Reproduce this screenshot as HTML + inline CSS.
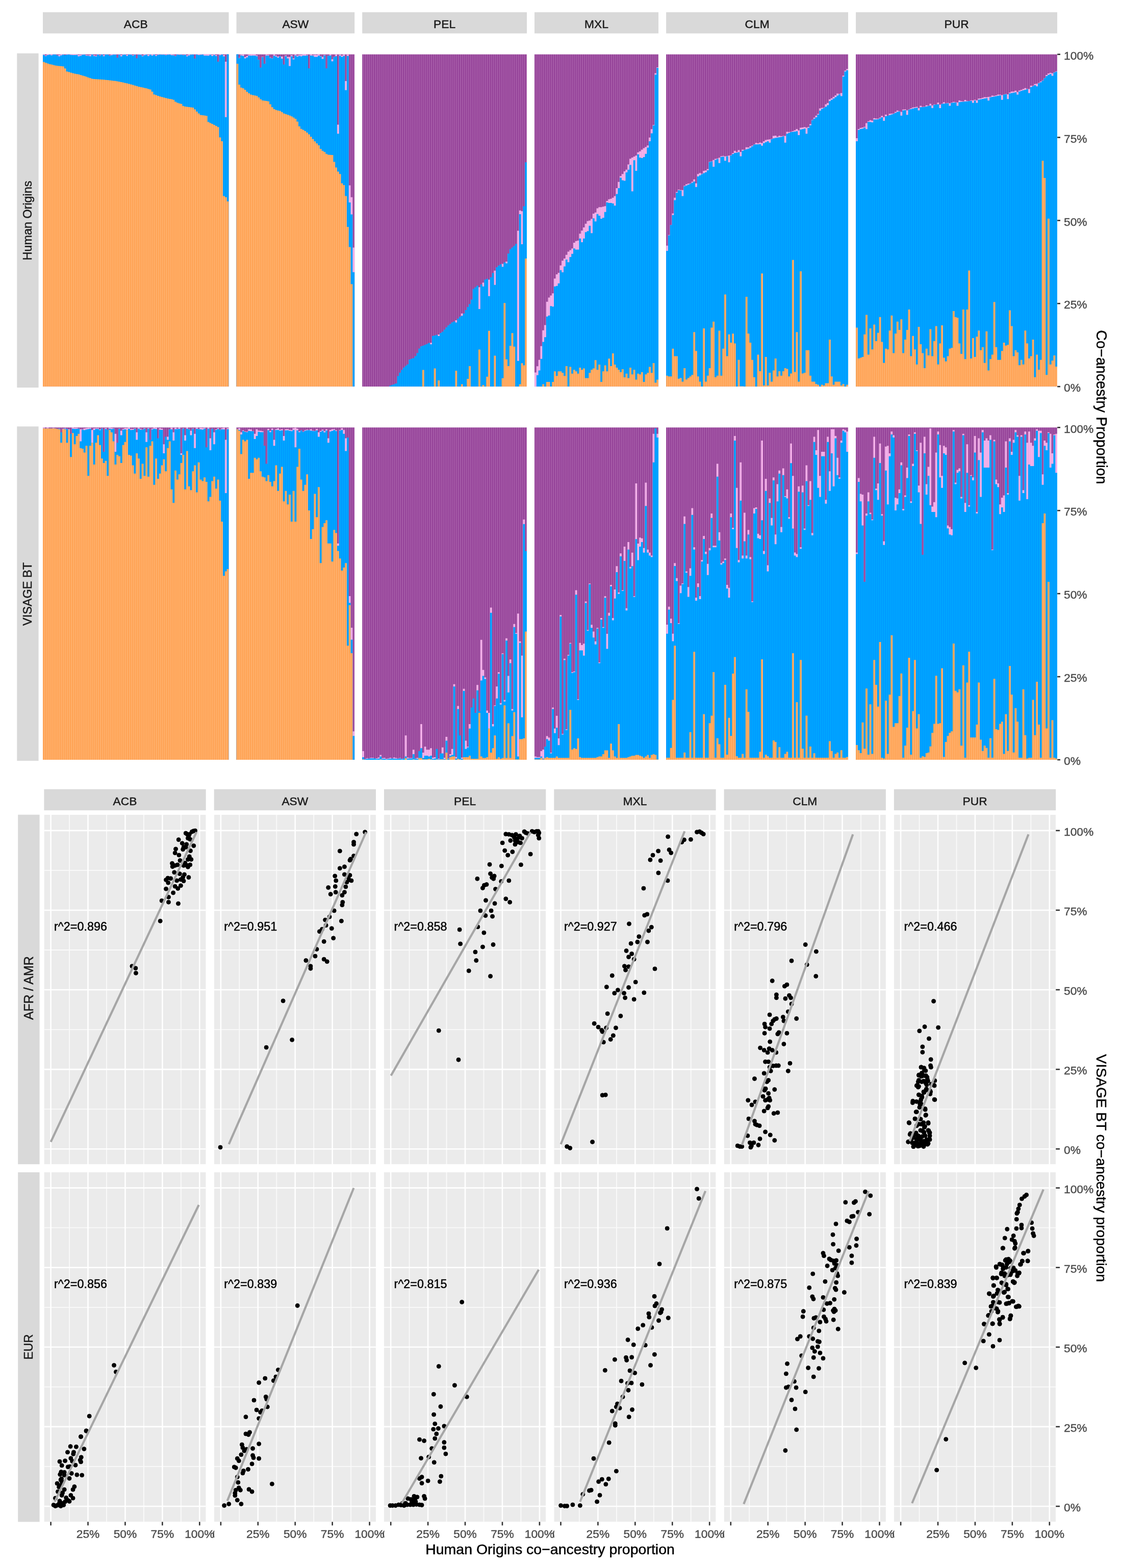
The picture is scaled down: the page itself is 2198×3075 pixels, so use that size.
<!DOCTYPE html>
<html><head><meta charset="utf-8"><title>Co-ancestry figure</title>
<style>html,body{margin:0;padding:0;background:#fff;}svg{display:block;}text{font-family:"Liberation Sans", Arial, Helvetica, sans-serif;stroke-width:0.45;}</style>
</head><body>
<svg width="2198" height="3075" viewBox="0 0 2198 3075">
<defs><pattern id="pACB1u" patternUnits="userSpaceOnUse" x="84.000" y="0" width="3.797" height="4000"><rect width="3.797" height="4000" fill="#923E96"/><rect x="2.097" width="1.7" height="4000" fill="#AB63AD"/></pattern><pattern id="pACB1k" patternUnits="userSpaceOnUse" x="84.000" y="0" width="3.797" height="4000"><rect width="3.797" height="4000" fill="#EEA6E4"/><rect x="2.097" width="1.7" height="4000" fill="#F6B8EC"/></pattern><pattern id="pACB1b" patternUnits="userSpaceOnUse" x="84.000" y="0" width="3.797" height="4000"><rect width="3.797" height="4000" fill="#0098FF"/><rect x="2.097" width="1.7" height="4000" fill="#00ABFF"/></pattern><pattern id="pACB1o" patternUnits="userSpaceOnUse" x="84.000" y="0" width="3.797" height="4000"><rect width="3.797" height="4000" fill="#FFA050"/><rect x="2.097" width="1.7" height="4000" fill="#FFB472"/></pattern><pattern id="pASW1u" patternUnits="userSpaceOnUse" x="463.572" y="0" width="3.797" height="4000"><rect width="3.797" height="4000" fill="#923E96"/><rect x="2.097" width="1.7" height="4000" fill="#AB63AD"/></pattern><pattern id="pASW1k" patternUnits="userSpaceOnUse" x="463.572" y="0" width="3.797" height="4000"><rect width="3.797" height="4000" fill="#EEA6E4"/><rect x="2.097" width="1.7" height="4000" fill="#F6B8EC"/></pattern><pattern id="pASW1b" patternUnits="userSpaceOnUse" x="463.572" y="0" width="3.797" height="4000"><rect width="3.797" height="4000" fill="#0098FF"/><rect x="2.097" width="1.7" height="4000" fill="#00ABFF"/></pattern><pattern id="pASW1o" patternUnits="userSpaceOnUse" x="463.572" y="0" width="3.797" height="4000"><rect width="3.797" height="4000" fill="#FFA050"/><rect x="2.097" width="1.7" height="4000" fill="#FFB472"/></pattern><pattern id="pPEL1u" patternUnits="userSpaceOnUse" x="710.249" y="0" width="3.797" height="4000"><rect width="3.797" height="4000" fill="#923E96"/><rect x="2.097" width="1.7" height="4000" fill="#AB63AD"/></pattern><pattern id="pPEL1k" patternUnits="userSpaceOnUse" x="710.249" y="0" width="3.797" height="4000"><rect width="3.797" height="4000" fill="#EEA6E4"/><rect x="2.097" width="1.7" height="4000" fill="#F6B8EC"/></pattern><pattern id="pPEL1b" patternUnits="userSpaceOnUse" x="710.249" y="0" width="3.797" height="4000"><rect width="3.797" height="4000" fill="#0098FF"/><rect x="2.097" width="1.7" height="4000" fill="#00ABFF"/></pattern><pattern id="pPEL1o" patternUnits="userSpaceOnUse" x="710.249" y="0" width="3.797" height="4000"><rect width="3.797" height="4000" fill="#FFA050"/><rect x="2.097" width="1.7" height="4000" fill="#FFB472"/></pattern><pattern id="pMXL1u" patternUnits="userSpaceOnUse" x="1048.054" y="0" width="3.797" height="4000"><rect width="3.797" height="4000" fill="#923E96"/><rect x="2.097" width="1.7" height="4000" fill="#AB63AD"/></pattern><pattern id="pMXL1k" patternUnits="userSpaceOnUse" x="1048.054" y="0" width="3.797" height="4000"><rect width="3.797" height="4000" fill="#EEA6E4"/><rect x="2.097" width="1.7" height="4000" fill="#F6B8EC"/></pattern><pattern id="pMXL1b" patternUnits="userSpaceOnUse" x="1048.054" y="0" width="3.797" height="4000"><rect width="3.797" height="4000" fill="#0098FF"/><rect x="2.097" width="1.7" height="4000" fill="#00ABFF"/></pattern><pattern id="pMXL1o" patternUnits="userSpaceOnUse" x="1048.054" y="0" width="3.797" height="4000"><rect width="3.797" height="4000" fill="#FFA050"/><rect x="2.097" width="1.7" height="4000" fill="#FFB472"/></pattern><pattern id="pCLM1u" patternUnits="userSpaceOnUse" x="1306.122" y="0" width="3.797" height="4000"><rect width="3.797" height="4000" fill="#923E96"/><rect x="2.097" width="1.7" height="4000" fill="#AB63AD"/></pattern><pattern id="pCLM1k" patternUnits="userSpaceOnUse" x="1306.122" y="0" width="3.797" height="4000"><rect width="3.797" height="4000" fill="#EEA6E4"/><rect x="2.097" width="1.7" height="4000" fill="#F6B8EC"/></pattern><pattern id="pCLM1b" patternUnits="userSpaceOnUse" x="1306.122" y="0" width="3.797" height="4000"><rect width="3.797" height="4000" fill="#0098FF"/><rect x="2.097" width="1.7" height="4000" fill="#00ABFF"/></pattern><pattern id="pCLM1o" patternUnits="userSpaceOnUse" x="1306.122" y="0" width="3.797" height="4000"><rect width="3.797" height="4000" fill="#FFA050"/><rect x="2.097" width="1.7" height="4000" fill="#FFB472"/></pattern><pattern id="pPUR1u" patternUnits="userSpaceOnUse" x="1678.100" y="0" width="3.797" height="4000"><rect width="3.797" height="4000" fill="#923E96"/><rect x="2.097" width="1.7" height="4000" fill="#AB63AD"/></pattern><pattern id="pPUR1k" patternUnits="userSpaceOnUse" x="1678.100" y="0" width="3.797" height="4000"><rect width="3.797" height="4000" fill="#EEA6E4"/><rect x="2.097" width="1.7" height="4000" fill="#F6B8EC"/></pattern><pattern id="pPUR1b" patternUnits="userSpaceOnUse" x="1678.100" y="0" width="3.797" height="4000"><rect width="3.797" height="4000" fill="#0098FF"/><rect x="2.097" width="1.7" height="4000" fill="#00ABFF"/></pattern><pattern id="pPUR1o" patternUnits="userSpaceOnUse" x="1678.100" y="0" width="3.797" height="4000"><rect width="3.797" height="4000" fill="#FFA050"/><rect x="2.097" width="1.7" height="4000" fill="#FFB472"/></pattern><pattern id="pACB2u" patternUnits="userSpaceOnUse" x="84.000" y="0" width="3.797" height="4000"><rect width="3.797" height="4000" fill="#923E96"/><rect x="2.097" width="1.7" height="4000" fill="#AB63AD"/></pattern><pattern id="pACB2k" patternUnits="userSpaceOnUse" x="84.000" y="0" width="3.797" height="4000"><rect width="3.797" height="4000" fill="#EEA6E4"/><rect x="2.097" width="1.7" height="4000" fill="#F6B8EC"/></pattern><pattern id="pACB2b" patternUnits="userSpaceOnUse" x="84.000" y="0" width="3.797" height="4000"><rect width="3.797" height="4000" fill="#0098FF"/><rect x="2.097" width="1.7" height="4000" fill="#00ABFF"/></pattern><pattern id="pACB2o" patternUnits="userSpaceOnUse" x="84.000" y="0" width="3.797" height="4000"><rect width="3.797" height="4000" fill="#FFA050"/><rect x="2.097" width="1.7" height="4000" fill="#FFB472"/></pattern><pattern id="pASW2u" patternUnits="userSpaceOnUse" x="463.572" y="0" width="3.797" height="4000"><rect width="3.797" height="4000" fill="#923E96"/><rect x="2.097" width="1.7" height="4000" fill="#AB63AD"/></pattern><pattern id="pASW2k" patternUnits="userSpaceOnUse" x="463.572" y="0" width="3.797" height="4000"><rect width="3.797" height="4000" fill="#EEA6E4"/><rect x="2.097" width="1.7" height="4000" fill="#F6B8EC"/></pattern><pattern id="pASW2b" patternUnits="userSpaceOnUse" x="463.572" y="0" width="3.797" height="4000"><rect width="3.797" height="4000" fill="#0098FF"/><rect x="2.097" width="1.7" height="4000" fill="#00ABFF"/></pattern><pattern id="pASW2o" patternUnits="userSpaceOnUse" x="463.572" y="0" width="3.797" height="4000"><rect width="3.797" height="4000" fill="#FFA050"/><rect x="2.097" width="1.7" height="4000" fill="#FFB472"/></pattern><pattern id="pPEL2u" patternUnits="userSpaceOnUse" x="710.249" y="0" width="3.797" height="4000"><rect width="3.797" height="4000" fill="#923E96"/><rect x="2.097" width="1.7" height="4000" fill="#AB63AD"/></pattern><pattern id="pPEL2k" patternUnits="userSpaceOnUse" x="710.249" y="0" width="3.797" height="4000"><rect width="3.797" height="4000" fill="#EEA6E4"/><rect x="2.097" width="1.7" height="4000" fill="#F6B8EC"/></pattern><pattern id="pPEL2b" patternUnits="userSpaceOnUse" x="710.249" y="0" width="3.797" height="4000"><rect width="3.797" height="4000" fill="#0098FF"/><rect x="2.097" width="1.7" height="4000" fill="#00ABFF"/></pattern><pattern id="pPEL2o" patternUnits="userSpaceOnUse" x="710.249" y="0" width="3.797" height="4000"><rect width="3.797" height="4000" fill="#FFA050"/><rect x="2.097" width="1.7" height="4000" fill="#FFB472"/></pattern><pattern id="pMXL2u" patternUnits="userSpaceOnUse" x="1048.054" y="0" width="3.797" height="4000"><rect width="3.797" height="4000" fill="#923E96"/><rect x="2.097" width="1.7" height="4000" fill="#AB63AD"/></pattern><pattern id="pMXL2k" patternUnits="userSpaceOnUse" x="1048.054" y="0" width="3.797" height="4000"><rect width="3.797" height="4000" fill="#EEA6E4"/><rect x="2.097" width="1.7" height="4000" fill="#F6B8EC"/></pattern><pattern id="pMXL2b" patternUnits="userSpaceOnUse" x="1048.054" y="0" width="3.797" height="4000"><rect width="3.797" height="4000" fill="#0098FF"/><rect x="2.097" width="1.7" height="4000" fill="#00ABFF"/></pattern><pattern id="pMXL2o" patternUnits="userSpaceOnUse" x="1048.054" y="0" width="3.797" height="4000"><rect width="3.797" height="4000" fill="#FFA050"/><rect x="2.097" width="1.7" height="4000" fill="#FFB472"/></pattern><pattern id="pCLM2u" patternUnits="userSpaceOnUse" x="1306.122" y="0" width="3.797" height="4000"><rect width="3.797" height="4000" fill="#923E96"/><rect x="2.097" width="1.7" height="4000" fill="#AB63AD"/></pattern><pattern id="pCLM2k" patternUnits="userSpaceOnUse" x="1306.122" y="0" width="3.797" height="4000"><rect width="3.797" height="4000" fill="#EEA6E4"/><rect x="2.097" width="1.7" height="4000" fill="#F6B8EC"/></pattern><pattern id="pCLM2b" patternUnits="userSpaceOnUse" x="1306.122" y="0" width="3.797" height="4000"><rect width="3.797" height="4000" fill="#0098FF"/><rect x="2.097" width="1.7" height="4000" fill="#00ABFF"/></pattern><pattern id="pCLM2o" patternUnits="userSpaceOnUse" x="1306.122" y="0" width="3.797" height="4000"><rect width="3.797" height="4000" fill="#FFA050"/><rect x="2.097" width="1.7" height="4000" fill="#FFB472"/></pattern><pattern id="pPUR2u" patternUnits="userSpaceOnUse" x="1678.100" y="0" width="3.797" height="4000"><rect width="3.797" height="4000" fill="#923E96"/><rect x="2.097" width="1.7" height="4000" fill="#AB63AD"/></pattern><pattern id="pPUR2k" patternUnits="userSpaceOnUse" x="1678.100" y="0" width="3.797" height="4000"><rect width="3.797" height="4000" fill="#EEA6E4"/><rect x="2.097" width="1.7" height="4000" fill="#F6B8EC"/></pattern><pattern id="pPUR2b" patternUnits="userSpaceOnUse" x="1678.100" y="0" width="3.797" height="4000"><rect width="3.797" height="4000" fill="#0098FF"/><rect x="2.097" width="1.7" height="4000" fill="#00ABFF"/></pattern><pattern id="pPUR2o" patternUnits="userSpaceOnUse" x="1678.100" y="0" width="3.797" height="4000"><rect width="3.797" height="4000" fill="#FFA050"/><rect x="2.097" width="1.7" height="4000" fill="#FFB472"/></pattern></defs>
<rect width="2198" height="3075" fill="#fff"/>
<g>
<rect x="84.00" y="24" width="364.51" height="41.5" fill="#D9D9D9"/>
<text x="266.26" y="54.8" font-size="22.8" text-anchor="middle" fill="#1A1A1A" stroke="#1A1A1A">ACB</text>
<rect x="463.57" y="24" width="231.62" height="41.5" fill="#D9D9D9"/>
<text x="579.38" y="54.8" font-size="22.8" text-anchor="middle" fill="#1A1A1A" stroke="#1A1A1A">ASW</text>
<rect x="710.25" y="24" width="322.75" height="41.5" fill="#D9D9D9"/>
<text x="871.62" y="54.8" font-size="22.8" text-anchor="middle" fill="#1A1A1A" stroke="#1A1A1A">PEL</text>
<rect x="1048.05" y="24" width="243.01" height="41.5" fill="#D9D9D9"/>
<text x="1169.56" y="54.8" font-size="22.8" text-anchor="middle" fill="#1A1A1A" stroke="#1A1A1A">MXL</text>
<rect x="1306.12" y="24" width="356.92" height="41.5" fill="#D9D9D9"/>
<text x="1484.58" y="54.8" font-size="22.8" text-anchor="middle" fill="#1A1A1A" stroke="#1A1A1A">CLM</text>
<rect x="1678.10" y="24" width="394.89" height="41.5" fill="#D9D9D9"/>
<text x="1875.54" y="54.8" font-size="22.8" text-anchor="middle" fill="#1A1A1A" stroke="#1A1A1A">PUR</text>
<g>
<rect x="84.00" y="106.6" width="364.51" height="651.50" fill="url(#pACB1u)"/>
<path d="M84.00 106.60h3.80V758.10h-3.80ZM87.80 108.72h3.80V758.10h-3.80ZM91.59 106.60h3.80V758.10h-3.80ZM95.39 106.60h3.80V758.10h-3.80ZM99.19 106.60h3.80V758.10h-3.80ZM102.98 106.60h3.80V758.10h-3.80ZM106.78 106.60h3.80V758.10h-3.80ZM110.58 108.65h3.80V758.10h-3.80ZM114.38 107.64h3.80V758.10h-3.80ZM118.17 106.77h3.80V758.10h-3.80ZM121.97 107.12h3.80V758.10h-3.80ZM125.77 107.89h3.80V758.10h-3.80ZM129.56 106.60h3.80V758.10h-3.80ZM133.36 106.60h3.80V758.10h-3.80ZM137.16 106.60h3.80V758.10h-3.80ZM140.96 106.60h3.80V758.10h-3.80ZM144.75 106.60h3.80V758.10h-3.80ZM148.55 107.00h3.80V758.10h-3.80ZM152.35 107.66h3.80V758.10h-3.80ZM156.14 107.49h3.80V758.10h-3.80ZM159.94 106.75h3.80V758.10h-3.80ZM163.74 107.16h3.80V758.10h-3.80ZM167.53 107.97h3.80V758.10h-3.80ZM171.33 108.47h3.80V758.10h-3.80ZM175.13 107.82h3.80V758.10h-3.80ZM178.93 106.60h3.80V758.10h-3.80ZM182.72 108.62h3.80V758.10h-3.80ZM186.52 109.30h3.80V758.10h-3.80ZM190.32 106.60h3.80V758.10h-3.80ZM194.11 108.42h3.80V758.10h-3.80ZM197.91 106.60h3.80V758.10h-3.80ZM201.71 108.13h3.80V758.10h-3.80ZM205.50 106.60h3.80V758.10h-3.80ZM209.30 106.94h3.80V758.10h-3.80ZM213.10 108.80h3.80V758.10h-3.80ZM216.90 106.86h3.80V758.10h-3.80ZM220.69 106.60h3.80V758.10h-3.80ZM224.49 106.60h3.80V758.10h-3.80ZM232.08 106.60h3.80V758.10h-3.80ZM235.88 108.04h3.80V758.10h-3.80ZM239.68 106.60h3.80V758.10h-3.80ZM243.47 106.60h3.80V758.10h-3.80ZM247.27 107.77h3.80V758.10h-3.80ZM251.07 106.60h3.80V758.10h-3.80ZM254.87 106.60h3.80V758.10h-3.80ZM258.66 108.22h3.80V758.10h-3.80ZM262.46 107.17h3.80V758.10h-3.80ZM270.05 106.60h3.80V758.10h-3.80ZM273.85 106.60h3.80V758.10h-3.80ZM277.65 108.90h3.80V758.10h-3.80ZM281.44 106.60h3.80V758.10h-3.80ZM285.24 106.74h3.80V758.10h-3.80ZM289.04 107.58h3.80V758.10h-3.80ZM292.84 106.74h3.80V758.10h-3.80ZM296.63 106.60h3.80V758.10h-3.80ZM300.43 106.60h3.80V758.10h-3.80ZM304.23 108.05h3.80V758.10h-3.80ZM308.02 107.40h3.80V758.10h-3.80ZM311.82 106.60h3.80V758.10h-3.80ZM315.62 106.60h3.80V758.10h-3.80ZM319.41 106.60h3.80V758.10h-3.80ZM323.21 107.47h3.80V758.10h-3.80ZM327.01 106.60h3.80V758.10h-3.80ZM330.81 106.60h3.80V758.10h-3.80ZM334.60 106.60h3.80V758.10h-3.80ZM338.40 107.58h3.80V758.10h-3.80ZM342.20 109.45h3.80V758.10h-3.80ZM345.99 106.60h3.80V758.10h-3.80ZM349.79 107.60h3.80V758.10h-3.80ZM353.59 106.60h3.80V758.10h-3.80ZM357.38 107.85h3.80V758.10h-3.80ZM361.18 106.60h3.80V758.10h-3.80ZM364.98 108.54h3.80V758.10h-3.80ZM368.78 107.04h3.80V758.10h-3.80ZM372.57 107.04h3.80V758.10h-3.80ZM376.37 106.60h3.80V758.10h-3.80ZM383.96 106.60h3.80V758.10h-3.80ZM387.76 106.60h3.80V758.10h-3.80ZM391.56 106.60h3.80V758.10h-3.80ZM395.35 106.60h3.80V758.10h-3.80ZM399.15 106.60h3.80V758.10h-3.80ZM402.95 106.92h3.80V758.10h-3.80ZM406.75 106.60h3.80V758.10h-3.80ZM410.54 106.60h3.80V758.10h-3.80ZM414.34 107.38h3.80V758.10h-3.80ZM418.14 106.60h3.80V758.10h-3.80ZM421.93 108.02h3.80V758.10h-3.80ZM429.53 106.60h3.80V758.10h-3.80ZM433.32 106.60h3.80V758.10h-3.80ZM437.12 107.97h3.80V758.10h-3.80ZM440.92 120.93h3.80V758.10h-3.80Z" fill="url(#pACB1k)"/>
<path d="M84.00 107.80h3.80V758.10h-3.80ZM87.80 110.10h3.80V758.10h-3.80ZM91.59 107.99h3.80V758.10h-3.80ZM95.39 107.20h3.80V758.10h-3.80ZM99.19 108.48h3.80V758.10h-3.80ZM102.98 107.11h3.80V758.10h-3.80ZM106.78 107.10h3.80V758.10h-3.80ZM110.58 108.78h3.80V758.10h-3.80ZM114.38 110.49h3.80V758.10h-3.80ZM118.17 108.59h3.80V758.10h-3.80ZM121.97 107.16h3.80V758.10h-3.80ZM125.77 108.06h3.80V758.10h-3.80ZM129.56 107.20h3.80V758.10h-3.80ZM133.36 107.08h3.80V758.10h-3.80ZM137.16 107.76h3.80V758.10h-3.80ZM140.96 108.03h3.80V758.10h-3.80ZM144.75 107.96h3.80V758.10h-3.80ZM148.55 107.82h3.80V758.10h-3.80ZM152.35 110.60h3.80V758.10h-3.80ZM156.14 109.57h3.80V758.10h-3.80ZM159.94 107.43h3.80V758.10h-3.80ZM163.74 107.37h3.80V758.10h-3.80ZM167.53 109.15h3.80V758.10h-3.80ZM171.33 109.61h3.80V758.10h-3.80ZM175.13 110.32h3.80V758.10h-3.80ZM178.93 107.08h3.80V758.10h-3.80ZM182.72 110.01h3.80V758.10h-3.80ZM186.52 110.48h3.80V758.10h-3.80ZM190.32 107.09h3.80V758.10h-3.80ZM194.11 109.22h3.80V758.10h-3.80ZM197.91 107.10h3.80V758.10h-3.80ZM201.71 110.36h3.80V758.10h-3.80ZM205.50 107.12h3.80V758.10h-3.80ZM209.30 107.11h3.80V758.10h-3.80ZM213.10 109.32h3.80V758.10h-3.80ZM216.90 108.18h3.80V758.10h-3.80ZM220.69 107.20h3.80V758.10h-3.80ZM224.49 107.14h3.80V758.10h-3.80ZM228.29 113.27h3.80V758.10h-3.80ZM232.08 107.24h3.80V758.10h-3.80ZM235.88 110.41h3.80V758.10h-3.80ZM239.68 107.40h3.80V758.10h-3.80ZM243.47 107.23h3.80V758.10h-3.80ZM247.27 109.66h3.80V758.10h-3.80ZM251.07 107.11h3.80V758.10h-3.80ZM254.87 107.24h3.80V758.10h-3.80ZM258.66 109.19h3.80V758.10h-3.80ZM262.46 107.39h3.80V758.10h-3.80ZM266.26 114.15h3.80V758.10h-3.80ZM270.05 107.28h3.80V758.10h-3.80ZM273.85 107.56h3.80V758.10h-3.80ZM277.65 110.33h3.80V758.10h-3.80ZM281.44 108.24h3.80V758.10h-3.80ZM285.24 107.19h3.80V758.10h-3.80ZM289.04 109.99h3.80V758.10h-3.80ZM292.84 107.30h3.80V758.10h-3.80ZM296.63 109.01h3.80V758.10h-3.80ZM300.43 107.21h3.80V758.10h-3.80ZM304.23 109.83h3.80V758.10h-3.80ZM308.02 107.70h3.80V758.10h-3.80ZM311.82 107.08h3.80V758.10h-3.80ZM315.62 107.28h3.80V758.10h-3.80ZM319.41 107.31h3.80V758.10h-3.80ZM323.21 108.33h3.80V758.10h-3.80ZM327.01 107.18h3.80V758.10h-3.80ZM330.81 107.09h3.80V758.10h-3.80ZM334.60 108.18h3.80V758.10h-3.80ZM338.40 108.41h3.80V758.10h-3.80ZM342.20 110.05h3.80V758.10h-3.80ZM345.99 107.08h3.80V758.10h-3.80ZM349.79 107.78h3.80V758.10h-3.80ZM353.59 107.19h3.80V758.10h-3.80ZM357.38 108.23h3.80V758.10h-3.80ZM361.18 107.54h3.80V758.10h-3.80ZM364.98 110.48h3.80V758.10h-3.80ZM368.78 108.77h3.80V758.10h-3.80ZM372.57 107.15h3.80V758.10h-3.80ZM376.37 107.08h3.80V758.10h-3.80ZM380.17 114.74h3.80V758.10h-3.80ZM383.96 107.08h3.80V758.10h-3.80ZM387.76 107.90h3.80V758.10h-3.80ZM391.56 107.44h3.80V758.10h-3.80ZM395.35 107.10h3.80V758.10h-3.80ZM399.15 109.00h3.80V758.10h-3.80ZM402.95 109.00h3.80V758.10h-3.80ZM406.75 109.30h3.80V758.10h-3.80ZM410.54 107.51h3.80V758.10h-3.80ZM414.34 109.95h3.80V758.10h-3.80ZM418.14 107.69h3.80V758.10h-3.80ZM421.93 109.71h3.80V758.10h-3.80ZM425.73 120.93h3.80V758.10h-3.80ZM429.53 108.28h3.80V758.10h-3.80ZM433.32 107.10h3.80V758.10h-3.80ZM437.12 110.57h3.80V758.10h-3.80ZM440.92 229.72h3.80V758.10h-3.80ZM444.72 106.60h3.80V758.10h-3.80Z" fill="url(#pACB1b)"/>
<path d="M84.00 121.47h3.80V758.10h-3.80ZM87.80 123.01h3.80V758.10h-3.80ZM91.59 124.55h3.80V758.10h-3.80ZM95.39 125.67h3.80V758.10h-3.80ZM99.19 126.58h3.80V758.10h-3.80ZM102.98 127.49h3.80V758.10h-3.80ZM106.78 128.40h3.80V758.10h-3.80ZM110.58 128.96h3.80V758.10h-3.80ZM114.38 129.41h3.80V758.10h-3.80ZM118.17 129.87h3.80V758.10h-3.80ZM121.97 130.32h3.80V758.10h-3.80ZM125.77 134.16h3.80V758.10h-3.80ZM129.56 140.20h3.80V758.10h-3.80ZM133.36 141.34h3.80V758.10h-3.80ZM137.16 142.48h3.80V758.10h-3.80ZM140.96 143.62h3.80V758.10h-3.80ZM144.75 144.52h3.80V758.10h-3.80ZM148.55 145.15h3.80V758.10h-3.80ZM152.35 145.86h3.80V758.10h-3.80ZM156.14 147.00h3.80V758.10h-3.80ZM159.94 148.14h3.80V758.10h-3.80ZM163.74 149.28h3.80V758.10h-3.80ZM167.53 150.49h3.80V758.10h-3.80ZM171.33 151.91h3.80V758.10h-3.80ZM175.13 153.34h3.80V758.10h-3.80ZM178.93 154.59h3.80V758.10h-3.80ZM182.72 154.88h3.80V758.10h-3.80ZM186.52 155.18h3.80V758.10h-3.80ZM190.32 155.47h3.80V758.10h-3.80ZM194.11 155.77h3.80V758.10h-3.80ZM197.91 156.06h3.80V758.10h-3.80ZM201.71 156.36h3.80V758.10h-3.80ZM205.50 156.68h3.80V758.10h-3.80ZM209.30 157.11h3.80V758.10h-3.80ZM213.10 157.54h3.80V758.10h-3.80ZM216.90 157.98h3.80V758.10h-3.80ZM220.69 158.41h3.80V758.10h-3.80ZM224.49 158.85h3.80V758.10h-3.80ZM228.29 159.52h3.80V758.10h-3.80ZM232.08 160.28h3.80V758.10h-3.80ZM235.88 161.04h3.80V758.10h-3.80ZM239.68 161.80h3.80V758.10h-3.80ZM243.47 162.68h3.80V758.10h-3.80ZM247.27 163.60h3.80V758.10h-3.80ZM251.07 164.51h3.80V758.10h-3.80ZM254.87 165.42h3.80V758.10h-3.80ZM258.66 166.55h3.80V758.10h-3.80ZM262.46 167.69h3.80V758.10h-3.80ZM266.26 168.83h3.80V758.10h-3.80ZM270.05 169.94h3.80V758.10h-3.80ZM273.85 170.78h3.80V758.10h-3.80ZM277.65 171.61h3.80V758.10h-3.80ZM281.44 172.45h3.80V758.10h-3.80ZM285.24 173.33h3.80V758.10h-3.80ZM289.04 174.42h3.80V758.10h-3.80ZM292.84 175.50h3.80V758.10h-3.80ZM296.63 179.75h3.80V758.10h-3.80ZM300.43 185.32h3.80V758.10h-3.80ZM304.23 186.61h3.80V758.10h-3.80ZM308.02 187.90h3.80V758.10h-3.80ZM311.82 189.19h3.80V758.10h-3.80ZM315.62 190.35h3.80V758.10h-3.80ZM319.41 191.34h3.80V758.10h-3.80ZM323.21 192.33h3.80V758.10h-3.80ZM327.01 193.31h3.80V758.10h-3.80ZM330.81 194.03h3.80V758.10h-3.80ZM334.60 194.54h3.80V758.10h-3.80ZM338.40 195.79h3.80V758.10h-3.80ZM342.20 199.59h3.80V758.10h-3.80ZM345.99 201.56h3.80V758.10h-3.80ZM349.79 202.64h3.80V758.10h-3.80ZM353.59 203.73h3.80V758.10h-3.80ZM357.38 207.65h3.80V758.10h-3.80ZM361.18 208.91h3.80V758.10h-3.80ZM364.98 209.43h3.80V758.10h-3.80ZM368.78 209.96h3.80V758.10h-3.80ZM372.57 210.48h3.80V758.10h-3.80ZM376.37 211.01h3.80V758.10h-3.80ZM380.17 214.54h3.80V758.10h-3.80ZM383.96 218.66h3.80V758.10h-3.80ZM387.76 222.45h3.80V758.10h-3.80ZM391.56 225.44h3.80V758.10h-3.80ZM395.35 226.03h3.80V758.10h-3.80ZM399.15 226.62h3.80V758.10h-3.80ZM402.95 227.22h3.80V758.10h-3.80ZM406.75 239.26h3.80V758.10h-3.80ZM410.54 241.16h3.80V758.10h-3.80ZM414.34 243.06h3.80V758.10h-3.80ZM418.14 244.96h3.80V758.10h-3.80ZM421.93 247.04h3.80V758.10h-3.80ZM425.73 249.32h3.80V758.10h-3.80ZM429.53 269.54h3.80V758.10h-3.80ZM433.32 276.89h3.80V758.10h-3.80ZM437.12 384.40h3.80V758.10h-3.80ZM440.92 386.68h3.80V758.10h-3.80ZM444.72 395.01h3.80V758.10h-3.80Z" fill="url(#pACB1o)"/>
</g>
<g>
<rect x="463.57" y="106.6" width="231.62" height="651.50" fill="url(#pASW1u)"/>
<path d="M467.37 113.49h3.80V758.10h-3.80ZM471.17 107.30h3.80V758.10h-3.80ZM474.96 106.60h3.80V758.10h-3.80ZM478.76 111.99h3.80V758.10h-3.80ZM482.56 109.79h3.80V758.10h-3.80ZM486.35 107.28h3.80V758.10h-3.80ZM490.15 106.60h3.80V758.10h-3.80ZM493.95 106.60h3.80V758.10h-3.80ZM497.75 106.60h3.80V758.10h-3.80ZM501.54 108.51h3.80V758.10h-3.80ZM505.34 117.14h3.80V758.10h-3.80ZM512.93 111.52h3.80V758.10h-3.80ZM520.53 107.25h3.80V758.10h-3.80ZM524.32 107.77h3.80V758.10h-3.80ZM528.12 112.72h3.80V758.10h-3.80ZM531.92 114.36h3.80V758.10h-3.80ZM535.72 106.60h3.80V758.10h-3.80ZM539.51 109.01h3.80V758.10h-3.80ZM543.31 111.07h3.80V758.10h-3.80ZM547.11 110.46h3.80V758.10h-3.80ZM550.90 111.07h3.80V758.10h-3.80ZM558.50 108.84h3.80V758.10h-3.80ZM562.29 111.68h3.80V758.10h-3.80ZM566.09 111.79h3.80V758.10h-3.80ZM569.89 108.29h3.80V758.10h-3.80ZM573.68 114.52h3.80V758.10h-3.80ZM577.48 106.60h3.80V758.10h-3.80ZM581.28 108.88h3.80V758.10h-3.80ZM585.08 107.66h3.80V758.10h-3.80ZM588.87 107.44h3.80V758.10h-3.80ZM592.67 106.70h3.80V758.10h-3.80ZM596.47 106.60h3.80V758.10h-3.80ZM600.26 107.72h3.80V758.10h-3.80ZM607.86 106.98h3.80V758.10h-3.80ZM611.65 108.19h3.80V758.10h-3.80ZM615.45 107.56h3.80V758.10h-3.80ZM619.25 107.63h3.80V758.10h-3.80ZM623.05 106.60h3.80V758.10h-3.80ZM626.84 109.63h3.80V758.10h-3.80ZM630.64 111.69h3.80V758.10h-3.80ZM634.44 107.74h3.80V758.10h-3.80ZM642.03 109.50h3.80V758.10h-3.80ZM645.83 106.60h3.80V758.10h-3.80ZM649.62 116.14h3.80V758.10h-3.80ZM653.42 111.74h3.80V758.10h-3.80ZM657.22 106.82h3.80V758.10h-3.80ZM661.02 244.46h3.80V758.10h-3.80ZM664.81 107.29h3.80V758.10h-3.80ZM668.61 108.94h3.80V758.10h-3.80ZM672.41 106.60h3.80V758.10h-3.80ZM676.20 158.96h3.80V758.10h-3.80ZM680.00 106.60h3.80V758.10h-3.80ZM683.80 363.56h3.80V758.10h-3.80ZM687.60 386.85h3.80V758.10h-3.80ZM691.39 485.61h3.80V758.10h-3.80Z" fill="url(#pASW1k)"/>
<path d="M463.57 106.60h3.80V758.10h-3.80ZM467.37 114.08h3.80V758.10h-3.80ZM471.17 108.85h3.80V758.10h-3.80ZM474.96 109.73h3.80V758.10h-3.80ZM478.76 114.47h3.80V758.10h-3.80ZM482.56 112.52h3.80V758.10h-3.80ZM486.35 109.09h3.80V758.10h-3.80ZM490.15 109.15h3.80V758.10h-3.80ZM493.95 108.89h3.80V758.10h-3.80ZM497.75 108.91h3.80V758.10h-3.80ZM501.54 110.18h3.80V758.10h-3.80ZM505.34 117.21h3.80V758.10h-3.80ZM509.14 132.43h3.80V758.10h-3.80ZM512.93 111.90h3.80V758.10h-3.80ZM516.73 125.06h3.80V758.10h-3.80ZM520.53 108.99h3.80V758.10h-3.80ZM524.32 109.06h3.80V758.10h-3.80ZM528.12 113.40h3.80V758.10h-3.80ZM531.92 114.57h3.80V758.10h-3.80ZM535.72 109.19h3.80V758.10h-3.80ZM539.51 110.74h3.80V758.10h-3.80ZM543.31 113.03h3.80V758.10h-3.80ZM547.11 110.59h3.80V758.10h-3.80ZM550.90 115.07h3.80V758.10h-3.80ZM554.70 126.53h3.80V758.10h-3.80ZM558.50 110.34h3.80V758.10h-3.80ZM562.29 114.46h3.80V758.10h-3.80ZM566.09 129.48h3.80V758.10h-3.80ZM569.89 110.40h3.80V758.10h-3.80ZM573.68 116.58h3.80V758.10h-3.80ZM577.48 108.85h3.80V758.10h-3.80ZM581.28 111.03h3.80V758.10h-3.80ZM585.08 109.43h3.80V758.10h-3.80ZM588.87 110.62h3.80V758.10h-3.80ZM592.67 108.97h3.80V758.10h-3.80ZM596.47 109.22h3.80V758.10h-3.80ZM600.26 108.86h3.80V758.10h-3.80ZM604.06 133.90h3.80V758.10h-3.80ZM607.86 108.88h3.80V758.10h-3.80ZM611.65 109.36h3.80V758.10h-3.80ZM615.45 111.52h3.80V758.10h-3.80ZM619.25 111.57h3.80V758.10h-3.80ZM623.05 109.18h3.80V758.10h-3.80ZM626.84 110.41h3.80V758.10h-3.80ZM630.64 115.45h3.80V758.10h-3.80ZM634.44 108.84h3.80V758.10h-3.80ZM638.23 133.90h3.80V758.10h-3.80ZM642.03 109.53h3.80V758.10h-3.80ZM645.83 108.86h3.80V758.10h-3.80ZM649.62 120.26h3.80V758.10h-3.80ZM653.42 111.84h3.80V758.10h-3.80ZM657.22 110.07h3.80V758.10h-3.80ZM661.02 262.15h3.80V758.10h-3.80ZM664.81 109.47h3.80V758.10h-3.80ZM668.61 111.53h3.80V758.10h-3.80ZM672.41 109.66h3.80V758.10h-3.80ZM676.20 176.65h3.80V758.10h-3.80ZM680.00 109.85h3.80V758.10h-3.80ZM683.80 396.88h3.80V758.10h-3.80ZM687.60 420.46h3.80V758.10h-3.80ZM691.39 533.67h3.80V758.10h-3.80Z" fill="url(#pASW1b)"/>
<path d="M463.57 125.06h3.80V758.10h-3.80ZM467.37 165.90h3.80V758.10h-3.80ZM471.17 171.66h3.80V758.10h-3.80ZM474.96 173.18h3.80V758.10h-3.80ZM478.76 176.20h3.80V758.10h-3.80ZM482.56 180.00h3.80V758.10h-3.80ZM486.35 183.11h3.80V758.10h-3.80ZM490.15 185.62h3.80V758.10h-3.80ZM493.95 186.38h3.80V758.10h-3.80ZM497.75 187.14h3.80V758.10h-3.80ZM501.54 188.03h3.80V758.10h-3.80ZM505.34 191.07h3.80V758.10h-3.80ZM509.14 194.44h3.80V758.10h-3.80ZM512.93 196.90h3.80V758.10h-3.80ZM516.73 197.49h3.80V758.10h-3.80ZM520.53 198.08h3.80V758.10h-3.80ZM524.32 198.67h3.80V758.10h-3.80ZM528.12 204.38h3.80V758.10h-3.80ZM531.92 210.19h3.80V758.10h-3.80ZM535.72 213.99h3.80V758.10h-3.80ZM539.51 215.68h3.80V758.10h-3.80ZM543.31 216.63h3.80V758.10h-3.80ZM547.11 217.58h3.80V758.10h-3.80ZM550.90 219.73h3.80V758.10h-3.80ZM554.70 222.45h3.80V758.10h-3.80ZM558.50 223.72h3.80V758.10h-3.80ZM562.29 224.98h3.80V758.10h-3.80ZM566.09 226.44h3.80V758.10h-3.80ZM569.89 228.13h3.80V758.10h-3.80ZM573.68 230.52h3.80V758.10h-3.80ZM577.48 232.90h3.80V758.10h-3.80ZM581.28 238.53h3.80V758.10h-3.80ZM585.08 247.65h3.80V758.10h-3.80ZM588.87 252.86h3.80V758.10h-3.80ZM592.67 254.75h3.80V758.10h-3.80ZM596.47 256.89h3.80V758.10h-3.80ZM600.26 259.93h3.80V758.10h-3.80ZM604.06 263.43h3.80V758.10h-3.80ZM607.86 268.18h3.80V758.10h-3.80ZM611.65 272.79h3.80V758.10h-3.80ZM615.45 277.34h3.80V758.10h-3.80ZM619.25 281.31h3.80V758.10h-3.80ZM623.05 285.11h3.80V758.10h-3.80ZM626.84 292.08h3.80V758.10h-3.80ZM630.64 295.85h3.80V758.10h-3.80ZM634.44 297.97h3.80V758.10h-3.80ZM638.23 301.77h3.80V758.10h-3.80ZM642.03 303.54h3.80V758.10h-3.80ZM645.83 303.76h3.80V758.10h-3.80ZM649.62 303.98h3.80V758.10h-3.80ZM653.42 317.53h3.80V758.10h-3.80ZM657.22 328.42h3.80V758.10h-3.80ZM661.02 336.47h3.80V758.10h-3.80ZM664.81 341.21h3.80V758.10h-3.80ZM668.61 359.43h3.80V758.10h-3.80ZM672.41 362.97h3.80V758.10h-3.80ZM676.20 384.49h3.80V758.10h-3.80ZM680.00 444.93h3.80V758.10h-3.80ZM683.80 484.43h3.80V758.10h-3.80ZM687.60 557.25h3.80V758.10h-3.80Z" fill="url(#pASW1o)"/>
</g>
<g>
<rect x="710.25" y="106.6" width="322.75" height="651.50" fill="url(#pPEL1u)"/>
<path d="M843.14 672.32h3.80V758.10h-3.80ZM858.33 656.10h3.80V758.10h-3.80ZM892.50 628.07h3.80V758.10h-3.80ZM903.90 614.79h3.80V758.10h-3.80ZM938.07 563.17h3.80V758.10h-3.80ZM945.66 554.32h3.80V758.10h-3.80ZM957.05 548.42h3.80V758.10h-3.80ZM968.45 530.72h3.80V758.10h-3.80ZM983.63 517.44h3.80V758.10h-3.80ZM991.23 513.02h3.80V758.10h-3.80ZM1014.01 452.54h3.80V758.10h-3.80ZM1017.81 412.71h3.80V758.10h-3.80ZM1021.60 414.19h3.80V758.10h-3.80Z" fill="url(#pPEL1k)"/>
<path d="M759.61 758.03h3.80V758.10h-3.80ZM763.41 756.29h3.80V758.10h-3.80ZM767.20 754.86h3.80V758.10h-3.80ZM771.00 753.44h3.80V758.10h-3.80ZM774.80 752.01h3.80V758.10h-3.80ZM778.60 737.40h3.80V758.10h-3.80ZM782.39 730.76h3.80V758.10h-3.80ZM786.19 725.33h3.80V758.10h-3.80ZM789.99 720.72h3.80V758.10h-3.80ZM793.78 717.56h3.80V758.10h-3.80ZM797.58 714.39h3.80V758.10h-3.80ZM801.38 705.01h3.80V758.10h-3.80ZM805.17 703.53h3.80V758.10h-3.80ZM808.97 702.27h3.80V758.10h-3.80ZM812.77 698.13h3.80V758.10h-3.80ZM816.57 692.16h3.80V758.10h-3.80ZM820.36 683.62h3.80V758.10h-3.80ZM824.16 679.01h3.80V758.10h-3.80ZM827.96 677.75h3.80V758.10h-3.80ZM831.75 676.35h3.80V758.10h-3.80ZM835.55 674.45h3.80V758.10h-3.80ZM839.35 672.55h3.80V758.10h-3.80ZM843.14 675.27h3.80V758.10h-3.80ZM846.94 658.74h3.80V758.10h-3.80ZM850.74 657.79h3.80V758.10h-3.80ZM854.54 656.84h3.80V758.10h-3.80ZM858.33 659.05h3.80V758.10h-3.80ZM862.13 653.02h3.80V758.10h-3.80ZM865.93 650.48h3.80V758.10h-3.80ZM869.72 646.27h3.80V758.10h-3.80ZM873.52 641.84h3.80V758.10h-3.80ZM877.32 638.11h3.80V758.10h-3.80ZM881.11 634.95h3.80V758.10h-3.80ZM884.91 632.07h3.80V758.10h-3.80ZM888.71 630.17h3.80V758.10h-3.80ZM892.50 632.50h3.80V758.10h-3.80ZM896.30 624.68h3.80V758.10h-3.80ZM900.10 621.10h3.80V758.10h-3.80ZM903.90 619.22h3.80V758.10h-3.80ZM907.69 614.74h3.80V758.10h-3.80ZM911.49 608.09h3.80V758.10h-3.80ZM915.29 601.88h3.80V758.10h-3.80ZM919.08 596.18h3.80V758.10h-3.80ZM922.88 587.43h3.80V758.10h-3.80ZM926.68 566.49h3.80V758.10h-3.80ZM930.48 563.33h3.80V758.10h-3.80ZM934.27 560.20h3.80V758.10h-3.80ZM938.07 605.94h3.80V758.10h-3.80ZM941.87 557.67h3.80V758.10h-3.80ZM945.66 561.69h3.80V758.10h-3.80ZM949.46 548.23h3.80V758.10h-3.80ZM953.26 546.81h3.80V758.10h-3.80ZM957.05 580.87h3.80V758.10h-3.80ZM960.85 543.79h3.80V758.10h-3.80ZM964.65 535.25h3.80V758.10h-3.80ZM968.45 558.74h3.80V758.10h-3.80ZM972.24 523.89h3.80V758.10h-3.80ZM976.04 520.85h3.80V758.10h-3.80ZM979.84 518.23h3.80V758.10h-3.80ZM983.63 523.34h3.80V758.10h-3.80ZM987.43 514.43h3.80V758.10h-3.80ZM991.23 516.56h3.80V758.10h-3.80ZM995.02 497.14h3.80V758.10h-3.80ZM998.82 488.60h3.80V758.10h-3.80ZM1002.62 485.31h3.80V758.10h-3.80ZM1006.41 482.11h3.80V758.10h-3.80ZM1010.21 478.32h3.80V758.10h-3.80ZM1014.01 707.72h3.80V758.10h-3.80ZM1017.81 420.09h3.80V758.10h-3.80ZM1021.60 479.09h3.80V758.10h-3.80ZM1025.40 404.39h3.80V758.10h-3.80ZM1029.20 318.31h3.80V758.10h-3.80Z" fill="url(#pPEL1b)"/>
<path d="M827.96 725.42h3.80V758.10h-3.80ZM850.74 722.47h3.80V758.10h-3.80ZM858.33 746.07h3.80V758.10h-3.80ZM892.50 726.90h3.80V758.10h-3.80ZM903.90 753.45h3.80V758.10h-3.80ZM915.29 743.12h3.80V758.10h-3.80ZM919.08 718.05h3.80V758.10h-3.80ZM938.07 685.60h3.80V758.10h-3.80ZM945.66 754.93h3.80V758.10h-3.80ZM953.26 738.70h3.80V758.10h-3.80ZM957.05 648.72h3.80V758.10h-3.80ZM968.45 697.40h3.80V758.10h-3.80ZM983.63 741.65h3.80V758.10h-3.80ZM987.43 594.14h3.80V758.10h-3.80ZM991.23 704.77h3.80V758.10h-3.80ZM995.02 718.05h3.80V758.10h-3.80ZM998.82 678.22h3.80V758.10h-3.80ZM1002.62 653.15h3.80V758.10h-3.80ZM1006.41 679.70h3.80V758.10h-3.80ZM1017.81 753.45h3.80V758.10h-3.80ZM1021.60 712.15h3.80V758.10h-3.80ZM1025.40 716.57h3.80V758.10h-3.80ZM1029.20 507.12h3.80V758.10h-3.80Z" fill="url(#pPEL1o)"/>
</g>
<g>
<rect x="1048.05" y="106.6" width="243.01" height="651.50" fill="url(#pMXL1u)"/>
<path d="M1048.05 730.55h3.80V758.10h-3.80ZM1051.85 718.13h3.80V758.10h-3.80ZM1055.65 705.71h3.80V758.10h-3.80ZM1059.45 678.80h3.80V758.10h-3.80ZM1063.24 647.75h3.80V758.10h-3.80ZM1067.04 637.40h3.80V758.10h-3.80ZM1070.84 591.87h3.80V758.10h-3.80ZM1074.63 583.59h3.80V758.10h-3.80ZM1078.43 579.45h3.80V758.10h-3.80ZM1082.23 575.31h3.80V758.10h-3.80ZM1086.02 546.33h3.80V758.10h-3.80ZM1089.82 538.05h3.80V758.10h-3.80ZM1093.62 534.94h3.80V758.10h-3.80ZM1097.42 520.45h3.80V758.10h-3.80ZM1101.21 511.14h3.80V758.10h-3.80ZM1105.01 507.00h3.80V758.10h-3.80ZM1108.81 499.75h3.80V758.10h-3.80ZM1112.60 493.54h3.80V758.10h-3.80ZM1116.40 490.44h3.80V758.10h-3.80ZM1120.20 487.33h3.80V758.10h-3.80ZM1123.99 475.95h3.80V758.10h-3.80ZM1127.79 472.84h3.80V758.10h-3.80ZM1131.59 471.81h3.80V758.10h-3.80ZM1135.38 458.35h3.80V758.10h-3.80ZM1139.18 452.14h3.80V758.10h-3.80ZM1142.98 445.93h3.80V758.10h-3.80ZM1146.78 438.69h3.80V758.10h-3.80ZM1150.57 433.51h3.80V758.10h-3.80ZM1154.37 432.48h3.80V758.10h-3.80ZM1158.17 429.37h3.80V758.10h-3.80ZM1161.96 419.02h3.80V758.10h-3.80ZM1165.76 416.70h3.80V758.10h-3.80ZM1169.56 408.42h3.80V758.10h-3.80ZM1173.36 406.35h3.80V758.10h-3.80ZM1177.15 406.35h3.80V758.10h-3.80ZM1180.95 405.32h3.80V758.10h-3.80ZM1184.75 404.28h3.80V758.10h-3.80ZM1188.54 393.94h3.80V758.10h-3.80ZM1192.34 390.83h3.80V758.10h-3.80ZM1196.14 389.80h3.80V758.10h-3.80ZM1199.93 387.73h3.80V758.10h-3.80ZM1203.73 384.62h3.80V758.10h-3.80ZM1207.53 369.10h3.80V758.10h-3.80ZM1211.33 356.68h3.80V758.10h-3.80ZM1215.12 345.29h3.80V758.10h-3.80ZM1218.92 341.15h3.80V758.10h-3.80ZM1222.72 335.98h3.80V758.10h-3.80ZM1226.51 332.87h3.80V758.10h-3.80ZM1230.31 322.52h3.80V758.10h-3.80ZM1234.11 311.14h3.80V758.10h-3.80ZM1237.90 309.07h3.80V758.10h-3.80ZM1241.70 307.00h3.80V758.10h-3.80ZM1245.50 304.93h3.80V758.10h-3.80ZM1249.30 298.72h3.80V758.10h-3.80ZM1253.09 296.65h3.80V758.10h-3.80ZM1256.89 293.54h3.80V758.10h-3.80ZM1260.69 290.44h3.80V758.10h-3.80ZM1264.48 288.37h3.80V758.10h-3.80ZM1268.28 285.26h3.80V758.10h-3.80ZM1272.08 269.74h3.80V758.10h-3.80ZM1275.87 253.18h3.80V758.10h-3.80ZM1279.67 244.90h3.80V758.10h-3.80ZM1283.47 143.47h3.80V758.10h-3.80ZM1287.27 132.08h3.80V758.10h-3.80Z" fill="url(#pMXL1k)"/>
<path d="M1048.05 758.08h3.80V758.10h-3.80ZM1051.85 735.73h3.80V758.10h-3.80ZM1055.65 726.41h3.80V758.10h-3.80ZM1059.45 703.64h3.80V758.10h-3.80ZM1063.24 670.52h3.80V758.10h-3.80ZM1067.04 661.21h3.80V758.10h-3.80ZM1070.84 620.84h3.80V758.10h-3.80ZM1074.63 618.77h3.80V758.10h-3.80ZM1078.43 600.14h3.80V758.10h-3.80ZM1082.23 601.18h3.80V758.10h-3.80ZM1086.02 561.85h3.80V758.10h-3.80ZM1089.82 560.82h3.80V758.10h-3.80ZM1093.62 555.64h3.80V758.10h-3.80ZM1097.42 529.77h3.80V758.10h-3.80ZM1101.21 533.91h3.80V758.10h-3.80ZM1105.01 522.52h3.80V758.10h-3.80ZM1108.81 509.07h3.80V758.10h-3.80ZM1112.60 514.24h3.80V758.10h-3.80ZM1116.40 503.89h3.80V758.10h-3.80ZM1120.20 497.68h3.80V758.10h-3.80ZM1123.99 487.33h3.80V758.10h-3.80ZM1127.79 489.40h3.80V758.10h-3.80ZM1131.59 489.40h3.80V758.10h-3.80ZM1135.38 467.67h3.80V758.10h-3.80ZM1139.18 474.91h3.80V758.10h-3.80ZM1142.98 467.67h3.80V758.10h-3.80ZM1146.78 455.25h3.80V758.10h-3.80ZM1150.57 453.18h3.80V758.10h-3.80ZM1154.37 442.83h3.80V758.10h-3.80ZM1158.17 457.32h3.80V758.10h-3.80ZM1161.96 428.34h3.80V758.10h-3.80ZM1165.76 434.30h3.80V758.10h-3.80ZM1169.56 419.81h3.80V758.10h-3.80ZM1173.36 422.91h3.80V758.10h-3.80ZM1177.15 429.12h3.80V758.10h-3.80ZM1180.95 427.05h3.80V758.10h-3.80ZM1184.75 415.67h3.80V758.10h-3.80ZM1188.54 397.04h3.80V758.10h-3.80ZM1192.34 398.07h3.80V758.10h-3.80ZM1196.14 398.07h3.80V758.10h-3.80ZM1199.93 399.11h3.80V758.10h-3.80ZM1203.73 403.25h3.80V758.10h-3.80ZM1207.53 380.48h3.80V758.10h-3.80ZM1211.33 369.10h3.80V758.10h-3.80ZM1215.12 348.40h3.80V758.10h-3.80ZM1218.92 353.57h3.80V758.10h-3.80ZM1222.72 354.61h3.80V758.10h-3.80ZM1226.51 338.05h3.80V758.10h-3.80ZM1230.31 332.87h3.80V758.10h-3.80ZM1234.11 323.56h3.80V758.10h-3.80ZM1237.90 375.31h3.80V758.10h-3.80ZM1241.70 314.24h3.80V758.10h-3.80ZM1245.50 334.94h3.80V758.10h-3.80ZM1249.30 302.86h3.80V758.10h-3.80ZM1253.09 309.07h3.80V758.10h-3.80ZM1256.89 310.10h3.80V758.10h-3.80ZM1260.69 308.03h3.80V758.10h-3.80ZM1264.48 301.82h3.80V758.10h-3.80ZM1268.28 289.40h3.80V758.10h-3.80ZM1272.08 276.98h3.80V758.10h-3.80ZM1275.87 261.46h3.80V758.10h-3.80ZM1279.67 245.93h3.80V758.10h-3.80ZM1283.47 146.57h3.80V758.10h-3.80ZM1287.27 133.12h3.80V758.10h-3.80Z" fill="url(#pMXL1b)"/>
<path d="M1063.24 753.39h3.80V758.10h-3.80ZM1070.84 748.97h3.80V758.10h-3.80ZM1074.63 748.97h3.80V758.10h-3.80ZM1082.23 748.97h3.80V758.10h-3.80ZM1086.02 728.32h3.80V758.10h-3.80ZM1089.82 737.17h3.80V758.10h-3.80ZM1093.62 728.32h3.80V758.10h-3.80ZM1097.42 728.32h3.80V758.10h-3.80ZM1101.21 731.27h3.80V758.10h-3.80ZM1105.01 737.17h3.80V758.10h-3.80ZM1108.81 717.99h3.80V758.10h-3.80ZM1116.40 719.47h3.80V758.10h-3.80ZM1120.20 732.74h3.80V758.10h-3.80ZM1123.99 725.37h3.80V758.10h-3.80ZM1127.79 728.32h3.80V758.10h-3.80ZM1131.59 732.74h3.80V758.10h-3.80ZM1135.38 720.94h3.80V758.10h-3.80ZM1139.18 725.37h3.80V758.10h-3.80ZM1142.98 722.42h3.80V758.10h-3.80ZM1146.78 741.59h3.80V758.10h-3.80ZM1150.57 741.59h3.80V758.10h-3.80ZM1154.37 731.27h3.80V758.10h-3.80ZM1158.17 725.37h3.80V758.10h-3.80ZM1161.96 722.42h3.80V758.10h-3.80ZM1165.76 706.19h3.80V758.10h-3.80ZM1169.56 725.37h3.80V758.10h-3.80ZM1173.36 715.04h3.80V758.10h-3.80ZM1177.15 748.97h3.80V758.10h-3.80ZM1180.95 728.32h3.80V758.10h-3.80ZM1184.75 716.52h3.80V758.10h-3.80ZM1188.54 728.32h3.80V758.10h-3.80ZM1192.34 703.24h3.80V758.10h-3.80ZM1196.14 717.99h3.80V758.10h-3.80ZM1199.93 692.92h3.80V758.10h-3.80ZM1203.73 715.04h3.80V758.10h-3.80ZM1207.53 720.94h3.80V758.10h-3.80ZM1211.33 725.37h3.80V758.10h-3.80ZM1215.12 729.79h3.80V758.10h-3.80ZM1218.92 723.89h3.80V758.10h-3.80ZM1222.72 740.12h3.80V758.10h-3.80ZM1226.51 732.74h3.80V758.10h-3.80ZM1230.31 741.59h3.80V758.10h-3.80ZM1234.11 720.94h3.80V758.10h-3.80ZM1237.90 734.22h3.80V758.10h-3.80ZM1241.70 725.37h3.80V758.10h-3.80ZM1245.50 744.54h3.80V758.10h-3.80ZM1249.30 732.74h3.80V758.10h-3.80ZM1253.09 734.22h3.80V758.10h-3.80ZM1256.89 729.79h3.80V758.10h-3.80ZM1260.69 748.97h3.80V758.10h-3.80ZM1264.48 734.22h3.80V758.10h-3.80ZM1268.28 731.27h3.80V758.10h-3.80ZM1272.08 719.47h3.80V758.10h-3.80ZM1275.87 731.27h3.80V758.10h-3.80ZM1279.67 712.09h3.80V758.10h-3.80ZM1283.47 750.44h3.80V758.10h-3.80ZM1287.27 744.54h3.80V758.10h-3.80Z" fill="url(#pMXL1o)"/>
</g>
<g>
<rect x="1306.12" y="106.6" width="356.92" height="651.50" fill="url(#pCLM1u)"/>
<path d="M1306.12 481.80h3.80V758.10h-3.80ZM1309.92 460.67h3.80V758.10h-3.80ZM1313.72 441.23h3.80V758.10h-3.80ZM1317.51 418.54h3.80V758.10h-3.80ZM1321.31 387.83h3.80V758.10h-3.80ZM1325.11 376.47h3.80V758.10h-3.80ZM1328.90 371.77h3.80V758.10h-3.80ZM1332.70 372.65h3.80V758.10h-3.80ZM1336.50 372.72h3.80V758.10h-3.80ZM1340.30 364.14h3.80V758.10h-3.80ZM1344.09 361.26h3.80V758.10h-3.80ZM1347.89 359.94h3.80V758.10h-3.80ZM1351.69 359.82h3.80V758.10h-3.80ZM1355.48 356.60h3.80V758.10h-3.80ZM1359.28 351.69h3.80V758.10h-3.80ZM1363.08 359.45h3.80V758.10h-3.80ZM1366.87 341.23h3.80V758.10h-3.80ZM1370.67 339.18h3.80V758.10h-3.80ZM1374.47 340.77h3.80V758.10h-3.80ZM1378.27 335.11h3.80V758.10h-3.80ZM1382.06 334.24h3.80V758.10h-3.80ZM1385.86 331.60h3.80V758.10h-3.80ZM1389.66 317.17h3.80V758.10h-3.80ZM1393.45 316.23h3.80V758.10h-3.80ZM1397.25 313.75h3.80V758.10h-3.80ZM1401.05 311.51h3.80V758.10h-3.80ZM1404.84 310.66h3.80V758.10h-3.80ZM1408.64 309.33h3.80V758.10h-3.80ZM1412.44 306.35h3.80V758.10h-3.80ZM1416.24 305.84h3.80V758.10h-3.80ZM1420.03 306.38h3.80V758.10h-3.80ZM1423.83 306.04h3.80V758.10h-3.80ZM1427.63 304.91h3.80V758.10h-3.80ZM1431.42 304.27h3.80V758.10h-3.80ZM1435.22 300.19h3.80V758.10h-3.80ZM1439.02 295.74h3.80V758.10h-3.80ZM1442.81 298.01h3.80V758.10h-3.80ZM1446.61 294.28h3.80V758.10h-3.80ZM1450.41 298.12h3.80V758.10h-3.80ZM1454.21 293.40h3.80V758.10h-3.80ZM1458.00 293.84h3.80V758.10h-3.80ZM1461.80 288.79h3.80V758.10h-3.80ZM1465.60 289.26h3.80V758.10h-3.80ZM1469.39 286.75h3.80V758.10h-3.80ZM1473.19 285.61h3.80V758.10h-3.80ZM1476.99 283.35h3.80V758.10h-3.80ZM1480.78 280.14h3.80V758.10h-3.80ZM1484.58 281.37h3.80V758.10h-3.80ZM1488.38 279.49h3.80V758.10h-3.80ZM1492.18 280.44h3.80V758.10h-3.80ZM1495.97 276.90h3.80V758.10h-3.80ZM1499.77 274.57h3.80V758.10h-3.80ZM1503.57 273.72h3.80V758.10h-3.80ZM1507.36 273.36h3.80V758.10h-3.80ZM1511.16 272.41h3.80V758.10h-3.80ZM1514.96 266.53h3.80V758.10h-3.80ZM1518.75 266.12h3.80V758.10h-3.80ZM1522.55 268.31h3.80V758.10h-3.80ZM1526.35 266.31h3.80V758.10h-3.80ZM1530.14 266.93h3.80V758.10h-3.80ZM1533.94 266.55h3.80V758.10h-3.80ZM1537.74 266.58h3.80V758.10h-3.80ZM1541.54 258.38h3.80V758.10h-3.80ZM1545.33 258.84h3.80V758.10h-3.80ZM1549.13 258.43h3.80V758.10h-3.80ZM1552.93 256.94h3.80V758.10h-3.80ZM1556.72 255.50h3.80V758.10h-3.80ZM1560.52 252.97h3.80V758.10h-3.80ZM1564.32 255.67h3.80V758.10h-3.80ZM1568.12 250.42h3.80V758.10h-3.80ZM1571.91 250.08h3.80V758.10h-3.80ZM1575.71 249.13h3.80V758.10h-3.80ZM1579.51 250.36h3.80V758.10h-3.80ZM1583.30 249.09h3.80V758.10h-3.80ZM1587.10 243.17h3.80V758.10h-3.80ZM1590.90 235.15h3.80V758.10h-3.80ZM1594.69 230.65h3.80V758.10h-3.80ZM1598.49 226.66h3.80V758.10h-3.80ZM1602.29 223.24h3.80V758.10h-3.80ZM1606.09 212.44h3.80V758.10h-3.80ZM1609.88 211.48h3.80V758.10h-3.80ZM1613.68 210.89h3.80V758.10h-3.80ZM1617.48 204.42h3.80V758.10h-3.80ZM1621.27 201.96h3.80V758.10h-3.80ZM1625.07 194.63h3.80V758.10h-3.80ZM1628.87 192.75h3.80V758.10h-3.80ZM1632.66 190.07h3.80V758.10h-3.80ZM1636.46 187.07h3.80V758.10h-3.80ZM1640.26 183.45h3.80V758.10h-3.80ZM1644.06 184.03h3.80V758.10h-3.80ZM1647.85 182.55h3.80V758.10h-3.80ZM1651.65 148.28h3.80V758.10h-3.80ZM1655.45 138.46h3.80V758.10h-3.80ZM1659.24 135.27h3.80V758.10h-3.80Z" fill="url(#pCLM1k)"/>
<path d="M1306.12 492.12h3.80V758.10h-3.80ZM1309.92 461.41h3.80V758.10h-3.80ZM1313.72 441.31h3.80V758.10h-3.80ZM1317.51 421.75h3.80V758.10h-3.80ZM1321.31 392.55h3.80V758.10h-3.80ZM1325.11 378.07h3.80V758.10h-3.80ZM1328.90 373.09h3.80V758.10h-3.80ZM1332.70 373.73h3.80V758.10h-3.80ZM1336.50 384.51h3.80V758.10h-3.80ZM1340.30 365.19h3.80V758.10h-3.80ZM1344.09 363.67h3.80V758.10h-3.80ZM1347.89 362.09h3.80V758.10h-3.80ZM1351.69 360.19h3.80V758.10h-3.80ZM1355.48 358.29h3.80V758.10h-3.80ZM1359.28 356.08h3.80V758.10h-3.80ZM1363.08 366.82h3.80V758.10h-3.80ZM1366.87 345.92h3.80V758.10h-3.80ZM1370.67 343.64h3.80V758.10h-3.80ZM1374.47 341.43h3.80V758.10h-3.80ZM1378.27 339.53h3.80V758.10h-3.80ZM1382.06 337.63h3.80V758.10h-3.80ZM1385.86 333.93h3.80V758.10h-3.80ZM1389.66 317.64h3.80V758.10h-3.80ZM1393.45 316.46h3.80V758.10h-3.80ZM1397.25 327.02h3.80V758.10h-3.80ZM1401.05 313.40h3.80V758.10h-3.80ZM1404.84 311.50h3.80V758.10h-3.80ZM1408.64 319.65h3.80V758.10h-3.80ZM1412.44 307.82h3.80V758.10h-3.80ZM1416.24 307.34h3.80V758.10h-3.80ZM1420.03 315.22h3.80V758.10h-3.80ZM1423.83 306.39h3.80V758.10h-3.80ZM1427.63 318.17h3.80V758.10h-3.80ZM1431.42 304.81h3.80V758.10h-3.80ZM1435.22 301.97h3.80V758.10h-3.80ZM1439.02 300.12h3.80V758.10h-3.80ZM1442.81 299.36h3.80V758.10h-3.80ZM1446.61 298.50h3.80V758.10h-3.80ZM1450.41 306.38h3.80V758.10h-3.80ZM1454.21 295.66h3.80V758.10h-3.80ZM1458.00 294.04h3.80V758.10h-3.80ZM1461.80 292.77h3.80V758.10h-3.80ZM1465.60 291.44h3.80V758.10h-3.80ZM1469.39 289.54h3.80V758.10h-3.80ZM1473.19 286.81h3.80V758.10h-3.80ZM1476.99 283.39h3.80V758.10h-3.80ZM1480.78 283.19h3.80V758.10h-3.80ZM1484.58 283.00h3.80V758.10h-3.80ZM1488.38 282.81h3.80V758.10h-3.80ZM1492.18 285.74h3.80V758.10h-3.80ZM1495.97 280.68h3.80V758.10h-3.80ZM1499.77 278.78h3.80V758.10h-3.80ZM1503.57 276.88h3.80V758.10h-3.80ZM1507.36 279.85h3.80V758.10h-3.80ZM1511.16 273.08h3.80V758.10h-3.80ZM1514.96 271.19h3.80V758.10h-3.80ZM1518.75 270.43h3.80V758.10h-3.80ZM1522.55 269.80h3.80V758.10h-3.80ZM1526.35 269.16h3.80V758.10h-3.80ZM1530.14 268.53h3.80V758.10h-3.80ZM1533.94 267.36h3.80V758.10h-3.80ZM1537.74 279.85h3.80V758.10h-3.80ZM1541.54 262.32h3.80V758.10h-3.80ZM1545.33 260.42h3.80V758.10h-3.80ZM1549.13 259.04h3.80V758.10h-3.80ZM1552.93 258.56h3.80V758.10h-3.80ZM1556.72 258.09h3.80V758.10h-3.80ZM1560.52 257.25h3.80V758.10h-3.80ZM1564.32 265.10h3.80V758.10h-3.80ZM1568.12 254.12h3.80V758.10h-3.80ZM1571.91 253.17h3.80V758.10h-3.80ZM1575.71 252.22h3.80V758.10h-3.80ZM1579.51 262.16h3.80V758.10h-3.80ZM1583.30 250.83h3.80V758.10h-3.80ZM1587.10 245.80h3.80V758.10h-3.80ZM1590.90 235.70h3.80V758.10h-3.80ZM1594.69 232.85h3.80V758.10h-3.80ZM1598.49 230.00h3.80V758.10h-3.80ZM1602.29 224.84h3.80V758.10h-3.80ZM1606.09 217.10h3.80V758.10h-3.80ZM1609.88 213.40h3.80V758.10h-3.80ZM1613.68 211.51h3.80V758.10h-3.80ZM1617.48 209.13h3.80V758.10h-3.80ZM1621.27 206.28h3.80V758.10h-3.80ZM1625.07 198.33h3.80V758.10h-3.80ZM1628.87 195.80h3.80V758.10h-3.80ZM1632.66 193.27h3.80V758.10h-3.80ZM1636.46 190.47h3.80V758.10h-3.80ZM1640.26 187.62h3.80V758.10h-3.80ZM1644.06 184.77h3.80V758.10h-3.80ZM1647.85 188.45h3.80V758.10h-3.80ZM1651.65 150.26h3.80V758.10h-3.80ZM1655.45 140.22h3.80V758.10h-3.80ZM1659.24 137.63h3.80V758.10h-3.80Z" fill="url(#pCLM1b)"/>
<path d="M1306.12 736.83h3.80V758.10h-3.80ZM1309.92 738.30h3.80V758.10h-3.80ZM1313.72 738.30h3.80V758.10h-3.80ZM1317.51 683.76h3.80V758.10h-3.80ZM1321.31 698.50h3.80V758.10h-3.80ZM1325.11 698.50h3.80V758.10h-3.80ZM1328.90 742.73h3.80V758.10h-3.80ZM1332.70 741.25h3.80V758.10h-3.80ZM1336.50 748.62h3.80V758.10h-3.80ZM1340.30 722.09h3.80V758.10h-3.80ZM1344.09 744.20h3.80V758.10h-3.80ZM1347.89 741.25h3.80V758.10h-3.80ZM1351.69 738.30h3.80V758.10h-3.80ZM1355.48 735.36h3.80V758.10h-3.80ZM1359.28 651.33h3.80V758.10h-3.80ZM1363.08 688.18h3.80V758.10h-3.80ZM1366.87 738.30h3.80V758.10h-3.80ZM1370.67 748.62h3.80V758.10h-3.80ZM1378.27 643.96h3.80V758.10h-3.80ZM1382.06 748.62h3.80V758.10h-3.80ZM1385.86 736.83h3.80V758.10h-3.80ZM1389.66 722.09h3.80V758.10h-3.80ZM1393.45 642.48h3.80V758.10h-3.80ZM1397.25 630.69h3.80V758.10h-3.80ZM1401.05 739.78h3.80V758.10h-3.80ZM1404.84 736.83h3.80V758.10h-3.80ZM1408.64 648.38h3.80V758.10h-3.80ZM1412.44 736.83h3.80V758.10h-3.80ZM1416.24 683.76h3.80V758.10h-3.80ZM1420.03 577.62h3.80V758.10h-3.80ZM1423.83 698.50h3.80V758.10h-3.80ZM1427.63 655.75h3.80V758.10h-3.80ZM1431.42 671.97h3.80V758.10h-3.80ZM1435.22 654.28h3.80V758.10h-3.80ZM1439.02 673.44h3.80V758.10h-3.80ZM1446.61 705.87h3.80V758.10h-3.80ZM1450.41 757.47h3.80V758.10h-3.80ZM1454.21 757.47h3.80V758.10h-3.80ZM1461.80 582.04h3.80V758.10h-3.80ZM1465.60 654.28h3.80V758.10h-3.80ZM1469.39 671.97h3.80V758.10h-3.80ZM1473.19 705.87h3.80V758.10h-3.80ZM1476.99 739.78h3.80V758.10h-3.80ZM1484.58 695.55h3.80V758.10h-3.80ZM1488.38 727.99h3.80V758.10h-3.80ZM1492.18 536.35h3.80V758.10h-3.80ZM1495.97 755.99h3.80V758.10h-3.80ZM1499.77 699.98h3.80V758.10h-3.80ZM1503.57 755.99h3.80V758.10h-3.80ZM1507.36 730.93h3.80V758.10h-3.80ZM1511.16 748.62h3.80V758.10h-3.80ZM1514.96 726.51h3.80V758.10h-3.80ZM1518.75 702.92h3.80V758.10h-3.80ZM1522.55 738.30h3.80V758.10h-3.80ZM1526.35 727.99h3.80V758.10h-3.80ZM1530.14 736.83h3.80V758.10h-3.80ZM1533.94 727.99h3.80V758.10h-3.80ZM1537.74 722.09h3.80V758.10h-3.80ZM1541.54 723.56h3.80V758.10h-3.80ZM1545.33 738.30h3.80V758.10h-3.80ZM1549.13 732.41h3.80V758.10h-3.80ZM1552.93 509.81h3.80V758.10h-3.80ZM1556.72 729.46h3.80V758.10h-3.80ZM1560.52 651.33h3.80V758.10h-3.80ZM1564.32 748.62h3.80V758.10h-3.80ZM1568.12 531.92h3.80V758.10h-3.80ZM1571.91 732.41h3.80V758.10h-3.80ZM1575.71 730.93h3.80V758.10h-3.80ZM1579.51 686.71h3.80V758.10h-3.80ZM1583.30 686.71h3.80V758.10h-3.80ZM1587.10 736.83h3.80V758.10h-3.80ZM1590.90 748.62h3.80V758.10h-3.80ZM1594.69 748.62h3.80V758.10h-3.80ZM1598.49 753.05h3.80V758.10h-3.80ZM1602.29 754.52h3.80V758.10h-3.80ZM1609.88 754.52h3.80V758.10h-3.80ZM1613.68 755.99h3.80V758.10h-3.80ZM1617.48 751.57h3.80V758.10h-3.80ZM1621.27 751.57h3.80V758.10h-3.80ZM1625.07 666.07h3.80V758.10h-3.80ZM1628.87 738.30h3.80V758.10h-3.80ZM1632.66 754.52h3.80V758.10h-3.80ZM1636.46 748.62h3.80V758.10h-3.80ZM1640.26 748.62h3.80V758.10h-3.80ZM1644.06 748.62h3.80V758.10h-3.80ZM1647.85 755.99h3.80V758.10h-3.80ZM1651.65 753.05h3.80V758.10h-3.80ZM1659.24 754.52h3.80V758.10h-3.80Z" fill="url(#pCLM1o)"/>
</g>
<g>
<rect x="1678.10" y="106.6" width="394.89" height="651.50" fill="url(#pPUR1u)"/>
<path d="M1678.10 270.99h3.80V758.10h-3.80ZM1681.90 253.05h3.80V758.10h-3.80ZM1685.69 250.68h3.80V758.10h-3.80ZM1689.49 250.12h3.80V758.10h-3.80ZM1693.29 248.84h3.80V758.10h-3.80ZM1697.09 241.51h3.80V758.10h-3.80ZM1700.88 237.81h3.80V758.10h-3.80ZM1704.68 235.80h3.80V758.10h-3.80ZM1708.48 236.78h3.80V758.10h-3.80ZM1712.27 231.78h3.80V758.10h-3.80ZM1716.07 232.52h3.80V758.10h-3.80ZM1719.87 232.79h3.80V758.10h-3.80ZM1723.66 230.85h3.80V758.10h-3.80ZM1727.46 227.26h3.80V758.10h-3.80ZM1731.26 229.72h3.80V758.10h-3.80ZM1735.06 224.63h3.80V758.10h-3.80ZM1738.85 226.88h3.80V758.10h-3.80ZM1742.65 222.91h3.80V758.10h-3.80ZM1746.45 222.74h3.80V758.10h-3.80ZM1750.24 222.53h3.80V758.10h-3.80ZM1754.04 219.55h3.80V758.10h-3.80ZM1757.84 216.86h3.80V758.10h-3.80ZM1761.63 218.34h3.80V758.10h-3.80ZM1765.43 219.40h3.80V758.10h-3.80ZM1769.23 214.81h3.80V758.10h-3.80ZM1773.03 214.39h3.80V758.10h-3.80ZM1776.82 216.45h3.80V758.10h-3.80ZM1780.62 214.54h3.80V758.10h-3.80ZM1784.42 212.46h3.80V758.10h-3.80ZM1788.21 210.73h3.80V758.10h-3.80ZM1792.01 210.37h3.80V758.10h-3.80ZM1795.81 209.50h3.80V758.10h-3.80ZM1799.60 212.03h3.80V758.10h-3.80ZM1803.40 207.47h3.80V758.10h-3.80ZM1807.20 209.52h3.80V758.10h-3.80ZM1811.00 208.98h3.80V758.10h-3.80ZM1814.79 206.57h3.80V758.10h-3.80ZM1818.59 207.43h3.80V758.10h-3.80ZM1822.39 203.56h3.80V758.10h-3.80ZM1826.18 206.72h3.80V758.10h-3.80ZM1829.98 204.66h3.80V758.10h-3.80ZM1833.78 205.05h3.80V758.10h-3.80ZM1837.57 201.36h3.80V758.10h-3.80ZM1841.37 205.25h3.80V758.10h-3.80ZM1845.17 203.52h3.80V758.10h-3.80ZM1848.97 200.60h3.80V758.10h-3.80ZM1852.76 202.67h3.80V758.10h-3.80ZM1856.56 201.73h3.80V758.10h-3.80ZM1860.36 202.59h3.80V758.10h-3.80ZM1864.15 201.30h3.80V758.10h-3.80ZM1867.95 199.82h3.80V758.10h-3.80ZM1871.75 200.50h3.80V758.10h-3.80ZM1875.54 201.12h3.80V758.10h-3.80ZM1879.34 197.03h3.80V758.10h-3.80ZM1883.14 198.24h3.80V758.10h-3.80ZM1886.94 198.74h3.80V758.10h-3.80ZM1890.73 196.09h3.80V758.10h-3.80ZM1894.53 197.89h3.80V758.10h-3.80ZM1898.33 198.17h3.80V758.10h-3.80ZM1902.12 196.83h3.80V758.10h-3.80ZM1905.92 196.70h3.80V758.10h-3.80ZM1909.72 195.86h3.80V758.10h-3.80ZM1913.51 196.70h3.80V758.10h-3.80ZM1917.31 193.33h3.80V758.10h-3.80ZM1921.11 192.92h3.80V758.10h-3.80ZM1924.91 191.66h3.80V758.10h-3.80ZM1928.70 190.58h3.80V758.10h-3.80ZM1932.50 190.74h3.80V758.10h-3.80ZM1936.30 189.92h3.80V758.10h-3.80ZM1940.09 189.67h3.80V758.10h-3.80ZM1943.89 187.58h3.80V758.10h-3.80ZM1947.69 187.96h3.80V758.10h-3.80ZM1951.48 186.97h3.80V758.10h-3.80ZM1955.28 185.59h3.80V758.10h-3.80ZM1959.08 185.66h3.80V758.10h-3.80ZM1962.88 186.38h3.80V758.10h-3.80ZM1966.67 185.46h3.80V758.10h-3.80ZM1970.47 184.26h3.80V758.10h-3.80ZM1974.27 184.91h3.80V758.10h-3.80ZM1978.06 181.48h3.80V758.10h-3.80ZM1981.86 179.48h3.80V758.10h-3.80ZM1985.66 179.49h3.80V758.10h-3.80ZM1989.45 177.75h3.80V758.10h-3.80ZM1993.25 180.48h3.80V758.10h-3.80ZM1997.05 177.60h3.80V758.10h-3.80ZM2000.85 176.21h3.80V758.10h-3.80ZM2004.64 174.60h3.80V758.10h-3.80ZM2008.44 172.78h3.80V758.10h-3.80ZM2012.24 174.55h3.80V758.10h-3.80ZM2016.03 174.59h3.80V758.10h-3.80ZM2019.83 167.95h3.80V758.10h-3.80ZM2023.63 168.38h3.80V758.10h-3.80ZM2027.42 164.86h3.80V758.10h-3.80ZM2031.22 164.27h3.80V758.10h-3.80ZM2035.02 162.42h3.80V758.10h-3.80ZM2038.82 159.79h3.80V758.10h-3.80ZM2042.61 157.62h3.80V758.10h-3.80ZM2046.41 153.08h3.80V758.10h-3.80ZM2050.21 146.97h3.80V758.10h-3.80ZM2054.00 143.90h3.80V758.10h-3.80ZM2057.80 142.71h3.80V758.10h-3.80ZM2061.60 143.63h3.80V758.10h-3.80ZM2065.39 141.72h3.80V758.10h-3.80ZM2069.19 139.74h3.80V758.10h-3.80Z" fill="url(#pPUR1k)"/>
<path d="M1678.10 276.89h3.80V758.10h-3.80ZM1681.90 254.63h3.80V758.10h-3.80ZM1685.69 253.00h3.80V758.10h-3.80ZM1689.49 252.37h3.80V758.10h-3.80ZM1693.29 249.90h3.80V758.10h-3.80ZM1697.09 253.30h3.80V758.10h-3.80ZM1700.88 238.91h3.80V758.10h-3.80ZM1704.68 239.18h3.80V758.10h-3.80ZM1708.48 239.94h3.80V758.10h-3.80ZM1712.27 234.14h3.80V758.10h-3.80ZM1716.07 234.14h3.80V758.10h-3.80ZM1719.87 233.84h3.80V758.10h-3.80ZM1723.66 231.94h3.80V758.10h-3.80ZM1727.46 230.04h3.80V758.10h-3.80ZM1731.26 237.09h3.80V758.10h-3.80ZM1735.06 227.98h3.80V758.10h-3.80ZM1738.85 227.03h3.80V758.10h-3.80ZM1742.65 225.86h3.80V758.10h-3.80ZM1746.45 224.59h3.80V758.10h-3.80ZM1750.24 223.08h3.80V758.10h-3.80ZM1754.04 221.18h3.80V758.10h-3.80ZM1757.84 219.34h3.80V758.10h-3.80ZM1761.63 218.39h3.80V758.10h-3.80ZM1765.43 226.77h3.80V758.10h-3.80ZM1769.23 216.49h3.80V758.10h-3.80ZM1773.03 216.00h3.80V758.10h-3.80ZM1776.82 225.29h3.80V758.10h-3.80ZM1780.62 215.05h3.80V758.10h-3.80ZM1784.42 213.90h3.80V758.10h-3.80ZM1788.21 212.63h3.80V758.10h-3.80ZM1792.01 211.78h3.80V758.10h-3.80ZM1795.81 211.31h3.80V758.10h-3.80ZM1799.60 216.45h3.80V758.10h-3.80ZM1803.40 210.36h3.80V758.10h-3.80ZM1807.20 209.88h3.80V758.10h-3.80ZM1811.00 209.41h3.80V758.10h-3.80ZM1814.79 208.78h3.80V758.10h-3.80ZM1818.59 207.84h3.80V758.10h-3.80ZM1822.39 206.89h3.80V758.10h-3.80ZM1826.18 212.03h3.80V758.10h-3.80ZM1829.98 205.56h3.80V758.10h-3.80ZM1833.78 205.09h3.80V758.10h-3.80ZM1837.57 204.61h3.80V758.10h-3.80ZM1841.37 212.03h3.80V758.10h-3.80ZM1845.17 203.66h3.80V758.10h-3.80ZM1848.97 203.19h3.80V758.10h-3.80ZM1852.76 202.81h3.80V758.10h-3.80ZM1856.56 202.43h3.80V758.10h-3.80ZM1860.36 207.61h3.80V758.10h-3.80ZM1864.15 201.67h3.80V758.10h-3.80ZM1867.95 201.29h3.80V758.10h-3.80ZM1871.75 200.91h3.80V758.10h-3.80ZM1875.54 207.61h3.80V758.10h-3.80ZM1879.34 200.15h3.80V758.10h-3.80ZM1883.14 199.77h3.80V758.10h-3.80ZM1886.94 199.39h3.80V758.10h-3.80ZM1890.73 199.01h3.80V758.10h-3.80ZM1894.53 198.63h3.80V758.10h-3.80ZM1898.33 198.25h3.80V758.10h-3.80ZM1902.12 197.87h3.80V758.10h-3.80ZM1905.92 201.71h3.80V758.10h-3.80ZM1909.72 196.93h3.80V758.10h-3.80ZM1913.51 201.71h3.80V758.10h-3.80ZM1917.31 195.42h3.80V758.10h-3.80ZM1921.11 194.66h3.80V758.10h-3.80ZM1924.91 193.90h3.80V758.10h-3.80ZM1928.70 193.14h3.80V758.10h-3.80ZM1932.50 192.38h3.80V758.10h-3.80ZM1936.30 197.29h3.80V758.10h-3.80ZM1940.09 190.86h3.80V758.10h-3.80ZM1943.89 190.10h3.80V758.10h-3.80ZM1947.69 189.34h3.80V758.10h-3.80ZM1951.48 188.58h3.80V758.10h-3.80ZM1955.28 187.82h3.80V758.10h-3.80ZM1959.08 187.06h3.80V758.10h-3.80ZM1962.88 195.81h3.80V758.10h-3.80ZM1966.67 185.54h3.80V758.10h-3.80ZM1970.47 184.78h3.80V758.10h-3.80ZM1974.27 194.34h3.80V758.10h-3.80ZM1978.06 183.27h3.80V758.10h-3.80ZM1981.86 182.51h3.80V758.10h-3.80ZM1985.66 181.75h3.80V758.10h-3.80ZM1989.45 180.99h3.80V758.10h-3.80ZM1993.25 185.50h3.80V758.10h-3.80ZM1997.05 179.40h3.80V758.10h-3.80ZM2000.85 178.26h3.80V758.10h-3.80ZM2004.64 177.12h3.80V758.10h-3.80ZM2008.44 175.99h3.80V758.10h-3.80ZM2012.24 174.63h3.80V758.10h-3.80ZM2016.03 182.55h3.80V758.10h-3.80ZM2019.83 170.83h3.80V758.10h-3.80ZM2023.63 168.93h3.80V758.10h-3.80ZM2027.42 167.03h3.80V758.10h-3.80ZM2031.22 169.28h3.80V758.10h-3.80ZM2035.02 163.24h3.80V758.10h-3.80ZM2038.82 161.34h3.80V758.10h-3.80ZM2042.61 157.94h3.80V758.10h-3.80ZM2046.41 153.19h3.80V758.10h-3.80ZM2050.21 149.37h3.80V758.10h-3.80ZM2054.00 146.64h3.80V758.10h-3.80ZM2057.80 145.37h3.80V758.10h-3.80ZM2061.60 148.64h3.80V758.10h-3.80ZM2065.39 142.15h3.80V758.10h-3.80ZM2069.19 140.42h3.80V758.10h-3.80Z" fill="url(#pPUR1b)"/>
<path d="M1678.10 642.45h3.80V758.10h-3.80ZM1681.90 702.89h3.80V758.10h-3.80ZM1685.69 701.42h3.80V758.10h-3.80ZM1689.49 699.94h3.80V758.10h-3.80ZM1693.29 655.72h3.80V758.10h-3.80ZM1697.09 617.39h3.80V758.10h-3.80ZM1700.88 695.52h3.80V758.10h-3.80ZM1704.68 643.93h3.80V758.10h-3.80ZM1708.48 685.20h3.80V758.10h-3.80ZM1712.27 636.56h3.80V758.10h-3.80ZM1716.07 668.99h3.80V758.10h-3.80ZM1719.87 652.77h3.80V758.10h-3.80ZM1723.66 621.82h3.80V758.10h-3.80ZM1727.46 670.46h3.80V758.10h-3.80ZM1731.26 711.73h3.80V758.10h-3.80ZM1735.06 683.73h3.80V758.10h-3.80ZM1738.85 685.20h3.80V758.10h-3.80ZM1742.65 648.35h3.80V758.10h-3.80ZM1746.45 618.87h3.80V758.10h-3.80ZM1750.24 692.57h3.80V758.10h-3.80ZM1754.04 654.25h3.80V758.10h-3.80ZM1757.84 630.66h3.80V758.10h-3.80ZM1761.63 646.88h3.80V758.10h-3.80ZM1765.43 626.24h3.80V758.10h-3.80ZM1769.23 692.57h3.80V758.10h-3.80ZM1773.03 666.04h3.80V758.10h-3.80ZM1776.82 646.88h3.80V758.10h-3.80ZM1780.62 607.08h3.80V758.10h-3.80ZM1784.42 698.47h3.80V758.10h-3.80ZM1788.21 658.67h3.80V758.10h-3.80ZM1792.01 685.20h3.80V758.10h-3.80ZM1795.81 714.68h3.80V758.10h-3.80ZM1799.60 640.98h3.80V758.10h-3.80ZM1803.40 674.88h3.80V758.10h-3.80ZM1807.20 692.57h3.80V758.10h-3.80ZM1811.00 722.05h3.80V758.10h-3.80ZM1814.79 683.73h3.80V758.10h-3.80ZM1818.59 696.99h3.80V758.10h-3.80ZM1822.39 645.40h3.80V758.10h-3.80ZM1826.18 698.47h3.80V758.10h-3.80ZM1829.98 668.99h3.80V758.10h-3.80ZM1833.78 639.50h3.80V758.10h-3.80ZM1837.57 714.68h3.80V758.10h-3.80ZM1841.37 673.41h3.80V758.10h-3.80ZM1845.17 638.03h3.80V758.10h-3.80ZM1848.97 701.42h3.80V758.10h-3.80ZM1852.76 708.79h3.80V758.10h-3.80ZM1856.56 698.47h3.80V758.10h-3.80ZM1860.36 683.73h3.80V758.10h-3.80ZM1864.15 682.25h3.80V758.10h-3.80ZM1867.95 610.02h3.80V758.10h-3.80ZM1871.75 621.82h3.80V758.10h-3.80ZM1875.54 623.29h3.80V758.10h-3.80ZM1879.34 673.41h3.80V758.10h-3.80ZM1883.14 694.04h3.80V758.10h-3.80ZM1886.94 607.08h3.80V758.10h-3.80ZM1890.73 704.36h3.80V758.10h-3.80ZM1894.53 607.08h3.80V758.10h-3.80ZM1898.33 530.42h3.80V758.10h-3.80ZM1902.12 702.89h3.80V758.10h-3.80ZM1905.92 663.09h3.80V758.10h-3.80ZM1909.72 699.94h3.80V758.10h-3.80ZM1913.51 660.14h3.80V758.10h-3.80ZM1917.31 648.35h3.80V758.10h-3.80ZM1921.11 686.67h3.80V758.10h-3.80ZM1924.91 680.78h3.80V758.10h-3.80ZM1928.70 711.73h3.80V758.10h-3.80ZM1932.50 649.82h3.80V758.10h-3.80ZM1936.30 726.47h3.80V758.10h-3.80ZM1940.09 704.36h3.80V758.10h-3.80ZM1943.89 695.52h3.80V758.10h-3.80ZM1947.69 592.33h3.80V758.10h-3.80ZM1951.48 680.78h3.80V758.10h-3.80ZM1955.28 705.84h3.80V758.10h-3.80ZM1959.08 705.84h3.80V758.10h-3.80ZM1962.88 688.15h3.80V758.10h-3.80ZM1966.67 671.93h3.80V758.10h-3.80ZM1970.47 677.83h3.80V758.10h-3.80ZM1974.27 676.36h3.80V758.10h-3.80ZM1978.06 608.55h3.80V758.10h-3.80ZM1981.86 639.50h3.80V758.10h-3.80ZM1985.66 698.47h3.80V758.10h-3.80ZM1989.45 686.67h3.80V758.10h-3.80ZM1993.25 691.10h3.80V758.10h-3.80ZM1997.05 716.16h3.80V758.10h-3.80ZM2000.85 705.84h3.80V758.10h-3.80ZM2004.64 714.68h3.80V758.10h-3.80ZM2008.44 648.35h3.80V758.10h-3.80ZM2012.24 673.41h3.80V758.10h-3.80ZM2016.03 702.89h3.80V758.10h-3.80ZM2019.83 698.47h3.80V758.10h-3.80ZM2023.63 666.04h3.80V758.10h-3.80ZM2027.42 739.74h3.80V758.10h-3.80ZM2031.22 695.52h3.80V758.10h-3.80ZM2035.02 725.00h3.80V758.10h-3.80ZM2038.82 705.84h3.80V758.10h-3.80ZM2042.61 315.21h3.80V758.10h-3.80ZM2046.41 349.12h3.80V758.10h-3.80ZM2050.21 735.32h3.80V758.10h-3.80ZM2054.00 428.71h3.80V758.10h-3.80ZM2057.80 714.68h3.80V758.10h-3.80ZM2061.60 707.31h3.80V758.10h-3.80ZM2065.39 696.99h3.80V758.10h-3.80ZM2069.19 719.10h3.80V758.10h-3.80Z" fill="url(#pPUR1o)"/>
</g>
<rect x="33.3" y="104.60" width="42.3" height="655.50" fill="#D9D9D9"/>
<text transform="translate(62.3 432.50) rotate(-90)" font-size="23.4" text-anchor="middle" fill="#1A1A1A" stroke="#1A1A1A">Human Origins</text>
<line x1="2073.2" y1="758.10" x2="2079" y2="758.10" stroke="#333" stroke-width="2.6"/>
<text x="2086" y="768.30" font-size="22.8" fill="#4D4D4D" stroke="#4D4D4D">0%</text>
<line x1="2073.2" y1="595.23" x2="2079" y2="595.23" stroke="#333" stroke-width="2.6"/>
<text x="2086" y="605.43" font-size="22.8" fill="#4D4D4D" stroke="#4D4D4D">25%</text>
<line x1="2073.2" y1="432.35" x2="2079" y2="432.35" stroke="#333" stroke-width="2.6"/>
<text x="2086" y="442.55" font-size="22.8" fill="#4D4D4D" stroke="#4D4D4D">50%</text>
<line x1="2073.2" y1="269.48" x2="2079" y2="269.48" stroke="#333" stroke-width="2.6"/>
<text x="2086" y="279.68" font-size="22.8" fill="#4D4D4D" stroke="#4D4D4D">75%</text>
<line x1="2073.2" y1="106.60" x2="2079" y2="106.60" stroke="#333" stroke-width="2.6"/>
<text x="2086" y="116.80" font-size="22.8" fill="#4D4D4D" stroke="#4D4D4D">100%</text>
<g>
<rect x="84.00" y="838.3" width="364.51" height="651.70" fill="url(#pACB2u)"/>
<path d="M84.00 838.30h3.80V1490.00h-3.80ZM87.80 840.11h3.80V1490.00h-3.80ZM91.59 838.30h3.80V1490.00h-3.80ZM102.98 839.30h3.80V1490.00h-3.80ZM114.38 840.62h3.80V1490.00h-3.80ZM121.97 840.69h3.80V1490.00h-3.80ZM125.77 839.45h3.80V1490.00h-3.80ZM129.56 840.93h3.80V1490.00h-3.80ZM133.36 841.98h3.80V1490.00h-3.80ZM140.96 838.30h3.80V1490.00h-3.80ZM144.75 839.27h3.80V1490.00h-3.80ZM148.55 839.25h3.80V1490.00h-3.80ZM152.35 840.58h3.80V1490.00h-3.80ZM156.14 841.79h3.80V1490.00h-3.80ZM159.94 841.67h3.80V1490.00h-3.80ZM163.74 840.22h3.80V1490.00h-3.80ZM167.53 839.59h3.80V1490.00h-3.80ZM171.33 839.03h3.80V1490.00h-3.80ZM175.13 838.97h3.80V1490.00h-3.80ZM178.93 843.27h3.80V1490.00h-3.80ZM182.72 839.99h3.80V1490.00h-3.80ZM186.52 839.82h3.80V1490.00h-3.80ZM190.32 839.85h3.80V1490.00h-3.80ZM194.11 842.16h3.80V1490.00h-3.80ZM197.91 840.29h3.80V1490.00h-3.80ZM205.50 839.60h3.80V1490.00h-3.80ZM213.10 838.60h3.80V1490.00h-3.80ZM216.90 839.32h3.80V1490.00h-3.80ZM220.69 840.11h3.80V1490.00h-3.80ZM224.49 850.64h3.80V1490.00h-3.80ZM232.08 840.53h3.80V1490.00h-3.80ZM235.88 844.74h3.80V1490.00h-3.80ZM239.68 841.07h3.80V1490.00h-3.80ZM243.47 839.60h3.80V1490.00h-3.80ZM247.27 839.60h3.80V1490.00h-3.80ZM251.07 838.30h3.80V1490.00h-3.80ZM254.87 841.25h3.80V1490.00h-3.80ZM258.66 841.18h3.80V1490.00h-3.80ZM262.46 840.15h3.80V1490.00h-3.80ZM266.26 847.69h3.80V1490.00h-3.80ZM270.05 838.30h3.80V1490.00h-3.80ZM273.85 840.67h3.80V1490.00h-3.80ZM277.65 842.49h3.80V1490.00h-3.80ZM281.44 839.78h3.80V1490.00h-3.80ZM285.24 847.69h3.80V1490.00h-3.80ZM289.04 839.43h3.80V1490.00h-3.80ZM296.63 840.56h3.80V1490.00h-3.80ZM300.43 838.30h3.80V1490.00h-3.80ZM304.23 838.85h3.80V1490.00h-3.80ZM311.82 839.87h3.80V1490.00h-3.80ZM315.62 840.78h3.80V1490.00h-3.80ZM319.41 871.27h3.80V1490.00h-3.80ZM327.01 856.53h3.80V1490.00h-3.80ZM330.81 842.32h3.80V1490.00h-3.80ZM334.60 838.62h3.80V1490.00h-3.80ZM338.40 847.69h3.80V1490.00h-3.80ZM342.20 838.82h3.80V1490.00h-3.80ZM345.99 840.71h3.80V1490.00h-3.80ZM349.79 838.30h3.80V1490.00h-3.80ZM353.59 888.96h3.80V1490.00h-3.80ZM357.38 840.31h3.80V1490.00h-3.80ZM361.18 853.58h3.80V1490.00h-3.80ZM364.98 838.30h3.80V1490.00h-3.80ZM368.78 841.43h3.80V1490.00h-3.80ZM372.57 844.74h3.80V1490.00h-3.80ZM376.37 840.56h3.80V1490.00h-3.80ZM380.17 850.64h3.80V1490.00h-3.80ZM383.96 838.52h3.80V1490.00h-3.80ZM387.76 841.34h3.80V1490.00h-3.80ZM391.56 839.01h3.80V1490.00h-3.80ZM395.35 839.58h3.80V1490.00h-3.80ZM399.15 838.97h3.80V1490.00h-3.80ZM406.75 838.30h3.80V1490.00h-3.80ZM410.54 859.48h3.80V1490.00h-3.80ZM414.34 840.75h3.80V1490.00h-3.80ZM418.14 847.69h3.80V1490.00h-3.80ZM421.93 841.96h3.80V1490.00h-3.80ZM425.73 839.42h3.80V1490.00h-3.80ZM429.53 842.92h3.80V1490.00h-3.80ZM433.32 839.88h3.80V1490.00h-3.80ZM437.12 838.78h3.80V1490.00h-3.80ZM440.92 862.43h3.80V1490.00h-3.80ZM444.72 839.44h3.80V1490.00h-3.80Z" fill="url(#pACB2k)"/>
<path d="M84.00 840.32h3.80V1490.00h-3.80ZM87.80 840.32h3.80V1490.00h-3.80ZM91.59 840.32h3.80V1490.00h-3.80ZM95.39 840.32h3.80V1490.00h-3.80ZM99.19 840.32h3.80V1490.00h-3.80ZM102.98 840.32h3.80V1490.00h-3.80ZM106.78 840.32h3.80V1490.00h-3.80ZM110.58 841.20h3.80V1490.00h-3.80ZM114.38 840.77h3.80V1490.00h-3.80ZM118.17 847.69h3.80V1490.00h-3.80ZM121.97 841.79h3.80V1490.00h-3.80ZM125.77 840.62h3.80V1490.00h-3.80ZM129.56 841.34h3.80V1490.00h-3.80ZM133.36 843.27h3.80V1490.00h-3.80ZM137.16 850.64h3.80V1490.00h-3.80ZM140.96 840.66h3.80V1490.00h-3.80ZM144.75 841.22h3.80V1490.00h-3.80ZM148.55 840.96h3.80V1490.00h-3.80ZM152.35 840.72h3.80V1490.00h-3.80ZM156.14 865.38h3.80V1490.00h-3.80ZM159.94 842.41h3.80V1490.00h-3.80ZM163.74 843.38h3.80V1490.00h-3.80ZM167.53 842.29h3.80V1490.00h-3.80ZM171.33 841.61h3.80V1490.00h-3.80ZM175.13 840.66h3.80V1490.00h-3.80ZM178.93 868.33h3.80V1490.00h-3.80ZM182.72 843.13h3.80V1490.00h-3.80ZM186.52 841.11h3.80V1490.00h-3.80ZM190.32 841.21h3.80V1490.00h-3.80ZM194.11 843.53h3.80V1490.00h-3.80ZM197.91 840.62h3.80V1490.00h-3.80ZM201.71 886.01h3.80V1490.00h-3.80ZM205.50 841.34h3.80V1490.00h-3.80ZM209.30 843.27h3.80V1490.00h-3.80ZM213.10 840.76h3.80V1490.00h-3.80ZM216.90 841.53h3.80V1490.00h-3.80ZM220.69 840.71h3.80V1490.00h-3.80ZM224.49 886.01h3.80V1490.00h-3.80ZM228.29 868.33h3.80V1490.00h-3.80ZM232.08 840.89h3.80V1490.00h-3.80ZM235.88 853.58h3.80V1490.00h-3.80ZM239.68 842.39h3.80V1490.00h-3.80ZM243.47 841.99h3.80V1490.00h-3.80ZM247.27 842.99h3.80V1490.00h-3.80ZM251.07 841.10h3.80V1490.00h-3.80ZM254.87 843.34h3.80V1490.00h-3.80ZM258.66 842.91h3.80V1490.00h-3.80ZM262.46 841.03h3.80V1490.00h-3.80ZM266.26 862.43h3.80V1490.00h-3.80ZM270.05 840.63h3.80V1490.00h-3.80ZM273.85 842.38h3.80V1490.00h-3.80ZM277.65 842.68h3.80V1490.00h-3.80ZM281.44 840.81h3.80V1490.00h-3.80ZM285.24 866.85h3.80V1490.00h-3.80ZM289.04 840.63h3.80V1490.00h-3.80ZM292.84 862.43h3.80V1490.00h-3.80ZM296.63 842.25h3.80V1490.00h-3.80ZM300.43 840.80h3.80V1490.00h-3.80ZM304.23 841.43h3.80V1490.00h-3.80ZM308.02 859.48h3.80V1490.00h-3.80ZM311.82 842.68h3.80V1490.00h-3.80ZM315.62 842.90h3.80V1490.00h-3.80ZM319.41 888.96h3.80V1490.00h-3.80ZM323.21 856.53h3.80V1490.00h-3.80ZM327.01 862.43h3.80V1490.00h-3.80ZM330.81 842.35h3.80V1490.00h-3.80ZM334.60 842.00h3.80V1490.00h-3.80ZM338.40 863.90h3.80V1490.00h-3.80ZM342.20 841.84h3.80V1490.00h-3.80ZM345.99 841.62h3.80V1490.00h-3.80ZM349.79 841.10h3.80V1490.00h-3.80ZM353.59 891.91h3.80V1490.00h-3.80ZM357.38 840.64h3.80V1490.00h-3.80ZM361.18 863.90h3.80V1490.00h-3.80ZM364.98 840.67h3.80V1490.00h-3.80ZM368.78 841.88h3.80V1490.00h-3.80ZM372.57 853.58h3.80V1490.00h-3.80ZM376.37 841.33h3.80V1490.00h-3.80ZM380.17 878.64h3.80V1490.00h-3.80ZM383.96 841.03h3.80V1490.00h-3.80ZM387.76 841.51h3.80V1490.00h-3.80ZM391.56 842.10h3.80V1490.00h-3.80ZM395.35 842.38h3.80V1490.00h-3.80ZM399.15 840.61h3.80V1490.00h-3.80ZM402.95 877.17h3.80V1490.00h-3.80ZM406.75 840.70h3.80V1490.00h-3.80ZM410.54 883.07h3.80V1490.00h-3.80ZM414.34 840.90h3.80V1490.00h-3.80ZM418.14 871.27h3.80V1490.00h-3.80ZM421.93 843.01h3.80V1490.00h-3.80ZM425.73 841.36h3.80V1490.00h-3.80ZM429.53 843.26h3.80V1490.00h-3.80ZM433.32 841.68h3.80V1490.00h-3.80ZM437.12 842.20h3.80V1490.00h-3.80ZM440.92 967.09h3.80V1490.00h-3.80ZM444.72 841.79h3.80V1490.00h-3.80Z" fill="url(#pACB2b)"/>
<path d="M84.00 840.32h3.80V1490.00h-3.80ZM87.80 840.32h3.80V1490.00h-3.80ZM91.59 840.32h3.80V1490.00h-3.80ZM95.39 840.32h3.80V1490.00h-3.80ZM99.19 840.32h3.80V1490.00h-3.80ZM102.98 840.32h3.80V1490.00h-3.80ZM106.78 840.32h3.80V1490.00h-3.80ZM110.58 841.20h3.80V1490.00h-3.80ZM114.38 841.79h3.80V1490.00h-3.80ZM118.17 868.33h3.80V1490.00h-3.80ZM121.97 841.79h3.80V1490.00h-3.80ZM125.77 841.79h3.80V1490.00h-3.80ZM129.56 868.33h3.80V1490.00h-3.80ZM133.36 843.27h3.80V1490.00h-3.80ZM137.16 896.33h3.80V1490.00h-3.80ZM140.96 849.16h3.80V1490.00h-3.80ZM144.75 871.27h3.80V1490.00h-3.80ZM148.55 855.06h3.80V1490.00h-3.80ZM152.35 850.64h3.80V1490.00h-3.80ZM156.14 878.64h3.80V1490.00h-3.80ZM159.94 880.12h3.80V1490.00h-3.80ZM163.74 887.49h3.80V1490.00h-3.80ZM167.53 874.22h3.80V1490.00h-3.80ZM171.33 933.18h3.80V1490.00h-3.80ZM175.13 874.22h3.80V1490.00h-3.80ZM178.93 868.33h3.80V1490.00h-3.80ZM182.72 911.07h3.80V1490.00h-3.80ZM186.52 868.33h3.80V1490.00h-3.80ZM190.32 853.58h3.80V1490.00h-3.80ZM194.11 872.75h3.80V1490.00h-3.80ZM197.91 899.28h3.80V1490.00h-3.80ZM201.71 908.12h3.80V1490.00h-3.80ZM205.50 903.70h3.80V1490.00h-3.80ZM209.30 933.18h3.80V1490.00h-3.80ZM213.10 843.27h3.80V1490.00h-3.80ZM216.90 847.69h3.80V1490.00h-3.80ZM220.69 865.38h3.80V1490.00h-3.80ZM224.49 911.07h3.80V1490.00h-3.80ZM228.29 891.91h3.80V1490.00h-3.80ZM232.08 894.86h3.80V1490.00h-3.80ZM235.88 908.12h3.80V1490.00h-3.80ZM239.68 872.75h3.80V1490.00h-3.80ZM243.47 866.85h3.80V1490.00h-3.80ZM247.27 843.27h3.80V1490.00h-3.80ZM251.07 891.91h3.80V1490.00h-3.80ZM254.87 893.38h3.80V1490.00h-3.80ZM258.66 912.55h3.80V1490.00h-3.80ZM262.46 928.76h3.80V1490.00h-3.80ZM266.26 888.96h3.80V1490.00h-3.80ZM270.05 899.28h3.80V1490.00h-3.80ZM273.85 939.08h3.80V1490.00h-3.80ZM277.65 909.60h3.80V1490.00h-3.80ZM281.44 933.18h3.80V1490.00h-3.80ZM285.24 877.17h3.80V1490.00h-3.80ZM289.04 934.66h3.80V1490.00h-3.80ZM292.84 874.22h3.80V1490.00h-3.80ZM296.63 865.38h3.80V1490.00h-3.80ZM300.43 950.87h3.80V1490.00h-3.80ZM304.23 899.28h3.80V1490.00h-3.80ZM308.02 939.08h3.80V1490.00h-3.80ZM311.82 928.76h3.80V1490.00h-3.80ZM315.62 912.55h3.80V1490.00h-3.80ZM319.41 900.75h3.80V1490.00h-3.80ZM323.21 924.34h3.80V1490.00h-3.80ZM327.01 878.64h3.80V1490.00h-3.80ZM330.81 865.38h3.80V1490.00h-3.80ZM334.60 959.72h3.80V1490.00h-3.80ZM338.40 986.25h3.80V1490.00h-3.80ZM342.20 922.87h3.80V1490.00h-3.80ZM345.99 940.55h3.80V1490.00h-3.80ZM349.79 930.24h3.80V1490.00h-3.80ZM353.59 908.12h3.80V1490.00h-3.80ZM357.38 891.91h3.80V1490.00h-3.80ZM361.18 959.72h3.80V1490.00h-3.80ZM364.98 884.54h3.80V1490.00h-3.80ZM368.78 953.82h3.80V1490.00h-3.80ZM372.57 961.19h3.80V1490.00h-3.80ZM376.37 924.34h3.80V1490.00h-3.80ZM380.17 912.55h3.80V1490.00h-3.80ZM383.96 965.61h3.80V1490.00h-3.80ZM387.76 906.65h3.80V1490.00h-3.80ZM391.56 940.55h3.80V1490.00h-3.80ZM395.35 943.50h3.80V1490.00h-3.80ZM399.15 936.13h3.80V1490.00h-3.80ZM402.95 944.98h3.80V1490.00h-3.80ZM406.75 983.30h3.80V1490.00h-3.80ZM410.54 974.46h3.80V1490.00h-3.80ZM414.34 943.50h3.80V1490.00h-3.80ZM418.14 934.66h3.80V1490.00h-3.80ZM421.93 958.24h3.80V1490.00h-3.80ZM425.73 940.55h3.80V1490.00h-3.80ZM429.53 981.83h3.80V1490.00h-3.80ZM433.32 1023.10h3.80V1490.00h-3.80ZM437.12 1129.23h3.80V1490.00h-3.80ZM440.92 1120.39h3.80V1490.00h-3.80ZM444.72 1115.97h3.80V1490.00h-3.80Z" fill="url(#pACB2o)"/>
</g>
<g>
<rect x="463.57" y="838.3" width="231.62" height="651.70" fill="url(#pASW2u)"/>
<path d="M467.37 839.74h3.80V1490.00h-3.80ZM471.17 847.69h3.80V1490.00h-3.80ZM474.96 844.05h3.80V1490.00h-3.80ZM478.76 846.18h3.80V1490.00h-3.80ZM482.56 846.48h3.80V1490.00h-3.80ZM486.35 841.67h3.80V1490.00h-3.80ZM490.15 842.21h3.80V1490.00h-3.80ZM493.95 845.46h3.80V1490.00h-3.80ZM497.75 850.64h3.80V1490.00h-3.80ZM501.54 841.79h3.80V1490.00h-3.80ZM505.34 844.61h3.80V1490.00h-3.80ZM509.14 844.68h3.80V1490.00h-3.80ZM512.93 845.62h3.80V1490.00h-3.80ZM524.32 840.96h3.80V1490.00h-3.80ZM528.12 845.26h3.80V1490.00h-3.80ZM531.92 840.44h3.80V1490.00h-3.80ZM535.72 862.43h3.80V1490.00h-3.80ZM539.51 841.40h3.80V1490.00h-3.80ZM543.31 840.00h3.80V1490.00h-3.80ZM547.11 842.65h3.80V1490.00h-3.80ZM550.90 841.72h3.80V1490.00h-3.80ZM554.70 855.06h3.80V1490.00h-3.80ZM558.50 841.86h3.80V1490.00h-3.80ZM562.29 841.58h3.80V1490.00h-3.80ZM566.09 843.12h3.80V1490.00h-3.80ZM569.89 843.54h3.80V1490.00h-3.80ZM573.68 839.78h3.80V1490.00h-3.80ZM577.48 838.84h3.80V1490.00h-3.80ZM581.28 840.74h3.80V1490.00h-3.80ZM585.08 845.73h3.80V1490.00h-3.80ZM588.87 843.68h3.80V1490.00h-3.80ZM592.67 846.44h3.80V1490.00h-3.80ZM596.47 843.44h3.80V1490.00h-3.80ZM600.26 842.51h3.80V1490.00h-3.80ZM604.06 843.31h3.80V1490.00h-3.80ZM607.86 841.80h3.80V1490.00h-3.80ZM611.65 844.53h3.80V1490.00h-3.80ZM615.45 845.35h3.80V1490.00h-3.80ZM619.25 841.13h3.80V1490.00h-3.80ZM623.05 847.69h3.80V1490.00h-3.80ZM626.84 844.88h3.80V1490.00h-3.80ZM630.64 842.49h3.80V1490.00h-3.80ZM634.44 845.27h3.80V1490.00h-3.80ZM638.23 841.75h3.80V1490.00h-3.80ZM642.03 859.48h3.80V1490.00h-3.80ZM645.83 843.27h3.80V1490.00h-3.80ZM649.62 841.68h3.80V1490.00h-3.80ZM653.42 841.50h3.80V1490.00h-3.80ZM657.22 843.96h3.80V1490.00h-3.80ZM661.02 1065.85h3.80V1490.00h-3.80ZM664.81 843.20h3.80V1490.00h-3.80ZM668.61 839.85h3.80V1490.00h-3.80ZM672.41 843.27h3.80V1490.00h-3.80ZM676.20 859.48h3.80V1490.00h-3.80ZM683.80 1169.03h3.80V1490.00h-3.80ZM687.60 1230.94h3.80V1490.00h-3.80ZM691.39 1434.36h3.80V1490.00h-3.80Z" fill="url(#pASW2k)"/>
<path d="M463.57 841.79h3.80V1490.00h-3.80ZM467.37 843.27h3.80V1490.00h-3.80ZM471.17 852.11h3.80V1490.00h-3.80ZM474.96 845.27h3.80V1490.00h-3.80ZM478.76 847.00h3.80V1490.00h-3.80ZM482.56 847.61h3.80V1490.00h-3.80ZM486.35 844.97h3.80V1490.00h-3.80ZM490.15 845.48h3.80V1490.00h-3.80ZM493.95 845.63h3.80V1490.00h-3.80ZM497.75 860.96h3.80V1490.00h-3.80ZM501.54 855.06h3.80V1490.00h-3.80ZM505.34 846.67h3.80V1490.00h-3.80ZM509.14 847.42h3.80V1490.00h-3.80ZM512.93 847.62h3.80V1490.00h-3.80ZM516.73 874.22h3.80V1490.00h-3.80ZM520.53 909.60h3.80V1490.00h-3.80ZM524.32 843.73h3.80V1490.00h-3.80ZM528.12 847.57h3.80V1490.00h-3.80ZM531.92 843.36h3.80V1490.00h-3.80ZM535.72 874.22h3.80V1490.00h-3.80ZM539.51 843.28h3.80V1490.00h-3.80ZM543.31 843.27h3.80V1490.00h-3.80ZM547.11 844.48h3.80V1490.00h-3.80ZM550.90 844.06h3.80V1490.00h-3.80ZM554.70 863.90h3.80V1490.00h-3.80ZM558.50 843.93h3.80V1490.00h-3.80ZM562.29 843.68h3.80V1490.00h-3.80ZM566.09 844.66h3.80V1490.00h-3.80ZM569.89 845.40h3.80V1490.00h-3.80ZM573.68 843.30h3.80V1490.00h-3.80ZM577.48 877.17h3.80V1490.00h-3.80ZM581.28 844.03h3.80V1490.00h-3.80ZM585.08 847.54h3.80V1490.00h-3.80ZM588.87 844.02h3.80V1490.00h-3.80ZM592.67 847.05h3.80V1490.00h-3.80ZM596.47 844.68h3.80V1490.00h-3.80ZM600.26 843.77h3.80V1490.00h-3.80ZM604.06 843.44h3.80V1490.00h-3.80ZM607.86 844.62h3.80V1490.00h-3.80ZM611.65 845.24h3.80V1490.00h-3.80ZM615.45 845.54h3.80V1490.00h-3.80ZM619.25 844.06h3.80V1490.00h-3.80ZM623.05 856.53h3.80V1490.00h-3.80ZM626.84 846.65h3.80V1490.00h-3.80ZM630.64 844.56h3.80V1490.00h-3.80ZM634.44 847.90h3.80V1490.00h-3.80ZM638.23 844.32h3.80V1490.00h-3.80ZM642.03 868.33h3.80V1490.00h-3.80ZM645.83 846.17h3.80V1490.00h-3.80ZM649.62 845.01h3.80V1490.00h-3.80ZM653.42 843.27h3.80V1490.00h-3.80ZM657.22 845.17h3.80V1490.00h-3.80ZM661.02 1070.27h3.80V1490.00h-3.80ZM664.81 844.16h3.80V1490.00h-3.80ZM668.61 843.27h3.80V1490.00h-3.80ZM672.41 850.64h3.80V1490.00h-3.80ZM676.20 884.54h3.80V1490.00h-3.80ZM680.00 858.01h3.80V1490.00h-3.80ZM683.80 1182.30h3.80V1490.00h-3.80ZM687.60 1254.53h3.80V1490.00h-3.80ZM691.39 1443.21h3.80V1490.00h-3.80Z" fill="url(#pASW2b)"/>
<path d="M463.57 841.79h3.80V1490.00h-3.80ZM467.37 844.74h3.80V1490.00h-3.80ZM471.17 890.44h3.80V1490.00h-3.80ZM474.96 862.43h3.80V1490.00h-3.80ZM478.76 865.38h3.80V1490.00h-3.80ZM482.56 862.43h3.80V1490.00h-3.80ZM486.35 939.08h3.80V1490.00h-3.80ZM490.15 927.29h3.80V1490.00h-3.80ZM493.95 927.29h3.80V1490.00h-3.80ZM497.75 897.81h3.80V1490.00h-3.80ZM501.54 900.75h3.80V1490.00h-3.80ZM505.34 897.81h3.80V1490.00h-3.80ZM509.14 924.34h3.80V1490.00h-3.80ZM512.93 934.66h3.80V1490.00h-3.80ZM516.73 936.13h3.80V1490.00h-3.80ZM520.53 943.50h3.80V1490.00h-3.80ZM524.32 931.71h3.80V1490.00h-3.80ZM528.12 944.98h3.80V1490.00h-3.80ZM531.92 953.82h3.80V1490.00h-3.80ZM535.72 943.50h3.80V1490.00h-3.80ZM539.51 912.55h3.80V1490.00h-3.80ZM543.31 962.67h3.80V1490.00h-3.80ZM547.11 928.76h3.80V1490.00h-3.80ZM550.90 915.50h3.80V1490.00h-3.80ZM554.70 983.30h3.80V1490.00h-3.80ZM558.50 962.67h3.80V1490.00h-3.80ZM562.29 989.20h3.80V1490.00h-3.80ZM566.09 970.04h3.80V1490.00h-3.80ZM569.89 1023.10h3.80V1490.00h-3.80ZM573.68 962.67h3.80V1490.00h-3.80ZM577.48 1023.10h3.80V1490.00h-3.80ZM581.28 915.50h3.80V1490.00h-3.80ZM585.08 880.12h3.80V1490.00h-3.80ZM588.87 940.55h3.80V1490.00h-3.80ZM592.67 962.67h3.80V1490.00h-3.80ZM596.47 950.87h3.80V1490.00h-3.80ZM600.26 930.24h3.80V1490.00h-3.80ZM604.06 1000.99h3.80V1490.00h-3.80ZM607.86 1057.00h3.80V1490.00h-3.80ZM611.65 1037.84h3.80V1490.00h-3.80ZM615.45 968.56h3.80V1490.00h-3.80ZM619.25 1014.26h3.80V1490.00h-3.80ZM623.05 955.29h3.80V1490.00h-3.80ZM626.84 1104.17h3.80V1490.00h-3.80ZM630.64 1033.42h3.80V1490.00h-3.80ZM634.44 1026.05h3.80V1490.00h-3.80ZM638.23 1020.15h3.80V1490.00h-3.80ZM642.03 1065.85h3.80V1490.00h-3.80ZM645.83 1065.85h3.80V1490.00h-3.80ZM649.62 1101.23h3.80V1490.00h-3.80ZM653.42 1039.32h3.80V1490.00h-3.80ZM657.22 1045.21h3.80V1490.00h-3.80ZM661.02 1080.59h3.80V1490.00h-3.80ZM664.81 1095.33h3.80V1490.00h-3.80ZM668.61 1118.92h3.80V1490.00h-3.80ZM672.41 1113.02h3.80V1490.00h-3.80ZM676.20 1104.17h3.80V1490.00h-3.80ZM680.00 1266.32h3.80V1490.00h-3.80ZM683.80 1186.72h3.80V1490.00h-3.80ZM687.60 1281.06h3.80V1490.00h-3.80Z" fill="url(#pASW2o)"/>
</g>
<g>
<rect x="710.25" y="838.3" width="322.75" height="651.70" fill="url(#pPEL2u)"/>
<path d="M710.25 1473.12h3.80V1490.00h-3.80ZM714.05 1488.45h3.80V1490.00h-3.80ZM717.84 1486.66h3.80V1490.00h-3.80ZM721.64 1487.40h3.80V1490.00h-3.80ZM725.44 1486.04h3.80V1490.00h-3.80ZM729.23 1486.03h3.80V1490.00h-3.80ZM733.03 1487.03h3.80V1490.00h-3.80ZM736.83 1486.93h3.80V1490.00h-3.80ZM740.62 1485.58h3.80V1490.00h-3.80ZM744.42 1480.50h3.80V1490.00h-3.80ZM748.22 1486.63h3.80V1490.00h-3.80ZM752.02 1486.22h3.80V1490.00h-3.80ZM755.81 1487.88h3.80V1490.00h-3.80ZM759.61 1487.22h3.80V1490.00h-3.80ZM763.41 1485.92h3.80V1490.00h-3.80ZM767.20 1487.21h3.80V1490.00h-3.80ZM771.00 1485.57h3.80V1490.00h-3.80ZM774.80 1486.58h3.80V1490.00h-3.80ZM778.60 1487.48h3.80V1490.00h-3.80ZM782.39 1486.39h3.80V1490.00h-3.80ZM786.19 1487.89h3.80V1490.00h-3.80ZM789.99 1487.02h3.80V1490.00h-3.80ZM793.78 1442.15h3.80V1490.00h-3.80ZM797.58 1485.45h3.80V1490.00h-3.80ZM801.38 1486.39h3.80V1490.00h-3.80ZM805.17 1486.53h3.80V1490.00h-3.80ZM808.97 1470.17h3.80V1490.00h-3.80ZM812.77 1487.09h3.80V1490.00h-3.80ZM816.57 1486.29h3.80V1490.00h-3.80ZM824.16 1420.02h3.80V1490.00h-3.80ZM827.96 1476.07h3.80V1490.00h-3.80ZM831.75 1464.27h3.80V1490.00h-3.80ZM835.55 1470.17h3.80V1490.00h-3.80ZM839.35 1470.17h3.80V1490.00h-3.80ZM843.14 1467.22h3.80V1490.00h-3.80ZM846.94 1485.63h3.80V1490.00h-3.80ZM850.74 1484.88h3.80V1490.00h-3.80ZM858.33 1487.85h3.80V1490.00h-3.80ZM865.93 1465.75h3.80V1490.00h-3.80ZM869.72 1486.02h3.80V1490.00h-3.80ZM873.52 1445.10h3.80V1490.00h-3.80ZM877.32 1487.28h3.80V1490.00h-3.80ZM881.11 1479.02h3.80V1490.00h-3.80ZM884.91 1468.70h3.80V1490.00h-3.80ZM888.71 1341.84h3.80V1490.00h-3.80ZM892.50 1484.86h3.80V1490.00h-3.80ZM896.30 1384.62h3.80V1490.00h-3.80ZM903.90 1485.69h3.80V1490.00h-3.80ZM907.69 1350.70h3.80V1490.00h-3.80ZM911.49 1452.47h3.80V1490.00h-3.80ZM915.29 1464.27h3.80V1490.00h-3.80ZM919.08 1420.02h3.80V1490.00h-3.80ZM934.27 1343.32h3.80V1490.00h-3.80ZM941.87 1254.82h3.80V1490.00h-3.80ZM945.66 1313.82h3.80V1490.00h-3.80ZM949.46 1328.57h3.80V1490.00h-3.80ZM953.26 1393.47h3.80V1490.00h-3.80ZM957.05 1397.90h3.80V1490.00h-3.80ZM960.85 1191.39h3.80V1490.00h-3.80ZM964.65 1420.02h3.80V1490.00h-3.80ZM968.45 1383.15h3.80V1490.00h-3.80ZM972.24 1346.27h3.80V1490.00h-3.80ZM976.04 1318.24h3.80V1490.00h-3.80ZM979.84 1378.72h3.80V1490.00h-3.80ZM983.63 1281.37h3.80V1490.00h-3.80ZM987.43 1372.82h3.80V1490.00h-3.80ZM991.23 1251.87h3.80V1490.00h-3.80ZM995.02 1325.62h3.80V1490.00h-3.80ZM998.82 1293.17h3.80V1490.00h-3.80ZM1002.62 1390.52h3.80V1490.00h-3.80ZM1006.41 1223.84h3.80V1490.00h-3.80ZM1010.21 1241.54h3.80V1490.00h-3.80ZM1014.01 1203.19h3.80V1490.00h-3.80ZM1017.81 1257.77h3.80V1490.00h-3.80ZM1021.60 1285.79h3.80V1490.00h-3.80ZM1025.40 1018.81h3.80V1490.00h-3.80Z" fill="url(#pPEL2k)"/>
<path d="M710.25 1484.93h3.80V1490.00h-3.80ZM714.05 1488.70h3.80V1490.00h-3.80ZM717.84 1487.91h3.80V1490.00h-3.80ZM721.64 1487.78h3.80V1490.00h-3.80ZM725.44 1487.35h3.80V1490.00h-3.80ZM729.23 1487.37h3.80V1490.00h-3.80ZM733.03 1487.29h3.80V1490.00h-3.80ZM736.83 1488.18h3.80V1490.00h-3.80ZM740.62 1487.75h3.80V1490.00h-3.80ZM744.42 1483.45h3.80V1490.00h-3.80ZM748.22 1488.37h3.80V1490.00h-3.80ZM752.02 1488.05h3.80V1490.00h-3.80ZM755.81 1488.95h3.80V1490.00h-3.80ZM759.61 1488.31h3.80V1490.00h-3.80ZM763.41 1487.86h3.80V1490.00h-3.80ZM767.20 1487.46h3.80V1490.00h-3.80ZM771.00 1487.68h3.80V1490.00h-3.80ZM774.80 1487.90h3.80V1490.00h-3.80ZM778.60 1488.02h3.80V1490.00h-3.80ZM782.39 1487.34h3.80V1490.00h-3.80ZM786.19 1488.46h3.80V1490.00h-3.80ZM789.99 1487.31h3.80V1490.00h-3.80ZM793.78 1483.45h3.80V1490.00h-3.80ZM797.58 1487.87h3.80V1490.00h-3.80ZM801.38 1487.48h3.80V1490.00h-3.80ZM805.17 1487.43h3.80V1490.00h-3.80ZM808.97 1479.02h3.80V1490.00h-3.80ZM812.77 1487.40h3.80V1490.00h-3.80ZM816.57 1488.37h3.80V1490.00h-3.80ZM820.36 1473.12h3.80V1490.00h-3.80ZM824.16 1467.22h3.80V1490.00h-3.80ZM827.96 1486.40h3.80V1490.00h-3.80ZM831.75 1481.98h3.80V1490.00h-3.80ZM835.55 1481.98h3.80V1490.00h-3.80ZM839.35 1483.45h3.80V1490.00h-3.80ZM843.14 1481.98h3.80V1490.00h-3.80ZM846.94 1488.43h3.80V1490.00h-3.80ZM850.74 1487.80h3.80V1490.00h-3.80ZM854.54 1468.70h3.80V1490.00h-3.80ZM858.33 1488.97h3.80V1490.00h-3.80ZM862.13 1477.55h3.80V1490.00h-3.80ZM865.93 1477.55h3.80V1490.00h-3.80ZM869.72 1488.83h3.80V1490.00h-3.80ZM873.52 1452.47h3.80V1490.00h-3.80ZM877.32 1487.78h3.80V1490.00h-3.80ZM881.11 1481.98h3.80V1490.00h-3.80ZM884.91 1480.50h3.80V1490.00h-3.80ZM888.71 1346.27h3.80V1490.00h-3.80ZM892.50 1487.49h3.80V1490.00h-3.80ZM896.30 1390.52h3.80V1490.00h-3.80ZM900.10 1442.15h3.80V1490.00h-3.80ZM903.90 1488.14h3.80V1490.00h-3.80ZM907.69 1355.12h3.80V1490.00h-3.80ZM911.49 1468.70h3.80V1490.00h-3.80ZM915.29 1465.75h3.80V1490.00h-3.80ZM919.08 1428.87h3.80V1490.00h-3.80ZM922.88 1387.57h3.80V1490.00h-3.80ZM926.68 1369.87h3.80V1490.00h-3.80ZM930.48 1397.90h3.80V1490.00h-3.80ZM934.27 1353.65h3.80V1490.00h-3.80ZM938.07 1394.95h3.80V1490.00h-3.80ZM941.87 1334.47h3.80V1490.00h-3.80ZM945.66 1325.62h3.80V1490.00h-3.80ZM949.46 1331.52h3.80V1490.00h-3.80ZM953.26 1397.90h3.80V1490.00h-3.80ZM957.05 1428.87h3.80V1490.00h-3.80ZM960.85 1201.71h3.80V1490.00h-3.80ZM964.65 1424.45h3.80V1490.00h-3.80ZM968.45 1384.62h3.80V1490.00h-3.80ZM972.24 1369.87h3.80V1490.00h-3.80ZM976.04 1321.19h3.80V1490.00h-3.80ZM979.84 1381.67h3.80V1490.00h-3.80ZM983.63 1282.84h3.80V1490.00h-3.80ZM987.43 1375.77h3.80V1490.00h-3.80ZM991.23 1256.29h3.80V1490.00h-3.80ZM995.02 1358.07h3.80V1490.00h-3.80ZM998.82 1300.54h3.80V1490.00h-3.80ZM1002.62 1393.47h3.80V1490.00h-3.80ZM1006.41 1229.74h3.80V1490.00h-3.80ZM1010.21 1243.02h3.80V1490.00h-3.80ZM1014.01 1483.45h3.80V1490.00h-3.80ZM1017.81 1260.72h3.80V1490.00h-3.80ZM1021.60 1406.75h3.80V1490.00h-3.80ZM1025.40 1027.66h3.80V1490.00h-3.80ZM1029.20 1080.76h3.80V1490.00h-3.80Z" fill="url(#pPEL2b)"/>
<path d="M710.25 1489.35h3.80V1490.00h-3.80ZM744.42 1489.35h3.80V1490.00h-3.80ZM793.78 1486.40h3.80V1490.00h-3.80ZM808.97 1489.35h3.80V1490.00h-3.80ZM820.36 1486.40h3.80V1490.00h-3.80ZM824.16 1486.40h3.80V1490.00h-3.80ZM827.96 1489.35h3.80V1490.00h-3.80ZM831.75 1489.35h3.80V1490.00h-3.80ZM835.55 1489.35h3.80V1490.00h-3.80ZM839.35 1487.88h3.80V1490.00h-3.80ZM843.14 1489.35h3.80V1490.00h-3.80ZM854.54 1489.35h3.80V1490.00h-3.80ZM862.13 1489.35h3.80V1490.00h-3.80ZM865.93 1489.35h3.80V1490.00h-3.80ZM873.52 1476.07h3.80V1490.00h-3.80ZM881.11 1484.93h3.80V1490.00h-3.80ZM884.91 1483.45h3.80V1490.00h-3.80ZM888.71 1483.45h3.80V1490.00h-3.80ZM896.30 1487.88h3.80V1490.00h-3.80ZM900.10 1489.35h3.80V1490.00h-3.80ZM907.69 1484.93h3.80V1490.00h-3.80ZM911.49 1484.93h3.80V1490.00h-3.80ZM915.29 1484.93h3.80V1490.00h-3.80ZM919.08 1481.98h3.80V1490.00h-3.80ZM922.88 1487.88h3.80V1490.00h-3.80ZM926.68 1487.88h3.80V1490.00h-3.80ZM930.48 1487.88h3.80V1490.00h-3.80ZM934.27 1487.88h3.80V1490.00h-3.80ZM938.07 1397.90h3.80V1490.00h-3.80ZM941.87 1483.45h3.80V1490.00h-3.80ZM945.66 1486.40h3.80V1490.00h-3.80ZM949.46 1486.40h3.80V1490.00h-3.80ZM953.26 1484.93h3.80V1490.00h-3.80ZM957.05 1428.87h3.80V1490.00h-3.80ZM960.85 1476.07h3.80V1490.00h-3.80ZM964.65 1467.22h3.80V1490.00h-3.80ZM968.45 1442.15h3.80V1490.00h-3.80ZM972.24 1487.88h3.80V1490.00h-3.80ZM976.04 1484.93h3.80V1490.00h-3.80ZM979.84 1487.88h3.80V1490.00h-3.80ZM983.63 1486.40h3.80V1490.00h-3.80ZM987.43 1383.15h3.80V1490.00h-3.80ZM991.23 1486.40h3.80V1490.00h-3.80ZM995.02 1418.55h3.80V1490.00h-3.80ZM998.82 1486.40h3.80V1490.00h-3.80ZM1002.62 1443.62h3.80V1490.00h-3.80ZM1006.41 1396.42h3.80V1490.00h-3.80ZM1010.21 1489.35h3.80V1490.00h-3.80ZM1014.01 1489.35h3.80V1490.00h-3.80ZM1017.81 1449.52h3.80V1490.00h-3.80ZM1021.60 1449.52h3.80V1490.00h-3.80ZM1025.40 1448.05h3.80V1490.00h-3.80ZM1029.20 1238.59h3.80V1490.00h-3.80Z" fill="url(#pPEL2o)"/>
</g>
<g>
<rect x="1048.05" y="838.3" width="243.01" height="651.70" fill="url(#pMXL2u)"/>
<path d="M1048.05 1483.39h3.80V1490.00h-3.80ZM1051.85 1484.87h3.80V1490.00h-3.80ZM1055.65 1484.87h3.80V1490.00h-3.80ZM1059.45 1473.07h3.80V1490.00h-3.80ZM1063.24 1470.12h3.80V1490.00h-3.80ZM1070.84 1443.57h3.80V1490.00h-3.80ZM1074.63 1446.52h3.80V1490.00h-3.80ZM1078.43 1476.02h3.80V1490.00h-3.80ZM1082.23 1387.52h3.80V1490.00h-3.80ZM1086.02 1428.82h3.80V1490.00h-3.80ZM1089.82 1403.75h3.80V1490.00h-3.80ZM1093.62 1447.99h3.80V1490.00h-3.80ZM1097.42 1206.11h3.80V1490.00h-3.80ZM1101.21 1439.14h3.80V1490.00h-3.80ZM1105.01 1291.65h3.80V1490.00h-3.80ZM1108.81 1430.29h3.80V1490.00h-3.80ZM1112.60 1284.28h3.80V1490.00h-3.80ZM1116.40 1260.68h3.80V1490.00h-3.80ZM1120.20 1318.20h3.80V1490.00h-3.80ZM1123.99 1316.73h3.80V1490.00h-3.80ZM1127.79 1157.43h3.80V1490.00h-3.80ZM1131.59 1371.30h3.80V1490.00h-3.80ZM1135.38 1260.68h3.80V1490.00h-3.80ZM1139.18 1265.10h3.80V1490.00h-3.80ZM1142.98 1262.15h3.80V1490.00h-3.80ZM1146.78 1179.56h3.80V1490.00h-3.80ZM1150.57 1235.60h3.80V1490.00h-3.80ZM1154.37 1144.16h3.80V1490.00h-3.80ZM1158.17 1225.28h3.80V1490.00h-3.80ZM1161.96 1238.55h3.80V1490.00h-3.80ZM1165.76 1257.73h3.80V1490.00h-3.80ZM1169.56 1231.18h3.80V1490.00h-3.80ZM1173.36 1299.03h3.80V1490.00h-3.80ZM1177.15 1212.01h3.80V1490.00h-3.80ZM1180.95 1229.71h3.80V1490.00h-3.80ZM1184.75 1169.23h3.80V1490.00h-3.80ZM1188.54 1242.98h3.80V1490.00h-3.80ZM1192.34 1201.68h3.80V1490.00h-3.80ZM1196.14 1147.11h3.80V1490.00h-3.80ZM1199.93 1212.01h3.80V1490.00h-3.80ZM1203.73 1155.96h3.80V1490.00h-3.80ZM1207.53 1110.24h3.80V1490.00h-3.80ZM1211.33 1161.86h3.80V1490.00h-3.80ZM1215.12 1085.16h3.80V1490.00h-3.80ZM1218.92 1157.43h3.80V1490.00h-3.80ZM1222.72 1071.89h3.80V1490.00h-3.80ZM1226.51 1192.83h3.80V1490.00h-3.80ZM1230.31 1063.04h3.80V1490.00h-3.80ZM1234.11 1111.71h3.80V1490.00h-3.80ZM1237.90 1083.69h3.80V1490.00h-3.80ZM1241.70 1169.23h3.80V1490.00h-3.80ZM1245.50 947.99h3.80V1490.00h-3.80ZM1249.30 1065.99h3.80V1490.00h-3.80ZM1253.09 1054.19h3.80V1490.00h-3.80ZM1256.89 1055.66h3.80V1490.00h-3.80ZM1260.69 1074.84h3.80V1490.00h-3.80ZM1264.48 946.52h3.80V1490.00h-3.80ZM1268.28 1077.79h3.80V1490.00h-3.80ZM1272.08 1083.69h3.80V1490.00h-3.80ZM1275.87 1089.59h3.80V1490.00h-3.80ZM1279.67 850.65h3.80V1490.00h-3.80ZM1287.27 850.65h3.80V1490.00h-3.80Z" fill="url(#pMXL2k)"/>
<path d="M1048.05 1486.34h3.80V1490.00h-3.80ZM1051.85 1486.34h3.80V1490.00h-3.80ZM1055.65 1486.34h3.80V1490.00h-3.80ZM1059.45 1483.39h3.80V1490.00h-3.80ZM1063.24 1487.82h3.80V1490.00h-3.80ZM1067.04 1464.22h3.80V1490.00h-3.80ZM1070.84 1449.47h3.80V1490.00h-3.80ZM1074.63 1452.42h3.80V1490.00h-3.80ZM1078.43 1477.49h3.80V1490.00h-3.80ZM1082.23 1390.47h3.80V1490.00h-3.80ZM1086.02 1437.67h3.80V1490.00h-3.80ZM1089.82 1427.35h3.80V1490.00h-3.80ZM1093.62 1461.27h3.80V1490.00h-3.80ZM1097.42 1209.06h3.80V1490.00h-3.80ZM1101.21 1440.62h3.80V1490.00h-3.80ZM1105.01 1294.60h3.80V1490.00h-3.80ZM1108.81 1431.77h3.80V1490.00h-3.80ZM1112.60 1285.75h3.80V1490.00h-3.80ZM1116.40 1262.15h3.80V1490.00h-3.80ZM1120.20 1319.68h3.80V1490.00h-3.80ZM1123.99 1318.20h3.80V1490.00h-3.80ZM1127.79 1166.28h3.80V1490.00h-3.80ZM1131.59 1372.77h3.80V1490.00h-3.80ZM1135.38 1275.43h3.80V1490.00h-3.80ZM1139.18 1275.43h3.80V1490.00h-3.80ZM1142.98 1285.75h3.80V1490.00h-3.80ZM1146.78 1182.51h3.80V1490.00h-3.80ZM1150.57 1237.08h3.80V1490.00h-3.80ZM1154.37 1145.63h3.80V1490.00h-3.80ZM1158.17 1231.18h3.80V1490.00h-3.80ZM1161.96 1250.35h3.80V1490.00h-3.80ZM1165.76 1263.63h3.80V1490.00h-3.80ZM1169.56 1232.65h3.80V1490.00h-3.80ZM1173.36 1300.50h3.80V1490.00h-3.80ZM1177.15 1214.96h3.80V1490.00h-3.80ZM1180.95 1231.18h3.80V1490.00h-3.80ZM1184.75 1172.18h3.80V1490.00h-3.80ZM1188.54 1272.48h3.80V1490.00h-3.80ZM1192.34 1207.58h3.80V1490.00h-3.80ZM1196.14 1150.06h3.80V1490.00h-3.80ZM1199.93 1216.43h3.80V1490.00h-3.80ZM1203.73 1173.66h3.80V1490.00h-3.80ZM1207.53 1122.04h3.80V1490.00h-3.80ZM1211.33 1164.81h3.80V1490.00h-3.80ZM1215.12 1091.06h3.80V1490.00h-3.80ZM1218.92 1158.91h3.80V1490.00h-3.80ZM1222.72 1099.91h3.80V1490.00h-3.80ZM1226.51 1197.26h3.80V1490.00h-3.80ZM1230.31 1077.79h3.80V1490.00h-3.80ZM1234.11 1114.66h3.80V1490.00h-3.80ZM1237.90 1110.24h3.80V1490.00h-3.80ZM1241.70 1170.71h3.80V1490.00h-3.80ZM1245.50 1057.14h3.80V1490.00h-3.80ZM1249.30 1098.44h3.80V1490.00h-3.80ZM1253.09 1071.89h3.80V1490.00h-3.80ZM1256.89 1063.04h3.80V1490.00h-3.80ZM1260.69 1083.69h3.80V1490.00h-3.80ZM1264.48 992.24h3.80V1490.00h-3.80ZM1268.28 1083.69h3.80V1490.00h-3.80ZM1272.08 1089.59h3.80V1490.00h-3.80ZM1275.87 1092.54h3.80V1490.00h-3.80ZM1279.67 906.70h3.80V1490.00h-3.80ZM1283.47 840.32h3.80V1490.00h-3.80ZM1287.27 858.02h3.80V1490.00h-3.80Z" fill="url(#pMXL2b)"/>
<path d="M1048.05 1489.29h3.80V1490.00h-3.80ZM1051.85 1489.29h3.80V1490.00h-3.80ZM1055.65 1489.29h3.80V1490.00h-3.80ZM1059.45 1486.34h3.80V1490.00h-3.80ZM1063.24 1489.29h3.80V1490.00h-3.80ZM1067.04 1486.34h3.80V1490.00h-3.80ZM1070.84 1484.87h3.80V1490.00h-3.80ZM1074.63 1486.34h3.80V1490.00h-3.80ZM1078.43 1486.34h3.80V1490.00h-3.80ZM1082.23 1486.34h3.80V1490.00h-3.80ZM1086.02 1486.34h3.80V1490.00h-3.80ZM1089.82 1483.39h3.80V1490.00h-3.80ZM1093.62 1486.34h3.80V1490.00h-3.80ZM1097.42 1486.34h3.80V1490.00h-3.80ZM1101.21 1486.34h3.80V1490.00h-3.80ZM1105.01 1486.34h3.80V1490.00h-3.80ZM1108.81 1486.34h3.80V1490.00h-3.80ZM1112.60 1486.34h3.80V1490.00h-3.80ZM1116.40 1391.95h3.80V1490.00h-3.80ZM1120.20 1470.12h3.80V1490.00h-3.80ZM1123.99 1467.17h3.80V1490.00h-3.80ZM1127.79 1468.64h3.80V1490.00h-3.80ZM1131.59 1447.99h3.80V1490.00h-3.80ZM1135.38 1484.87h3.80V1490.00h-3.80ZM1139.18 1486.34h3.80V1490.00h-3.80ZM1142.98 1486.34h3.80V1490.00h-3.80ZM1146.78 1486.34h3.80V1490.00h-3.80ZM1150.57 1486.34h3.80V1490.00h-3.80ZM1154.37 1486.34h3.80V1490.00h-3.80ZM1158.17 1486.34h3.80V1490.00h-3.80ZM1161.96 1486.34h3.80V1490.00h-3.80ZM1165.76 1486.34h3.80V1490.00h-3.80ZM1169.56 1484.87h3.80V1490.00h-3.80ZM1173.36 1483.39h3.80V1490.00h-3.80ZM1177.15 1483.39h3.80V1490.00h-3.80ZM1180.95 1478.97h3.80V1490.00h-3.80ZM1184.75 1471.59h3.80V1490.00h-3.80ZM1188.54 1471.59h3.80V1490.00h-3.80ZM1192.34 1486.34h3.80V1490.00h-3.80ZM1196.14 1458.32h3.80V1490.00h-3.80ZM1199.93 1471.59h3.80V1490.00h-3.80ZM1203.73 1483.39h3.80V1490.00h-3.80ZM1207.53 1486.34h3.80V1490.00h-3.80ZM1211.33 1419.97h3.80V1490.00h-3.80ZM1215.12 1486.34h3.80V1490.00h-3.80ZM1218.92 1486.34h3.80V1490.00h-3.80ZM1222.72 1486.34h3.80V1490.00h-3.80ZM1226.51 1486.34h3.80V1490.00h-3.80ZM1230.31 1484.87h3.80V1490.00h-3.80ZM1234.11 1483.39h3.80V1490.00h-3.80ZM1237.90 1481.92h3.80V1490.00h-3.80ZM1241.70 1481.92h3.80V1490.00h-3.80ZM1245.50 1480.44h3.80V1490.00h-3.80ZM1249.30 1480.44h3.80V1490.00h-3.80ZM1253.09 1481.92h3.80V1490.00h-3.80ZM1256.89 1483.39h3.80V1490.00h-3.80ZM1260.69 1486.34h3.80V1490.00h-3.80ZM1264.48 1483.39h3.80V1490.00h-3.80ZM1268.28 1480.44h3.80V1490.00h-3.80ZM1272.08 1486.34h3.80V1490.00h-3.80ZM1275.87 1480.44h3.80V1490.00h-3.80ZM1279.67 1478.97h3.80V1490.00h-3.80ZM1283.47 1480.44h3.80V1490.00h-3.80ZM1287.27 1489.29h3.80V1490.00h-3.80Z" fill="url(#pMXL2o)"/>
</g>
<g>
<rect x="1306.12" y="838.3" width="356.92" height="651.70" fill="url(#pCLM2u)"/>
<path d="M1306.12 1225.07h3.80V1490.00h-3.80ZM1309.92 1189.69h3.80V1490.00h-3.80ZM1313.72 1213.28h3.80V1490.00h-3.80ZM1317.51 1242.76h3.80V1490.00h-3.80ZM1321.31 1104.19h3.80V1490.00h-3.80ZM1325.11 1133.67h3.80V1490.00h-3.80ZM1328.90 1222.12h3.80V1490.00h-3.80ZM1332.70 1148.42h3.80V1490.00h-3.80ZM1336.50 1143.99h3.80V1490.00h-3.80ZM1340.30 1012.79h3.80V1490.00h-3.80ZM1344.09 1120.41h3.80V1490.00h-3.80ZM1347.89 1151.36h3.80V1490.00h-3.80ZM1351.69 1114.51h3.80V1490.00h-3.80ZM1355.48 996.58h3.80V1490.00h-3.80ZM1359.28 1073.23h3.80V1490.00h-3.80ZM1363.08 1172.00h3.80V1490.00h-3.80ZM1366.87 1143.99h3.80V1490.00h-3.80ZM1370.67 1169.05h3.80V1490.00h-3.80ZM1374.47 1098.29h3.80V1490.00h-3.80ZM1378.27 1051.12h3.80V1490.00h-3.80ZM1382.06 1082.08h3.80V1490.00h-3.80ZM1385.86 1105.66h3.80V1490.00h-3.80ZM1389.66 1074.71h3.80V1490.00h-3.80ZM1393.45 1006.90h3.80V1490.00h-3.80ZM1397.25 1070.29h3.80V1490.00h-3.80ZM1401.05 1070.29h3.80V1490.00h-3.80ZM1404.84 909.60h3.80V1490.00h-3.80ZM1408.64 1043.75h3.80V1490.00h-3.80ZM1412.44 1104.19h3.80V1490.00h-3.80ZM1416.24 1101.24h3.80V1490.00h-3.80ZM1420.03 1095.35h3.80V1490.00h-3.80ZM1423.83 1146.94h3.80V1490.00h-3.80ZM1427.63 1152.84h3.80V1490.00h-3.80ZM1431.42 1006.90h3.80V1490.00h-3.80ZM1435.22 1034.91h3.80V1490.00h-3.80ZM1439.02 855.06h3.80V1490.00h-3.80ZM1442.81 956.78h3.80V1490.00h-3.80ZM1446.61 1098.29h3.80V1490.00h-3.80ZM1450.41 906.66h3.80V1490.00h-3.80ZM1454.21 1089.45h3.80V1490.00h-3.80ZM1458.00 1005.42h3.80V1490.00h-3.80ZM1461.80 1089.45h3.80V1490.00h-3.80ZM1465.60 1039.33h3.80V1490.00h-3.80ZM1469.39 1092.40h3.80V1490.00h-3.80ZM1473.19 1179.37h3.80V1490.00h-3.80ZM1476.99 996.58h3.80V1490.00h-3.80ZM1480.78 995.10h3.80V1490.00h-3.80ZM1484.58 1046.70h3.80V1490.00h-3.80ZM1488.38 1049.65h3.80V1490.00h-3.80ZM1492.18 863.91h3.80V1490.00h-3.80ZM1495.97 1080.60h3.80V1490.00h-3.80ZM1499.77 939.09h3.80V1490.00h-3.80ZM1503.57 1108.61h3.80V1490.00h-3.80ZM1507.36 977.41h3.80V1490.00h-3.80ZM1511.16 1015.74h3.80V1490.00h-3.80ZM1514.96 936.14h3.80V1490.00h-3.80ZM1518.75 1048.17h3.80V1490.00h-3.80ZM1522.55 949.41h3.80V1490.00h-3.80ZM1526.35 922.87h3.80V1490.00h-3.80ZM1530.14 1033.43h3.80V1490.00h-3.80ZM1533.94 918.45h3.80V1490.00h-3.80ZM1537.74 972.99h3.80V1490.00h-3.80ZM1541.54 959.72h3.80V1490.00h-3.80ZM1545.33 1014.27h3.80V1490.00h-3.80ZM1549.13 869.80h3.80V1490.00h-3.80ZM1552.93 933.19h3.80V1490.00h-3.80ZM1556.72 1083.55h3.80V1490.00h-3.80ZM1560.52 1086.50h3.80V1490.00h-3.80ZM1564.32 953.83h3.80V1490.00h-3.80ZM1568.12 1073.23h3.80V1490.00h-3.80ZM1571.91 952.35h3.80V1490.00h-3.80ZM1575.71 1036.38h3.80V1490.00h-3.80ZM1579.51 912.55h3.80V1490.00h-3.80ZM1583.30 990.68h3.80V1490.00h-3.80ZM1587.10 943.51h3.80V1490.00h-3.80ZM1590.90 1045.22h3.80V1490.00h-3.80ZM1594.69 856.53h3.80V1490.00h-3.80ZM1598.49 883.07h3.80V1490.00h-3.80ZM1602.29 843.27h3.80V1490.00h-3.80ZM1606.09 933.19h3.80V1490.00h-3.80ZM1609.88 886.02h3.80V1490.00h-3.80ZM1613.68 886.02h3.80V1490.00h-3.80ZM1617.48 980.36h3.80V1490.00h-3.80ZM1621.27 856.53h3.80V1490.00h-3.80ZM1625.07 924.35h3.80V1490.00h-3.80ZM1628.87 841.79h3.80V1490.00h-3.80ZM1632.66 841.79h3.80V1490.00h-3.80ZM1636.46 855.06h3.80V1490.00h-3.80ZM1640.26 897.81h3.80V1490.00h-3.80ZM1644.06 936.14h3.80V1490.00h-3.80ZM1647.85 863.91h3.80V1490.00h-3.80ZM1651.65 841.79h3.80V1490.00h-3.80ZM1655.45 843.27h3.80V1490.00h-3.80ZM1659.24 846.22h3.80V1490.00h-3.80Z" fill="url(#pCLM2k)"/>
<path d="M1306.12 1242.76h3.80V1490.00h-3.80ZM1309.92 1195.59h3.80V1490.00h-3.80ZM1313.72 1222.12h3.80V1490.00h-3.80ZM1317.51 1257.50h3.80V1490.00h-3.80ZM1321.31 1110.09h3.80V1490.00h-3.80ZM1325.11 1139.57h3.80V1490.00h-3.80ZM1328.90 1223.60h3.80V1490.00h-3.80ZM1332.70 1163.16h3.80V1490.00h-3.80ZM1336.50 1145.47h3.80V1490.00h-3.80ZM1340.30 1027.54h3.80V1490.00h-3.80ZM1344.09 1123.35h3.80V1490.00h-3.80ZM1347.89 1170.53h3.80V1490.00h-3.80ZM1351.69 1129.25h3.80V1490.00h-3.80ZM1355.48 1009.85h3.80V1490.00h-3.80ZM1359.28 1077.66h3.80V1490.00h-3.80ZM1363.08 1177.90h3.80V1490.00h-3.80ZM1366.87 1151.36h3.80V1490.00h-3.80ZM1370.67 1174.95h3.80V1490.00h-3.80ZM1374.47 1101.24h3.80V1490.00h-3.80ZM1378.27 1057.02h3.80V1490.00h-3.80ZM1382.06 1086.50h3.80V1490.00h-3.80ZM1385.86 1127.78h3.80V1490.00h-3.80ZM1389.66 1079.13h3.80V1490.00h-3.80ZM1393.45 1015.74h3.80V1490.00h-3.80ZM1397.25 1073.23h3.80V1490.00h-3.80ZM1401.05 1073.23h3.80V1490.00h-3.80ZM1404.84 934.66h3.80V1490.00h-3.80ZM1408.64 1059.97h3.80V1490.00h-3.80ZM1412.44 1107.14h3.80V1490.00h-3.80ZM1416.24 1104.19h3.80V1490.00h-3.80ZM1420.03 1098.29h3.80V1490.00h-3.80ZM1423.83 1154.31h3.80V1490.00h-3.80ZM1427.63 1172.00h3.80V1490.00h-3.80ZM1431.42 1014.27h3.80V1490.00h-3.80ZM1435.22 1037.85h3.80V1490.00h-3.80ZM1439.02 863.91h3.80V1490.00h-3.80ZM1442.81 1074.71h3.80V1490.00h-3.80ZM1446.61 1102.72h3.80V1490.00h-3.80ZM1450.41 981.84h3.80V1490.00h-3.80ZM1454.21 1095.35h3.80V1490.00h-3.80ZM1458.00 1061.44h3.80V1490.00h-3.80ZM1461.80 1095.35h3.80V1490.00h-3.80ZM1465.60 1048.17h3.80V1490.00h-3.80ZM1469.39 1096.82h3.80V1490.00h-3.80ZM1473.19 1180.85h3.80V1490.00h-3.80ZM1476.99 1006.90h3.80V1490.00h-3.80ZM1480.78 998.05h3.80V1490.00h-3.80ZM1484.58 1055.54h3.80V1490.00h-3.80ZM1488.38 1057.02h3.80V1490.00h-3.80ZM1492.18 1020.16h3.80V1490.00h-3.80ZM1495.97 1086.50h3.80V1490.00h-3.80ZM1499.77 962.67h3.80V1490.00h-3.80ZM1503.57 1120.41h3.80V1490.00h-3.80ZM1507.36 986.26h3.80V1490.00h-3.80ZM1511.16 1030.48h3.80V1490.00h-3.80ZM1514.96 942.03h3.80V1490.00h-3.80ZM1518.75 1067.34h3.80V1490.00h-3.80ZM1522.55 983.31h3.80V1490.00h-3.80ZM1526.35 928.77h3.80V1490.00h-3.80ZM1530.14 1043.75h3.80V1490.00h-3.80ZM1533.94 931.72h3.80V1490.00h-3.80ZM1537.74 974.47h3.80V1490.00h-3.80ZM1541.54 977.41h3.80V1490.00h-3.80ZM1545.33 1017.22h3.80V1490.00h-3.80ZM1549.13 908.13h3.80V1490.00h-3.80ZM1552.93 1036.38h3.80V1490.00h-3.80ZM1556.72 1089.45h3.80V1490.00h-3.80ZM1560.52 1092.40h3.80V1490.00h-3.80ZM1564.32 964.15h3.80V1490.00h-3.80ZM1568.12 1076.18h3.80V1490.00h-3.80ZM1571.91 965.62h3.80V1490.00h-3.80ZM1575.71 1039.33h3.80V1490.00h-3.80ZM1579.51 943.51h3.80V1490.00h-3.80ZM1583.30 992.16h3.80V1490.00h-3.80ZM1587.10 980.36h3.80V1490.00h-3.80ZM1590.90 1049.65h3.80V1490.00h-3.80ZM1594.69 866.85h3.80V1490.00h-3.80ZM1598.49 891.91h3.80V1490.00h-3.80ZM1602.29 956.78h3.80V1490.00h-3.80ZM1606.09 974.47h3.80V1490.00h-3.80ZM1609.88 894.86h3.80V1490.00h-3.80ZM1613.68 894.86h3.80V1490.00h-3.80ZM1617.48 987.73h3.80V1490.00h-3.80ZM1621.27 866.85h3.80V1490.00h-3.80ZM1625.07 962.67h3.80V1490.00h-3.80ZM1628.87 888.97h3.80V1490.00h-3.80ZM1632.66 953.83h3.80V1490.00h-3.80ZM1636.46 859.48h3.80V1490.00h-3.80ZM1640.26 931.72h3.80V1490.00h-3.80ZM1644.06 939.09h3.80V1490.00h-3.80ZM1647.85 868.33h3.80V1490.00h-3.80ZM1651.65 844.74h3.80V1490.00h-3.80ZM1655.45 847.69h3.80V1490.00h-3.80ZM1659.24 886.02h3.80V1490.00h-3.80Z" fill="url(#pCLM2b)"/>
<path d="M1306.12 1485.99h3.80V1490.00h-3.80ZM1309.92 1485.99h3.80V1490.00h-3.80ZM1313.72 1466.83h3.80V1490.00h-3.80ZM1317.51 1372.48h3.80V1490.00h-3.80ZM1321.31 1266.35h3.80V1490.00h-3.80ZM1325.11 1485.99h3.80V1490.00h-3.80ZM1328.90 1485.99h3.80V1490.00h-3.80ZM1332.70 1485.99h3.80V1490.00h-3.80ZM1336.50 1485.99h3.80V1490.00h-3.80ZM1340.30 1475.67h3.80V1490.00h-3.80ZM1344.09 1485.99h3.80V1490.00h-3.80ZM1347.89 1485.99h3.80V1490.00h-3.80ZM1351.69 1435.87h3.80V1490.00h-3.80ZM1355.48 1485.99h3.80V1490.00h-3.80ZM1359.28 1278.14h3.80V1490.00h-3.80ZM1363.08 1485.99h3.80V1490.00h-3.80ZM1366.87 1485.99h3.80V1490.00h-3.80ZM1370.67 1485.99h3.80V1490.00h-3.80ZM1374.47 1485.99h3.80V1490.00h-3.80ZM1378.27 1400.49h3.80V1490.00h-3.80ZM1382.06 1485.99h3.80V1490.00h-3.80ZM1385.86 1485.99h3.80V1490.00h-3.80ZM1389.66 1418.18h3.80V1490.00h-3.80ZM1393.45 1403.44h3.80V1490.00h-3.80ZM1397.25 1317.94h3.80V1490.00h-3.80ZM1401.05 1485.99h3.80V1490.00h-3.80ZM1404.84 1447.67h3.80V1490.00h-3.80ZM1408.64 1459.46h3.80V1490.00h-3.80ZM1412.44 1485.99h3.80V1490.00h-3.80ZM1416.24 1485.99h3.80V1490.00h-3.80ZM1420.03 1343.00h3.80V1490.00h-3.80ZM1423.83 1480.10h3.80V1490.00h-3.80ZM1427.63 1407.86h3.80V1490.00h-3.80ZM1431.42 1443.24h3.80V1490.00h-3.80ZM1435.22 1320.89h3.80V1490.00h-3.80ZM1439.02 1288.46h3.80V1490.00h-3.80ZM1442.81 1483.05h3.80V1490.00h-3.80ZM1446.61 1485.99h3.80V1490.00h-3.80ZM1450.41 1485.99h3.80V1490.00h-3.80ZM1454.21 1478.62h3.80V1490.00h-3.80ZM1458.00 1485.99h3.80V1490.00h-3.80ZM1461.80 1351.85h3.80V1490.00h-3.80ZM1465.60 1396.07h3.80V1490.00h-3.80ZM1469.39 1485.99h3.80V1490.00h-3.80ZM1473.19 1485.99h3.80V1490.00h-3.80ZM1476.99 1485.99h3.80V1490.00h-3.80ZM1480.78 1485.99h3.80V1490.00h-3.80ZM1484.58 1485.99h3.80V1490.00h-3.80ZM1488.38 1474.20h3.80V1490.00h-3.80ZM1492.18 1292.88h3.80V1490.00h-3.80ZM1495.97 1485.99h3.80V1490.00h-3.80ZM1499.77 1480.10h3.80V1490.00h-3.80ZM1503.57 1483.05h3.80V1490.00h-3.80ZM1507.36 1485.99h3.80V1490.00h-3.80ZM1511.16 1485.99h3.80V1490.00h-3.80ZM1514.96 1452.09h3.80V1490.00h-3.80ZM1518.75 1455.04h3.80V1490.00h-3.80ZM1522.55 1485.99h3.80V1490.00h-3.80ZM1526.35 1465.36h3.80V1490.00h-3.80ZM1530.14 1485.99h3.80V1490.00h-3.80ZM1533.94 1485.99h3.80V1490.00h-3.80ZM1537.74 1478.62h3.80V1490.00h-3.80ZM1541.54 1474.20h3.80V1490.00h-3.80ZM1545.33 1485.99h3.80V1490.00h-3.80ZM1549.13 1485.99h3.80V1490.00h-3.80ZM1552.93 1281.09h3.80V1490.00h-3.80ZM1556.72 1485.99h3.80V1490.00h-3.80ZM1560.52 1376.91h3.80V1490.00h-3.80ZM1564.32 1485.99h3.80V1490.00h-3.80ZM1568.12 1294.36h3.80V1490.00h-3.80ZM1571.91 1468.30h3.80V1490.00h-3.80ZM1575.71 1485.99h3.80V1490.00h-3.80ZM1579.51 1403.44h3.80V1490.00h-3.80ZM1583.30 1485.99h3.80V1490.00h-3.80ZM1587.10 1463.88h3.80V1490.00h-3.80ZM1590.90 1485.99h3.80V1490.00h-3.80ZM1594.69 1477.15h3.80V1490.00h-3.80ZM1598.49 1485.99h3.80V1490.00h-3.80ZM1602.29 1485.99h3.80V1490.00h-3.80ZM1606.09 1485.99h3.80V1490.00h-3.80ZM1609.88 1485.99h3.80V1490.00h-3.80ZM1613.68 1485.99h3.80V1490.00h-3.80ZM1617.48 1485.99h3.80V1490.00h-3.80ZM1621.27 1485.99h3.80V1490.00h-3.80ZM1625.07 1453.56h3.80V1490.00h-3.80ZM1628.87 1472.73h3.80V1490.00h-3.80ZM1632.66 1485.99h3.80V1490.00h-3.80ZM1636.46 1478.62h3.80V1490.00h-3.80ZM1640.26 1475.67h3.80V1490.00h-3.80ZM1644.06 1485.99h3.80V1490.00h-3.80ZM1647.85 1471.25h3.80V1490.00h-3.80ZM1651.65 1485.99h3.80V1490.00h-3.80ZM1655.45 1485.99h3.80V1490.00h-3.80ZM1659.24 1484.52h3.80V1490.00h-3.80Z" fill="url(#pCLM2o)"/>
</g>
<g>
<rect x="1678.10" y="838.3" width="394.89" height="651.70" fill="url(#pPUR2u)"/>
<path d="M1678.10 1083.54h3.80V1490.00h-3.80ZM1681.90 937.61h3.80V1490.00h-3.80ZM1685.69 968.56h3.80V1490.00h-3.80ZM1689.49 970.04h3.80V1490.00h-3.80ZM1697.09 1006.89h3.80V1490.00h-3.80ZM1700.88 965.61h3.80V1490.00h-3.80ZM1704.68 1005.41h3.80V1490.00h-3.80ZM1708.48 1018.68h3.80V1490.00h-3.80ZM1712.27 856.53h3.80V1490.00h-3.80ZM1716.07 958.24h3.80V1490.00h-3.80ZM1719.87 947.92h3.80V1490.00h-3.80ZM1723.66 869.80h3.80V1490.00h-3.80ZM1727.46 1008.36h3.80V1490.00h-3.80ZM1731.26 1061.43h3.80V1490.00h-3.80ZM1735.06 875.70h3.80V1490.00h-3.80ZM1738.85 874.22h3.80V1490.00h-3.80ZM1742.65 888.96h3.80V1490.00h-3.80ZM1746.45 846.21h3.80V1490.00h-3.80ZM1750.24 853.58h3.80V1490.00h-3.80ZM1754.04 975.93h3.80V1490.00h-3.80ZM1757.84 977.41h3.80V1490.00h-3.80ZM1761.63 959.72h3.80V1490.00h-3.80ZM1765.43 906.65h3.80V1490.00h-3.80ZM1769.23 998.04h3.80V1490.00h-3.80ZM1773.03 971.51h3.80V1490.00h-3.80ZM1776.82 916.97h3.80V1490.00h-3.80ZM1780.62 852.11h3.80V1490.00h-3.80ZM1784.42 983.30h3.80V1490.00h-3.80ZM1788.21 909.60h3.80V1490.00h-3.80ZM1792.01 847.69h3.80V1490.00h-3.80ZM1795.81 883.07h3.80V1490.00h-3.80ZM1799.60 952.35h3.80V1490.00h-3.80ZM1803.40 868.33h3.80V1490.00h-3.80ZM1811.00 856.53h3.80V1490.00h-3.80ZM1814.79 949.40h3.80V1490.00h-3.80ZM1818.59 915.50h3.80V1490.00h-3.80ZM1822.39 840.32h3.80V1490.00h-3.80ZM1826.18 993.62h3.80V1490.00h-3.80ZM1829.98 984.78h3.80V1490.00h-3.80ZM1833.78 887.49h3.80V1490.00h-3.80ZM1837.57 846.21h3.80V1490.00h-3.80ZM1841.37 872.75h3.80V1490.00h-3.80ZM1845.17 933.18h3.80V1490.00h-3.80ZM1848.97 874.22h3.80V1490.00h-3.80ZM1852.76 877.17h3.80V1490.00h-3.80ZM1856.56 1030.47h3.80V1490.00h-3.80ZM1860.36 1033.42h3.80V1490.00h-3.80ZM1864.15 1037.84h3.80V1490.00h-3.80ZM1867.95 843.27h3.80V1490.00h-3.80ZM1871.75 946.45h3.80V1490.00h-3.80ZM1875.54 921.39h3.80V1490.00h-3.80ZM1879.34 918.44h3.80V1490.00h-3.80ZM1883.14 974.46h3.80V1490.00h-3.80ZM1886.94 850.64h3.80V1490.00h-3.80ZM1890.73 986.25h3.80V1490.00h-3.80ZM1894.53 871.27h3.80V1490.00h-3.80ZM1898.33 990.67h3.80V1490.00h-3.80ZM1902.12 931.71h3.80V1490.00h-3.80ZM1905.92 936.13h3.80V1490.00h-3.80ZM1909.72 855.06h3.80V1490.00h-3.80ZM1913.51 1003.94h3.80V1490.00h-3.80ZM1917.31 859.48h3.80V1490.00h-3.80ZM1921.11 887.49h3.80V1490.00h-3.80ZM1924.91 843.27h3.80V1490.00h-3.80ZM1928.70 863.90h3.80V1490.00h-3.80ZM1932.50 859.48h3.80V1490.00h-3.80ZM1936.30 863.90h3.80V1490.00h-3.80ZM1940.09 853.58h3.80V1490.00h-3.80ZM1943.89 1077.64h3.80V1490.00h-3.80ZM1947.69 862.43h3.80V1490.00h-3.80ZM1951.48 940.55h3.80V1490.00h-3.80ZM1955.28 947.92h3.80V1490.00h-3.80ZM1959.08 989.20h3.80V1490.00h-3.80ZM1962.88 975.93h3.80V1490.00h-3.80ZM1966.67 971.51h3.80V1490.00h-3.80ZM1970.47 865.38h3.80V1490.00h-3.80ZM1974.27 967.09h3.80V1490.00h-3.80ZM1978.06 859.48h3.80V1490.00h-3.80ZM1981.86 886.01h3.80V1490.00h-3.80ZM1985.66 862.43h3.80V1490.00h-3.80ZM1989.45 843.27h3.80V1490.00h-3.80ZM1993.25 853.58h3.80V1490.00h-3.80ZM1997.05 933.18h3.80V1490.00h-3.80ZM2000.85 853.58h3.80V1490.00h-3.80ZM2004.64 961.19h3.80V1490.00h-3.80ZM2008.44 846.21h3.80V1490.00h-3.80ZM2012.24 868.33h3.80V1490.00h-3.80ZM2016.03 846.21h3.80V1490.00h-3.80ZM2019.83 868.33h3.80V1490.00h-3.80ZM2023.63 874.22h3.80V1490.00h-3.80ZM2027.42 859.48h3.80V1490.00h-3.80ZM2031.22 841.79h3.80V1490.00h-3.80ZM2035.02 844.74h3.80V1490.00h-3.80ZM2038.82 844.74h3.80V1490.00h-3.80ZM2042.61 930.24h3.80V1490.00h-3.80ZM2046.41 863.90h3.80V1490.00h-3.80ZM2050.21 868.33h3.80V1490.00h-3.80ZM2054.00 847.69h3.80V1490.00h-3.80ZM2057.80 850.64h3.80V1490.00h-3.80ZM2061.60 888.96h3.80V1490.00h-3.80ZM2065.39 852.11h3.80V1490.00h-3.80ZM2069.19 850.64h3.80V1490.00h-3.80Z" fill="url(#pPUR2k)"/>
<path d="M1678.10 1086.49h3.80V1490.00h-3.80ZM1681.90 944.98h3.80V1490.00h-3.80ZM1685.69 983.30h3.80V1490.00h-3.80ZM1689.49 1030.47h3.80V1490.00h-3.80ZM1693.29 1141.03h3.80V1490.00h-3.80ZM1697.09 1011.31h3.80V1490.00h-3.80ZM1700.88 983.30h3.80V1490.00h-3.80ZM1704.68 1008.36h3.80V1490.00h-3.80ZM1708.48 1020.15h3.80V1490.00h-3.80ZM1712.27 897.81h3.80V1490.00h-3.80ZM1716.07 961.19h3.80V1490.00h-3.80ZM1719.87 980.35h3.80V1490.00h-3.80ZM1723.66 908.12h3.80V1490.00h-3.80ZM1727.46 1011.31h3.80V1490.00h-3.80ZM1731.26 1068.80h3.80V1490.00h-3.80ZM1735.06 922.87h3.80V1490.00h-3.80ZM1738.85 989.20h3.80V1490.00h-3.80ZM1742.65 894.86h3.80V1490.00h-3.80ZM1746.45 852.11h3.80V1490.00h-3.80ZM1750.24 858.01h3.80V1490.00h-3.80ZM1754.04 1000.99h3.80V1490.00h-3.80ZM1757.84 989.20h3.80V1490.00h-3.80ZM1761.63 967.09h3.80V1490.00h-3.80ZM1765.43 912.55h3.80V1490.00h-3.80ZM1769.23 1000.99h3.80V1490.00h-3.80ZM1773.03 974.46h3.80V1490.00h-3.80ZM1776.82 937.61h3.80V1490.00h-3.80ZM1780.62 855.06h3.80V1490.00h-3.80ZM1784.42 986.25h3.80V1490.00h-3.80ZM1788.21 914.02h3.80V1490.00h-3.80ZM1792.01 850.64h3.80V1490.00h-3.80ZM1795.81 884.54h3.80V1490.00h-3.80ZM1799.60 965.61h3.80V1490.00h-3.80ZM1803.40 1027.52h3.80V1490.00h-3.80ZM1807.20 1087.96h3.80V1490.00h-3.80ZM1811.00 888.96h3.80V1490.00h-3.80ZM1814.79 970.04h3.80V1490.00h-3.80ZM1818.59 933.18h3.80V1490.00h-3.80ZM1822.39 990.67h3.80V1490.00h-3.80ZM1826.18 1003.94h3.80V1490.00h-3.80ZM1829.98 1003.94h3.80V1490.00h-3.80ZM1833.78 1014.26h3.80V1490.00h-3.80ZM1837.57 852.11h3.80V1490.00h-3.80ZM1841.37 936.13h3.80V1490.00h-3.80ZM1845.17 956.77h3.80V1490.00h-3.80ZM1848.97 888.96h3.80V1490.00h-3.80ZM1852.76 891.91h3.80V1490.00h-3.80ZM1856.56 1036.37h3.80V1490.00h-3.80ZM1860.36 1048.16h3.80V1490.00h-3.80ZM1864.15 1049.63h3.80V1490.00h-3.80ZM1867.95 846.21h3.80V1490.00h-3.80ZM1871.75 949.40h3.80V1490.00h-3.80ZM1875.54 927.29h3.80V1490.00h-3.80ZM1879.34 924.34h3.80V1490.00h-3.80ZM1883.14 977.41h3.80V1490.00h-3.80ZM1886.94 853.58h3.80V1490.00h-3.80ZM1890.73 1003.94h3.80V1490.00h-3.80ZM1894.53 927.29h3.80V1490.00h-3.80ZM1898.33 993.62h3.80V1490.00h-3.80ZM1902.12 933.18h3.80V1490.00h-3.80ZM1905.92 942.03h3.80V1490.00h-3.80ZM1909.72 887.49h3.80V1490.00h-3.80ZM1913.51 1006.89h3.80V1490.00h-3.80ZM1917.31 902.23h3.80V1490.00h-3.80ZM1921.11 974.46h3.80V1490.00h-3.80ZM1924.91 847.69h3.80V1490.00h-3.80ZM1928.70 916.97h3.80V1490.00h-3.80ZM1932.50 916.97h3.80V1490.00h-3.80ZM1936.30 916.97h3.80V1490.00h-3.80ZM1940.09 862.43h3.80V1490.00h-3.80ZM1943.89 1079.12h3.80V1490.00h-3.80ZM1947.69 865.38h3.80V1490.00h-3.80ZM1951.48 949.40h3.80V1490.00h-3.80ZM1955.28 955.29h3.80V1490.00h-3.80ZM1959.08 1008.36h3.80V1490.00h-3.80ZM1962.88 995.09h3.80V1490.00h-3.80ZM1966.67 1003.94h3.80V1490.00h-3.80ZM1970.47 916.97h3.80V1490.00h-3.80ZM1974.27 970.04h3.80V1490.00h-3.80ZM1978.06 865.38h3.80V1490.00h-3.80ZM1981.86 891.91h3.80V1490.00h-3.80ZM1985.66 868.33h3.80V1490.00h-3.80ZM1989.45 847.69h3.80V1490.00h-3.80ZM1993.25 856.53h3.80V1490.00h-3.80ZM1997.05 981.83h3.80V1490.00h-3.80ZM2000.85 856.53h3.80V1490.00h-3.80ZM2004.64 967.09h3.80V1490.00h-3.80ZM2008.44 852.11h3.80V1490.00h-3.80ZM2012.24 978.88h3.80V1490.00h-3.80ZM2016.03 911.07h3.80V1490.00h-3.80ZM2019.83 914.02h3.80V1490.00h-3.80ZM2023.63 914.02h3.80V1490.00h-3.80ZM2027.42 863.90h3.80V1490.00h-3.80ZM2031.22 844.74h3.80V1490.00h-3.80ZM2035.02 896.33h3.80V1490.00h-3.80ZM2038.82 849.16h3.80V1490.00h-3.80ZM2042.61 950.87h3.80V1490.00h-3.80ZM2046.41 874.22h3.80V1490.00h-3.80ZM2050.21 883.07h3.80V1490.00h-3.80ZM2054.00 849.16h3.80V1490.00h-3.80ZM2057.80 916.97h3.80V1490.00h-3.80ZM2061.60 909.60h3.80V1490.00h-3.80ZM2065.39 853.58h3.80V1490.00h-3.80ZM2069.19 927.29h3.80V1490.00h-3.80Z" fill="url(#pPUR2b)"/>
<path d="M1678.10 1460.90h3.80V1490.00h-3.80ZM1681.90 1471.21h3.80V1490.00h-3.80ZM1685.69 1477.11h3.80V1490.00h-3.80ZM1689.49 1416.67h3.80V1490.00h-3.80ZM1693.29 1468.27h3.80V1490.00h-3.80ZM1697.09 1350.34h3.80V1490.00h-3.80ZM1700.88 1480.06h3.80V1490.00h-3.80ZM1704.68 1381.30h3.80V1490.00h-3.80ZM1708.48 1478.58h3.80V1490.00h-3.80ZM1712.27 1294.33h3.80V1490.00h-3.80ZM1716.07 1342.97h3.80V1490.00h-3.80ZM1719.87 1385.72h3.80V1490.00h-3.80ZM1723.66 1258.95h3.80V1490.00h-3.80ZM1727.46 1485.96h3.80V1490.00h-3.80ZM1731.26 1487.43h3.80V1490.00h-3.80ZM1735.06 1373.93h3.80V1490.00h-3.80ZM1738.85 1478.58h3.80V1490.00h-3.80ZM1742.65 1362.13h3.80V1490.00h-3.80ZM1746.45 1245.68h3.80V1490.00h-3.80ZM1750.24 1425.52h3.80V1490.00h-3.80ZM1754.04 1418.15h3.80V1490.00h-3.80ZM1757.84 1418.15h3.80V1490.00h-3.80ZM1761.63 1365.08h3.80V1490.00h-3.80ZM1765.43 1320.86h3.80V1490.00h-3.80ZM1769.23 1485.96h3.80V1490.00h-3.80ZM1773.03 1462.37h3.80V1490.00h-3.80ZM1776.82 1426.99h3.80V1490.00h-3.80ZM1780.62 1289.91h3.80V1490.00h-3.80ZM1784.42 1480.06h3.80V1490.00h-3.80ZM1788.21 1394.56h3.80V1490.00h-3.80ZM1792.01 1294.33h3.80V1490.00h-3.80ZM1795.81 1428.47h3.80V1490.00h-3.80ZM1799.60 1400.46h3.80V1490.00h-3.80ZM1803.40 1485.96h3.80V1490.00h-3.80ZM1807.20 1483.01h3.80V1490.00h-3.80ZM1811.00 1484.48h3.80V1490.00h-3.80ZM1814.79 1477.11h3.80V1490.00h-3.80ZM1818.59 1475.64h3.80V1490.00h-3.80ZM1822.39 1463.84h3.80V1490.00h-3.80ZM1826.18 1437.31h3.80V1490.00h-3.80ZM1829.98 1419.62h3.80V1490.00h-3.80ZM1833.78 1325.28h3.80V1490.00h-3.80ZM1837.57 1419.62h3.80V1490.00h-3.80ZM1841.37 1418.15h3.80V1490.00h-3.80ZM1845.17 1310.54h3.80V1490.00h-3.80ZM1848.97 1484.48h3.80V1490.00h-3.80ZM1852.76 1455.00h3.80V1490.00h-3.80ZM1856.56 1443.21h3.80V1490.00h-3.80ZM1860.36 1437.31h3.80V1490.00h-3.80ZM1864.15 1434.36h3.80V1490.00h-3.80ZM1867.95 1261.90h3.80V1490.00h-3.80ZM1871.75 1354.76h3.80V1490.00h-3.80ZM1875.54 1357.71h3.80V1490.00h-3.80ZM1879.34 1351.82h3.80V1490.00h-3.80ZM1883.14 1462.37h3.80V1490.00h-3.80ZM1886.94 1304.65h3.80V1490.00h-3.80ZM1890.73 1485.96h3.80V1490.00h-3.80ZM1894.53 1338.55h3.80V1490.00h-3.80ZM1898.33 1278.11h3.80V1490.00h-3.80ZM1902.12 1446.16h3.80V1490.00h-3.80ZM1905.92 1446.16h3.80V1490.00h-3.80ZM1909.72 1446.16h3.80V1490.00h-3.80ZM1913.51 1421.10h3.80V1490.00h-3.80ZM1917.31 1338.55h3.80V1490.00h-3.80ZM1921.11 1450.58h3.80V1490.00h-3.80ZM1924.91 1472.69h3.80V1490.00h-3.80ZM1928.70 1462.37h3.80V1490.00h-3.80ZM1932.50 1466.79h3.80V1490.00h-3.80ZM1936.30 1485.96h3.80V1490.00h-3.80ZM1940.09 1447.63h3.80V1490.00h-3.80ZM1943.89 1485.96h3.80V1490.00h-3.80ZM1947.69 1331.18h3.80V1490.00h-3.80ZM1951.48 1429.94h3.80V1490.00h-3.80ZM1955.28 1431.42h3.80V1490.00h-3.80ZM1959.08 1419.62h3.80V1490.00h-3.80ZM1962.88 1415.20h3.80V1490.00h-3.80ZM1966.67 1478.58h3.80V1490.00h-3.80ZM1970.47 1400.46h3.80V1490.00h-3.80ZM1974.27 1472.69h3.80V1490.00h-3.80ZM1978.06 1306.12h3.80V1490.00h-3.80ZM1981.86 1362.13h3.80V1490.00h-3.80ZM1985.66 1475.64h3.80V1490.00h-3.80ZM1989.45 1388.67h3.80V1490.00h-3.80ZM1993.25 1415.20h3.80V1490.00h-3.80ZM1997.05 1485.96h3.80V1490.00h-3.80ZM2000.85 1485.96h3.80V1490.00h-3.80ZM2004.64 1351.82h3.80V1490.00h-3.80ZM2008.44 1441.73h3.80V1490.00h-3.80ZM2012.24 1487.43h3.80V1490.00h-3.80ZM2016.03 1485.96h3.80V1490.00h-3.80ZM2019.83 1485.96h3.80V1490.00h-3.80ZM2023.63 1372.45h3.80V1490.00h-3.80ZM2027.42 1441.73h3.80V1490.00h-3.80ZM2031.22 1337.08h3.80V1490.00h-3.80ZM2035.02 1421.10h3.80V1490.00h-3.80ZM2038.82 1485.96h3.80V1490.00h-3.80ZM2042.61 1026.05h3.80V1490.00h-3.80ZM2046.41 1006.89h3.80V1490.00h-3.80ZM2050.21 1428.47h3.80V1490.00h-3.80ZM2054.00 1141.03h3.80V1490.00h-3.80ZM2057.80 1485.96h3.80V1490.00h-3.80ZM2061.60 1412.25h3.80V1490.00h-3.80ZM2065.39 1485.96h3.80V1490.00h-3.80ZM2069.19 1487.43h3.80V1490.00h-3.80Z" fill="url(#pPUR2o)"/>
</g>
<rect x="33.3" y="836.30" width="42.3" height="655.70" fill="#D9D9D9"/>
<text transform="translate(62.0 1165.00) rotate(-90)" font-size="23.5" text-anchor="middle" fill="#1A1A1A" stroke="#1A1A1A">VISAGE BT</text>
<line x1="2073.2" y1="1490.00" x2="2079" y2="1490.00" stroke="#333" stroke-width="2.6"/>
<text x="2086" y="1500.20" font-size="22.8" fill="#4D4D4D" stroke="#4D4D4D">0%</text>
<line x1="2073.2" y1="1327.08" x2="2079" y2="1327.08" stroke="#333" stroke-width="2.6"/>
<text x="2086" y="1337.28" font-size="22.8" fill="#4D4D4D" stroke="#4D4D4D">25%</text>
<line x1="2073.2" y1="1164.15" x2="2079" y2="1164.15" stroke="#333" stroke-width="2.6"/>
<text x="2086" y="1174.35" font-size="22.8" fill="#4D4D4D" stroke="#4D4D4D">50%</text>
<line x1="2073.2" y1="1001.22" x2="2079" y2="1001.22" stroke="#333" stroke-width="2.6"/>
<text x="2086" y="1011.42" font-size="22.8" fill="#4D4D4D" stroke="#4D4D4D">75%</text>
<line x1="2073.2" y1="838.30" x2="2079" y2="838.30" stroke="#333" stroke-width="2.6"/>
<text x="2086" y="848.50" font-size="22.8" fill="#4D4D4D" stroke="#4D4D4D">100%</text>
<text transform="translate(2150.0 798.4) rotate(90)" font-size="28.7" text-anchor="middle" fill="#000" stroke="#000">Co−ancestry Proportion</text>
<rect x="86.40" y="1547.7" width="317.3" height="41.5" fill="#D9D9D9"/>
<text x="245.05" y="1578.8" font-size="22.8" text-anchor="middle" fill="#1A1A1A" stroke="#1A1A1A">ACB</text>
<rect x="419.70" y="1547.7" width="317.3" height="41.5" fill="#D9D9D9"/>
<text x="578.35" y="1578.8" font-size="22.8" text-anchor="middle" fill="#1A1A1A" stroke="#1A1A1A">ASW</text>
<rect x="753.00" y="1547.7" width="317.3" height="41.5" fill="#D9D9D9"/>
<text x="911.65" y="1578.8" font-size="22.8" text-anchor="middle" fill="#1A1A1A" stroke="#1A1A1A">PEL</text>
<rect x="1086.30" y="1547.7" width="317.3" height="41.5" fill="#D9D9D9"/>
<text x="1244.95" y="1578.8" font-size="22.8" text-anchor="middle" fill="#1A1A1A" stroke="#1A1A1A">MXL</text>
<rect x="1419.60" y="1547.7" width="317.3" height="41.5" fill="#D9D9D9"/>
<text x="1578.25" y="1578.8" font-size="22.8" text-anchor="middle" fill="#1A1A1A" stroke="#1A1A1A">CLM</text>
<rect x="1752.90" y="1547.7" width="317.3" height="41.5" fill="#D9D9D9"/>
<text x="1911.55" y="1578.8" font-size="22.8" text-anchor="middle" fill="#1A1A1A" stroke="#1A1A1A">PUR</text>
<svg x="86.40" y="1597.70" width="317.3" height="685.50" overflow="hidden"><g transform="translate(-86.40 -1597.70)">
<rect x="86.40" y="1597.70" width="317.3" height="685.50" fill="#EBEBEB"/>
<line x1="136.06" y1="1597.7" x2="136.06" y2="2283.2" stroke="#FAFAFA" stroke-width="1.8"/>
<line x1="86.4" y1="2175.16" x2="403.70000000000005" y2="2175.16" stroke="#FAFAFA" stroke-width="1.8"/>
<line x1="208.99" y1="1597.7" x2="208.99" y2="2283.2" stroke="#FAFAFA" stroke-width="1.8"/>
<line x1="86.4" y1="2019.07" x2="403.70000000000005" y2="2019.07" stroke="#FAFAFA" stroke-width="1.8"/>
<line x1="281.91" y1="1597.7" x2="281.91" y2="2283.2" stroke="#FAFAFA" stroke-width="1.8"/>
<line x1="86.4" y1="1862.98" x2="403.70000000000005" y2="1862.98" stroke="#FAFAFA" stroke-width="1.8"/>
<line x1="354.84" y1="1597.7" x2="354.84" y2="2283.2" stroke="#FAFAFA" stroke-width="1.8"/>
<line x1="86.4" y1="1706.89" x2="403.70000000000005" y2="1706.89" stroke="#FAFAFA" stroke-width="1.8"/>
<line x1="99.60" y1="1597.7" x2="99.60" y2="2283.2" stroke="#FFFFFF" stroke-width="2.6"/>
<line x1="86.4" y1="2253.20" x2="403.70000000000005" y2="2253.20" stroke="#FFFFFF" stroke-width="2.6"/>
<line x1="172.53" y1="1597.7" x2="172.53" y2="2283.2" stroke="#FFFFFF" stroke-width="2.6"/>
<line x1="86.4" y1="2097.11" x2="403.70000000000005" y2="2097.11" stroke="#FFFFFF" stroke-width="2.6"/>
<line x1="245.45" y1="1597.7" x2="245.45" y2="2283.2" stroke="#FFFFFF" stroke-width="2.6"/>
<line x1="86.4" y1="1941.02" x2="403.70000000000005" y2="1941.02" stroke="#FFFFFF" stroke-width="2.6"/>
<line x1="318.38" y1="1597.7" x2="318.38" y2="2283.2" stroke="#FFFFFF" stroke-width="2.6"/>
<line x1="86.4" y1="1784.94" x2="403.70000000000005" y2="1784.94" stroke="#FFFFFF" stroke-width="2.6"/>
<line x1="391.30" y1="1597.7" x2="391.30" y2="2283.2" stroke="#FFFFFF" stroke-width="2.6"/>
<line x1="86.4" y1="1628.85" x2="403.70000000000005" y2="1628.85" stroke="#FFFFFF" stroke-width="2.6"/>
<g fill="#000" stroke="#000"><circle cx="314.23" cy="1806.19" r="4.0"/><circle cx="258.91" cy="1894.76" r="4.0"/><circle cx="265.87" cy="1898.69" r="4.0"/><circle cx="266.47" cy="1908.37" r="4.0"/><circle cx="382.61" cy="1629.04" r="4.0"/><circle cx="379.08" cy="1629.75" r="4.0"/><circle cx="376.27" cy="1631.15" r="4.0"/><circle cx="364.30" cy="1633.97" r="4.0"/><circle cx="367.11" cy="1636.08" r="4.0"/><circle cx="369.93" cy="1640.31" r="4.0"/><circle cx="372.75" cy="1645.94" r="4.0"/><circle cx="368.52" cy="1643.83" r="4.0"/><circle cx="350.21" cy="1646.65" r="4.0"/><circle cx="357.25" cy="1653.69" r="4.0"/><circle cx="365.70" cy="1655.80" r="4.0"/><circle cx="360.07" cy="1661.44" r="4.0"/><circle cx="358.66" cy="1665.66" r="4.0"/><circle cx="379.79" cy="1658.62" r="4.0"/><circle cx="373.45" cy="1668.48" r="4.0"/><circle cx="344.58" cy="1664.96" r="4.0"/><circle cx="343.17" cy="1672.70" r="4.0"/><circle cx="350.92" cy="1676.93" r="4.0"/><circle cx="371.34" cy="1679.75" r="4.0"/><circle cx="374.86" cy="1685.38" r="4.0"/><circle cx="368.52" cy="1685.38" r="4.0"/><circle cx="353.03" cy="1687.49" r="4.0"/><circle cx="337.54" cy="1693.13" r="4.0"/><circle cx="343.17" cy="1697.35" r="4.0"/><circle cx="348.10" cy="1695.94" r="4.0"/><circle cx="360.07" cy="1697.35" r="4.0"/><circle cx="365.70" cy="1696.65" r="4.0"/><circle cx="368.52" cy="1700.17" r="4.0"/><circle cx="341.76" cy="1710.73" r="4.0"/><circle cx="352.32" cy="1713.55" r="4.0"/><circle cx="361.48" cy="1714.96" r="4.0"/><circle cx="369.93" cy="1720.59" r="4.0"/><circle cx="325.56" cy="1725.52" r="4.0"/><circle cx="329.08" cy="1722.00" r="4.0"/><circle cx="334.72" cy="1722.70" r="4.0"/><circle cx="329.79" cy="1731.15" r="4.0"/><circle cx="346.69" cy="1726.93" r="4.0"/><circle cx="354.44" cy="1724.82" r="4.0"/><circle cx="360.07" cy="1727.63" r="4.0"/><circle cx="343.17" cy="1738.20" r="4.0"/><circle cx="354.44" cy="1736.79" r="4.0"/><circle cx="348.80" cy="1742.42" r="4.0"/><circle cx="339.65" cy="1750.87" r="4.0"/><circle cx="325.56" cy="1743.13" r="4.0"/><circle cx="330.49" cy="1759.32" r="4.0"/><circle cx="317.11" cy="1766.37" r="4.0"/><circle cx="330.49" cy="1769.18" r="4.0"/><circle cx="349.51" cy="1772.00" r="4.0"/><circle cx="371.34" cy="1636.08" r="4.0"/><circle cx="364.30" cy="1661.44" r="4.0"/><circle cx="362.89" cy="1692.42" r="4.0"/><circle cx="372.75" cy="1695.94" r="4.0"/><circle cx="358.66" cy="1720.59" r="4.0"/><circle cx="338.24" cy="1699.46" r="4.0"/></g>
<line x1="99.60" y1="2239.38" x2="385.27" y2="1631.76" stroke="#A6A6A6" stroke-width="4.2"/>
<text x="106.00" y="1824.60" font-size="23.4" fill="#000" stroke="#000">r^2=0.896</text>
</g></svg>
<svg x="419.70" y="1597.70" width="317.3" height="685.50" overflow="hidden"><g transform="translate(-419.70 -1597.70)">
<rect x="419.70" y="1597.70" width="317.3" height="685.50" fill="#EBEBEB"/>
<line x1="469.36" y1="1597.7" x2="469.36" y2="2283.2" stroke="#FAFAFA" stroke-width="1.8"/>
<line x1="419.70000000000005" y1="2175.16" x2="737.0" y2="2175.16" stroke="#FAFAFA" stroke-width="1.8"/>
<line x1="542.29" y1="1597.7" x2="542.29" y2="2283.2" stroke="#FAFAFA" stroke-width="1.8"/>
<line x1="419.70000000000005" y1="2019.07" x2="737.0" y2="2019.07" stroke="#FAFAFA" stroke-width="1.8"/>
<line x1="615.21" y1="1597.7" x2="615.21" y2="2283.2" stroke="#FAFAFA" stroke-width="1.8"/>
<line x1="419.70000000000005" y1="1862.98" x2="737.0" y2="1862.98" stroke="#FAFAFA" stroke-width="1.8"/>
<line x1="688.14" y1="1597.7" x2="688.14" y2="2283.2" stroke="#FAFAFA" stroke-width="1.8"/>
<line x1="419.70000000000005" y1="1706.89" x2="737.0" y2="1706.89" stroke="#FAFAFA" stroke-width="1.8"/>
<line x1="432.90" y1="1597.7" x2="432.90" y2="2283.2" stroke="#FFFFFF" stroke-width="2.6"/>
<line x1="419.70000000000005" y1="2253.20" x2="737.0" y2="2253.20" stroke="#FFFFFF" stroke-width="2.6"/>
<line x1="505.83" y1="1597.7" x2="505.83" y2="2283.2" stroke="#FFFFFF" stroke-width="2.6"/>
<line x1="419.70000000000005" y1="2097.11" x2="737.0" y2="2097.11" stroke="#FFFFFF" stroke-width="2.6"/>
<line x1="578.75" y1="1597.7" x2="578.75" y2="2283.2" stroke="#FFFFFF" stroke-width="2.6"/>
<line x1="419.70000000000005" y1="1941.02" x2="737.0" y2="1941.02" stroke="#FFFFFF" stroke-width="2.6"/>
<line x1="651.67" y1="1597.7" x2="651.67" y2="2283.2" stroke="#FFFFFF" stroke-width="2.6"/>
<line x1="419.70000000000005" y1="1784.94" x2="737.0" y2="1784.94" stroke="#FFFFFF" stroke-width="2.6"/>
<line x1="724.60" y1="1597.7" x2="724.60" y2="2283.2" stroke="#FFFFFF" stroke-width="2.6"/>
<line x1="419.70000000000005" y1="1628.85" x2="737.0" y2="1628.85" stroke="#FFFFFF" stroke-width="2.6"/>
<g fill="#000" stroke="#000"><circle cx="432.09" cy="2249.96" r="4.0"/><circle cx="522.18" cy="2054.07" r="4.0"/><circle cx="572.66" cy="2039.26" r="4.0"/><circle cx="555.13" cy="1962.78" r="4.0"/><circle cx="599.87" cy="1883.58" r="4.0"/><circle cx="608.94" cy="1894.76" r="4.0"/><circle cx="608.94" cy="1899.30" r="4.0"/><circle cx="618.00" cy="1875.11" r="4.0"/><circle cx="621.03" cy="1861.51" r="4.0"/><circle cx="635.24" cy="1881.16" r="4.0"/><circle cx="641.28" cy="1885.69" r="4.0"/><circle cx="635.24" cy="1846.40" r="4.0"/><circle cx="653.68" cy="1839.74" r="4.0"/><circle cx="626.47" cy="1826.75" r="4.0"/><circle cx="631.61" cy="1822.21" r="4.0"/><circle cx="650.35" cy="1820.70" r="4.0"/><circle cx="639.17" cy="1814.65" r="4.0"/><circle cx="637.65" cy="1804.07" r="4.0"/><circle cx="646.12" cy="1798.03" r="4.0"/><circle cx="669.40" cy="1806.19" r="4.0"/><circle cx="655.19" cy="1785.94" r="4.0"/><circle cx="670.91" cy="1774.75" r="4.0"/><circle cx="671.81" cy="1769.31" r="4.0"/><circle cx="670.91" cy="1755.71" r="4.0"/><circle cx="675.44" cy="1749.66" r="4.0"/><circle cx="677.86" cy="1739.08" r="4.0"/><circle cx="643.70" cy="1740.59" r="4.0"/><circle cx="648.23" cy="1753.59" r="4.0"/><circle cx="657.30" cy="1738.48" r="4.0"/><circle cx="658.21" cy="1749.66" r="4.0"/><circle cx="656.70" cy="1717.92" r="4.0"/><circle cx="658.81" cy="1726.99" r="4.0"/><circle cx="675.44" cy="1714.90" r="4.0"/><circle cx="679.98" cy="1730.01" r="4.0"/><circle cx="684.51" cy="1725.48" r="4.0"/><circle cx="689.04" cy="1726.99" r="4.0"/><circle cx="686.02" cy="1716.41" r="4.0"/><circle cx="683.00" cy="1720.94" r="4.0"/><circle cx="666.37" cy="1702.80" r="4.0"/><circle cx="675.44" cy="1699.78" r="4.0"/><circle cx="686.02" cy="1687.08" r="4.0"/><circle cx="687.53" cy="1684.67" r="4.0"/><circle cx="693.58" cy="1678.62" r="4.0"/><circle cx="666.37" cy="1668.95" r="4.0"/><circle cx="693.58" cy="1651.41" r="4.0"/><circle cx="693.58" cy="1655.95" r="4.0"/><circle cx="698.72" cy="1635.69" r="4.0"/><circle cx="715.65" cy="1631.76" r="4.0"/></g>
<line x1="448.72" y1="2243.92" x2="717.76" y2="1631.76" stroke="#A6A6A6" stroke-width="4.2"/>
<text x="439.30" y="1824.60" font-size="23.4" fill="#000" stroke="#000">r^2=0.951</text>
</g></svg>
<svg x="753.00" y="1597.70" width="317.3" height="685.50" overflow="hidden"><g transform="translate(-753.00 -1597.70)">
<rect x="753.00" y="1597.70" width="317.3" height="685.50" fill="#EBEBEB"/>
<line x1="802.66" y1="1597.7" x2="802.66" y2="2283.2" stroke="#FAFAFA" stroke-width="1.8"/>
<line x1="753.0" y1="2175.16" x2="1070.3" y2="2175.16" stroke="#FAFAFA" stroke-width="1.8"/>
<line x1="875.59" y1="1597.7" x2="875.59" y2="2283.2" stroke="#FAFAFA" stroke-width="1.8"/>
<line x1="753.0" y1="2019.07" x2="1070.3" y2="2019.07" stroke="#FAFAFA" stroke-width="1.8"/>
<line x1="948.51" y1="1597.7" x2="948.51" y2="2283.2" stroke="#FAFAFA" stroke-width="1.8"/>
<line x1="753.0" y1="1862.98" x2="1070.3" y2="1862.98" stroke="#FAFAFA" stroke-width="1.8"/>
<line x1="1021.44" y1="1597.7" x2="1021.44" y2="2283.2" stroke="#FAFAFA" stroke-width="1.8"/>
<line x1="753.0" y1="1706.89" x2="1070.3" y2="1706.89" stroke="#FAFAFA" stroke-width="1.8"/>
<line x1="766.20" y1="1597.7" x2="766.20" y2="2283.2" stroke="#FFFFFF" stroke-width="2.6"/>
<line x1="753.0" y1="2253.20" x2="1070.3" y2="2253.20" stroke="#FFFFFF" stroke-width="2.6"/>
<line x1="839.12" y1="1597.7" x2="839.12" y2="2283.2" stroke="#FFFFFF" stroke-width="2.6"/>
<line x1="753.0" y1="2097.11" x2="1070.3" y2="2097.11" stroke="#FFFFFF" stroke-width="2.6"/>
<line x1="912.05" y1="1597.7" x2="912.05" y2="2283.2" stroke="#FFFFFF" stroke-width="2.6"/>
<line x1="753.0" y1="1941.02" x2="1070.3" y2="1941.02" stroke="#FFFFFF" stroke-width="2.6"/>
<line x1="984.98" y1="1597.7" x2="984.98" y2="2283.2" stroke="#FFFFFF" stroke-width="2.6"/>
<line x1="753.0" y1="1784.94" x2="1070.3" y2="1784.94" stroke="#FFFFFF" stroke-width="2.6"/>
<line x1="1057.90" y1="1597.7" x2="1057.90" y2="2283.2" stroke="#FFFFFF" stroke-width="2.6"/>
<line x1="753.0" y1="1628.85" x2="1070.3" y2="1628.85" stroke="#FFFFFF" stroke-width="2.6"/>
<g fill="#000" stroke="#000"><circle cx="899.01" cy="2078.26" r="4.0"/><circle cx="860.32" cy="2021.12" r="4.0"/><circle cx="919.26" cy="1903.83" r="4.0"/><circle cx="961.59" cy="1914.41" r="4.0"/><circle cx="933.77" cy="1883.58" r="4.0"/><circle cx="931.96" cy="1866.95" r="4.0"/><circle cx="946.47" cy="1856.98" r="4.0"/><circle cx="967.03" cy="1852.44" r="4.0"/><circle cx="902.64" cy="1850.93" r="4.0"/><circle cx="901.13" cy="1823.12" r="4.0"/><circle cx="948.89" cy="1829.16" r="4.0"/><circle cx="936.80" cy="1817.68" r="4.0"/><circle cx="941.94" cy="1785.94" r="4.0"/><circle cx="963.10" cy="1785.94" r="4.0"/><circle cx="951.91" cy="1795.61" r="4.0"/><circle cx="965.52" cy="1797.12" r="4.0"/><circle cx="952.52" cy="1765.68" r="4.0"/><circle cx="970.05" cy="1771.73" r="4.0"/><circle cx="991.81" cy="1762.66" r="4.0"/><circle cx="999.67" cy="1769.31" r="4.0"/><circle cx="946.47" cy="1741.50" r="4.0"/><circle cx="949.49" cy="1736.06" r="4.0"/><circle cx="954.03" cy="1734.55" r="4.0"/><circle cx="971.56" cy="1743.61" r="4.0"/><circle cx="935.89" cy="1723.36" r="4.0"/><circle cx="961.59" cy="1713.38" r="4.0"/><circle cx="964.61" cy="1720.94" r="4.0"/><circle cx="969.14" cy="1717.92" r="4.0"/><circle cx="967.63" cy="1723.36" r="4.0"/><circle cx="982.75" cy="1728.50" r="4.0"/><circle cx="997.86" cy="1726.99" r="4.0"/><circle cx="960.07" cy="1695.25" r="4.0"/><circle cx="983.35" cy="1698.27" r="4.0"/><circle cx="1021.44" cy="1695.85" r="4.0"/><circle cx="989.70" cy="1668.04" r="4.0"/><circle cx="995.74" cy="1677.11" r="4.0"/><circle cx="1004.81" cy="1670.46" r="4.0"/><circle cx="1040.18" cy="1674.99" r="4.0"/><circle cx="985.16" cy="1652.93" r="4.0"/><circle cx="1000.88" cy="1648.39" r="4.0"/><circle cx="1009.95" cy="1655.95" r="4.0"/><circle cx="1016.00" cy="1651.41" r="4.0"/><circle cx="1020.53" cy="1652.93" r="4.0"/><circle cx="991.81" cy="1635.69" r="4.0"/><circle cx="997.86" cy="1636.30" r="4.0"/><circle cx="1003.91" cy="1637.81" r="4.0"/><circle cx="1011.46" cy="1636.30" r="4.0"/><circle cx="1008.44" cy="1642.34" r="4.0"/><circle cx="1012.98" cy="1645.37" r="4.0"/><circle cx="1017.51" cy="1642.34" r="4.0"/><circle cx="1023.56" cy="1643.86" r="4.0"/><circle cx="1028.09" cy="1630.86" r="4.0"/><circle cx="1031.11" cy="1633.28" r="4.0"/><circle cx="1035.65" cy="1634.79" r="4.0"/><circle cx="1043.21" cy="1630.25" r="4.0"/><circle cx="1047.74" cy="1631.76" r="4.0"/><circle cx="1052.27" cy="1630.25" r="4.0"/><circle cx="1056.81" cy="1633.28" r="4.0"/><circle cx="1055.30" cy="1637.81" r="4.0"/><circle cx="1056.81" cy="1643.86" r="4.0"/><circle cx="1055.30" cy="1630.25" r="4.0"/><circle cx="1009.95" cy="1648.39" r="4.0"/><circle cx="1019.02" cy="1639.32" r="4.0"/></g>
<line x1="766.60" y1="2109.39" x2="1040.18" y2="1631.76" stroke="#A6A6A6" stroke-width="4.2"/>
<text x="772.60" y="1824.60" font-size="23.4" fill="#000" stroke="#000">r^2=0.858</text>
</g></svg>
<svg x="1086.30" y="1597.70" width="317.3" height="685.50" overflow="hidden"><g transform="translate(-1086.30 -1597.70)">
<rect x="1086.30" y="1597.70" width="317.3" height="685.50" fill="#EBEBEB"/>
<line x1="1135.96" y1="1597.7" x2="1135.96" y2="2283.2" stroke="#FAFAFA" stroke-width="1.8"/>
<line x1="1086.3000000000002" y1="2175.16" x2="1403.6000000000001" y2="2175.16" stroke="#FAFAFA" stroke-width="1.8"/>
<line x1="1208.89" y1="1597.7" x2="1208.89" y2="2283.2" stroke="#FAFAFA" stroke-width="1.8"/>
<line x1="1086.3000000000002" y1="2019.07" x2="1403.6000000000001" y2="2019.07" stroke="#FAFAFA" stroke-width="1.8"/>
<line x1="1281.81" y1="1597.7" x2="1281.81" y2="2283.2" stroke="#FAFAFA" stroke-width="1.8"/>
<line x1="1086.3000000000002" y1="1862.98" x2="1403.6000000000001" y2="1862.98" stroke="#FAFAFA" stroke-width="1.8"/>
<line x1="1354.74" y1="1597.7" x2="1354.74" y2="2283.2" stroke="#FAFAFA" stroke-width="1.8"/>
<line x1="1086.3000000000002" y1="1706.89" x2="1403.6000000000001" y2="1706.89" stroke="#FAFAFA" stroke-width="1.8"/>
<line x1="1099.50" y1="1597.7" x2="1099.50" y2="2283.2" stroke="#FFFFFF" stroke-width="2.6"/>
<line x1="1086.3000000000002" y1="2253.20" x2="1403.6000000000001" y2="2253.20" stroke="#FFFFFF" stroke-width="2.6"/>
<line x1="1172.43" y1="1597.7" x2="1172.43" y2="2283.2" stroke="#FFFFFF" stroke-width="2.6"/>
<line x1="1086.3000000000002" y1="2097.11" x2="1403.6000000000001" y2="2097.11" stroke="#FFFFFF" stroke-width="2.6"/>
<line x1="1245.35" y1="1597.7" x2="1245.35" y2="2283.2" stroke="#FFFFFF" stroke-width="2.6"/>
<line x1="1086.3000000000002" y1="1941.02" x2="1403.6000000000001" y2="1941.02" stroke="#FFFFFF" stroke-width="2.6"/>
<line x1="1318.28" y1="1597.7" x2="1318.28" y2="2283.2" stroke="#FFFFFF" stroke-width="2.6"/>
<line x1="1086.3000000000002" y1="1784.94" x2="1403.6000000000001" y2="1784.94" stroke="#FFFFFF" stroke-width="2.6"/>
<line x1="1391.20" y1="1597.7" x2="1391.20" y2="2283.2" stroke="#FFFFFF" stroke-width="2.6"/>
<line x1="1086.3000000000002" y1="1628.85" x2="1403.6000000000001" y2="1628.85" stroke="#FFFFFF" stroke-width="2.6"/>
<g fill="#000" stroke="#000"><circle cx="1111.70" cy="2248.45" r="4.0"/><circle cx="1117.74" cy="2251.47" r="4.0"/><circle cx="1161.57" cy="2239.38" r="4.0"/><circle cx="1181.22" cy="2147.79" r="4.0"/><circle cx="1187.27" cy="2147.18" r="4.0"/><circle cx="1183.34" cy="2043.80" r="4.0"/><circle cx="1197.25" cy="2038.35" r="4.0"/><circle cx="1202.38" cy="2030.80" r="4.0"/><circle cx="1179.71" cy="2020.22" r="4.0"/><circle cx="1181.22" cy="2023.24" r="4.0"/><circle cx="1173.06" cy="2014.17" r="4.0"/><circle cx="1165.20" cy="2007.22" r="4.0"/><circle cx="1188.78" cy="2015.68" r="4.0"/><circle cx="1207.52" cy="2015.68" r="4.0"/><circle cx="1191.20" cy="1987.87" r="4.0"/><circle cx="1216.89" cy="1992.41" r="4.0"/><circle cx="1189.39" cy="1935.57" r="4.0"/><circle cx="1204.80" cy="1947.67" r="4.0"/><circle cx="1211.45" cy="1941.62" r="4.0"/><circle cx="1223.55" cy="1947.67" r="4.0"/><circle cx="1225.66" cy="1956.73" r="4.0"/><circle cx="1232.61" cy="1936.48" r="4.0"/><circle cx="1243.19" cy="1959.76" r="4.0"/><circle cx="1246.22" cy="1925.90" r="4.0"/><circle cx="1262.84" cy="1946.76" r="4.0"/><circle cx="1200.27" cy="1913.20" r="4.0"/><circle cx="1224.45" cy="1894.76" r="4.0"/><circle cx="1226.57" cy="1902.32" r="4.0"/><circle cx="1232.61" cy="1895.67" r="4.0"/><circle cx="1284.00" cy="1899.90" r="4.0"/><circle cx="1228.08" cy="1864.53" r="4.0"/><circle cx="1232.61" cy="1876.63" r="4.0"/><circle cx="1238.66" cy="1870.58" r="4.0"/><circle cx="1243.19" cy="1881.16" r="4.0"/><circle cx="1237.15" cy="1850.33" r="4.0"/><circle cx="1249.85" cy="1847.30" r="4.0"/><circle cx="1252.87" cy="1836.72" r="4.0"/><circle cx="1269.49" cy="1847.30" r="4.0"/><circle cx="1271.91" cy="1825.23" r="4.0"/><circle cx="1277.35" cy="1818.28" r="4.0"/><circle cx="1233.52" cy="1811.63" r="4.0"/><circle cx="1263.75" cy="1795.00" r="4.0"/><circle cx="1268.89" cy="1792.89" r="4.0"/><circle cx="1261.94" cy="1742.10" r="4.0"/><circle cx="1290.96" cy="1711.87" r="4.0"/><circle cx="1309.10" cy="1726.99" r="4.0"/><circle cx="1274.94" cy="1686.18" r="4.0"/><circle cx="1280.07" cy="1677.11" r="4.0"/><circle cx="1290.66" cy="1668.95" r="4.0"/><circle cx="1295.19" cy="1687.69" r="4.0"/><circle cx="1312.12" cy="1666.53" r="4.0"/><circle cx="1315.75" cy="1672.57" r="4.0"/><circle cx="1309.70" cy="1640.83" r="4.0"/><circle cx="1336.91" cy="1651.41" r="4.0"/><circle cx="1341.44" cy="1646.88" r="4.0"/><circle cx="1354.44" cy="1646.27" r="4.0"/><circle cx="1366.53" cy="1631.76" r="4.0"/><circle cx="1371.67" cy="1630.86" r="4.0"/><circle cx="1375.60" cy="1633.28" r="4.0"/><circle cx="1379.23" cy="1635.69" r="4.0"/></g>
<line x1="1099.60" y1="2243.92" x2="1342.35" y2="1630.25" stroke="#A6A6A6" stroke-width="4.2"/>
<text x="1105.90" y="1824.60" font-size="23.4" fill="#000" stroke="#000">r^2=0.927</text>
</g></svg>
<svg x="1419.60" y="1597.70" width="317.3" height="685.50" overflow="hidden"><g transform="translate(-1419.60 -1597.70)">
<rect x="1419.60" y="1597.70" width="317.3" height="685.50" fill="#EBEBEB"/>
<line x1="1469.26" y1="1597.7" x2="1469.26" y2="2283.2" stroke="#FAFAFA" stroke-width="1.8"/>
<line x1="1419.6000000000001" y1="2175.16" x2="1736.9" y2="2175.16" stroke="#FAFAFA" stroke-width="1.8"/>
<line x1="1542.19" y1="1597.7" x2="1542.19" y2="2283.2" stroke="#FAFAFA" stroke-width="1.8"/>
<line x1="1419.6000000000001" y1="2019.07" x2="1736.9" y2="2019.07" stroke="#FAFAFA" stroke-width="1.8"/>
<line x1="1615.11" y1="1597.7" x2="1615.11" y2="2283.2" stroke="#FAFAFA" stroke-width="1.8"/>
<line x1="1419.6000000000001" y1="1862.98" x2="1736.9" y2="1862.98" stroke="#FAFAFA" stroke-width="1.8"/>
<line x1="1688.04" y1="1597.7" x2="1688.04" y2="2283.2" stroke="#FAFAFA" stroke-width="1.8"/>
<line x1="1419.6000000000001" y1="1706.89" x2="1736.9" y2="1706.89" stroke="#FAFAFA" stroke-width="1.8"/>
<line x1="1432.80" y1="1597.7" x2="1432.80" y2="2283.2" stroke="#FFFFFF" stroke-width="2.6"/>
<line x1="1419.6000000000001" y1="2253.20" x2="1736.9" y2="2253.20" stroke="#FFFFFF" stroke-width="2.6"/>
<line x1="1505.73" y1="1597.7" x2="1505.73" y2="2283.2" stroke="#FFFFFF" stroke-width="2.6"/>
<line x1="1419.6000000000001" y1="2097.11" x2="1736.9" y2="2097.11" stroke="#FFFFFF" stroke-width="2.6"/>
<line x1="1578.65" y1="1597.7" x2="1578.65" y2="2283.2" stroke="#FFFFFF" stroke-width="2.6"/>
<line x1="1419.6000000000001" y1="1941.02" x2="1736.9" y2="1941.02" stroke="#FFFFFF" stroke-width="2.6"/>
<line x1="1651.58" y1="1597.7" x2="1651.58" y2="2283.2" stroke="#FFFFFF" stroke-width="2.6"/>
<line x1="1419.6000000000001" y1="1784.94" x2="1736.9" y2="1784.94" stroke="#FFFFFF" stroke-width="2.6"/>
<line x1="1724.50" y1="1597.7" x2="1724.50" y2="2283.2" stroke="#FFFFFF" stroke-width="2.6"/>
<line x1="1419.6000000000001" y1="1628.85" x2="1736.9" y2="1628.85" stroke="#FFFFFF" stroke-width="2.6"/>
<g fill="#000" stroke="#000"><circle cx="1446.21" cy="2246.94" r="4.0"/><circle cx="1450.74" cy="2248.45" r="4.0"/><circle cx="1454.67" cy="2248.45" r="4.0"/><circle cx="1470.39" cy="2240.89" r="4.0"/><circle cx="1473.41" cy="2246.94" r="4.0"/><circle cx="1471.90" cy="2249.96" r="4.0"/><circle cx="1477.95" cy="2240.89" r="4.0"/><circle cx="1487.02" cy="2245.43" r="4.0"/><circle cx="1490.04" cy="2233.34" r="4.0"/><circle cx="1465.86" cy="2227.29" r="4.0"/><circle cx="1500.62" cy="2219.73" r="4.0"/><circle cx="1510.29" cy="2225.78" r="4.0"/><circle cx="1518.76" cy="2236.36" r="4.0"/><circle cx="1467.97" cy="2194.04" r="4.0"/><circle cx="1479.46" cy="2198.57" r="4.0"/><circle cx="1480.97" cy="2204.62" r="4.0"/><circle cx="1483.99" cy="2206.13" r="4.0"/><circle cx="1489.13" cy="2207.64" r="4.0"/><circle cx="1498.20" cy="2178.92" r="4.0"/><circle cx="1505.15" cy="2172.88" r="4.0"/><circle cx="1506.67" cy="2169.85" r="4.0"/><circle cx="1517.25" cy="2183.46" r="4.0"/><circle cx="1524.80" cy="2181.95" r="4.0"/><circle cx="1466.76" cy="2157.76" r="4.0"/><circle cx="1474.02" cy="2166.83" r="4.0"/><circle cx="1480.97" cy="2160.78" r="4.0"/><circle cx="1496.09" cy="2150.20" r="4.0"/><circle cx="1500.62" cy="2157.76" r="4.0"/><circle cx="1505.15" cy="2156.25" r="4.0"/><circle cx="1508.18" cy="2153.23" r="4.0"/><circle cx="1509.69" cy="2157.76" r="4.0"/><circle cx="1506.67" cy="2144.16" r="4.0"/><circle cx="1499.11" cy="2138.11" r="4.0"/><circle cx="1501.22" cy="2135.09" r="4.0"/><circle cx="1518.76" cy="2136.60" r="4.0"/><circle cx="1498.20" cy="2135.09" r="4.0"/><circle cx="1479.46" cy="2115.44" r="4.0"/><circle cx="1503.64" cy="2121.49" r="4.0"/><circle cx="1506.67" cy="2118.46" r="4.0"/><circle cx="1498.20" cy="2104.86" r="4.0"/><circle cx="1511.20" cy="2100.33" r="4.0"/><circle cx="1509.08" cy="2092.77" r="4.0"/><circle cx="1545.36" cy="2100.33" r="4.0"/><circle cx="1548.99" cy="2085.21" r="4.0"/><circle cx="1515.74" cy="2090.35" r="4.0"/><circle cx="1521.78" cy="2089.74" r="4.0"/><circle cx="1526.32" cy="2089.74" r="4.0"/><circle cx="1500.62" cy="2082.19" r="4.0"/><circle cx="1506.67" cy="2082.19" r="4.0"/><circle cx="1490.64" cy="2054.98" r="4.0"/><circle cx="1498.20" cy="2059.52" r="4.0"/><circle cx="1505.15" cy="2064.05" r="4.0"/><circle cx="1508.18" cy="2056.49" r="4.0"/><circle cx="1514.22" cy="2059.52" r="4.0"/><circle cx="1521.78" cy="2064.05" r="4.0"/><circle cx="1509.69" cy="2042.89" r="4.0"/><circle cx="1536.90" cy="2047.42" r="4.0"/><circle cx="1499.11" cy="2026.26" r="4.0"/><circle cx="1509.08" cy="2017.19" r="4.0"/><circle cx="1524.80" cy="2027.77" r="4.0"/><circle cx="1527.22" cy="2024.75" r="4.0"/><circle cx="1542.94" cy="2026.26" r="4.0"/><circle cx="1499.11" cy="2008.12" r="4.0"/><circle cx="1500.62" cy="2014.17" r="4.0"/><circle cx="1512.71" cy="2008.12" r="4.0"/><circle cx="1515.74" cy="2002.08" r="4.0"/><circle cx="1518.76" cy="1999.06" r="4.0"/><circle cx="1522.39" cy="1997.54" r="4.0"/><circle cx="1509.08" cy="1989.99" r="4.0"/><circle cx="1535.38" cy="1994.52" r="4.0"/><circle cx="1536.90" cy="2002.08" r="4.0"/><circle cx="1561.68" cy="1997.54" r="4.0"/><circle cx="1522.39" cy="1950.69" r="4.0"/><circle cx="1522.39" cy="1956.73" r="4.0"/><circle cx="1539.92" cy="1958.25" r="4.0"/><circle cx="1547.48" cy="1952.20" r="4.0"/><circle cx="1550.50" cy="1956.73" r="4.0"/><circle cx="1552.01" cy="1968.83" r="4.0"/><circle cx="1545.36" cy="1983.94" r="4.0"/><circle cx="1538.41" cy="1934.06" r="4.0"/><circle cx="1542.94" cy="1931.04" r="4.0"/><circle cx="1514.22" cy="1923.48" r="4.0"/><circle cx="1552.01" cy="1884.18" r="4.0"/><circle cx="1579.22" cy="1852.44" r="4.0"/><circle cx="1600.38" cy="1866.04" r="4.0"/><circle cx="1582.24" cy="1891.74" r="4.0"/><circle cx="1599.77" cy="1914.41" r="4.0"/></g>
<line x1="1454.67" y1="2245.43" x2="1672.33" y2="1636.30" stroke="#A6A6A6" stroke-width="4.2"/>
<text x="1439.20" y="1824.60" font-size="23.4" fill="#000" stroke="#000">r^2=0.796</text>
</g></svg>
<svg x="1752.90" y="1597.70" width="317.3" height="685.50" overflow="hidden"><g transform="translate(-1752.90 -1597.70)">
<rect x="1752.90" y="1597.70" width="317.3" height="685.50" fill="#EBEBEB"/>
<line x1="1802.56" y1="1597.7" x2="1802.56" y2="2283.2" stroke="#FAFAFA" stroke-width="1.8"/>
<line x1="1752.9" y1="2175.16" x2="2070.2000000000003" y2="2175.16" stroke="#FAFAFA" stroke-width="1.8"/>
<line x1="1875.49" y1="1597.7" x2="1875.49" y2="2283.2" stroke="#FAFAFA" stroke-width="1.8"/>
<line x1="1752.9" y1="2019.07" x2="2070.2000000000003" y2="2019.07" stroke="#FAFAFA" stroke-width="1.8"/>
<line x1="1948.41" y1="1597.7" x2="1948.41" y2="2283.2" stroke="#FAFAFA" stroke-width="1.8"/>
<line x1="1752.9" y1="1862.98" x2="2070.2000000000003" y2="1862.98" stroke="#FAFAFA" stroke-width="1.8"/>
<line x1="2021.34" y1="1597.7" x2="2021.34" y2="2283.2" stroke="#FAFAFA" stroke-width="1.8"/>
<line x1="1752.9" y1="1706.89" x2="2070.2000000000003" y2="1706.89" stroke="#FAFAFA" stroke-width="1.8"/>
<line x1="1766.10" y1="1597.7" x2="1766.10" y2="2283.2" stroke="#FFFFFF" stroke-width="2.6"/>
<line x1="1752.9" y1="2253.20" x2="2070.2000000000003" y2="2253.20" stroke="#FFFFFF" stroke-width="2.6"/>
<line x1="1839.03" y1="1597.7" x2="1839.03" y2="2283.2" stroke="#FFFFFF" stroke-width="2.6"/>
<line x1="1752.9" y1="2097.11" x2="2070.2000000000003" y2="2097.11" stroke="#FFFFFF" stroke-width="2.6"/>
<line x1="1911.95" y1="1597.7" x2="1911.95" y2="2283.2" stroke="#FFFFFF" stroke-width="2.6"/>
<line x1="1752.9" y1="1941.02" x2="2070.2000000000003" y2="1941.02" stroke="#FFFFFF" stroke-width="2.6"/>
<line x1="1984.88" y1="1597.7" x2="1984.88" y2="2283.2" stroke="#FFFFFF" stroke-width="2.6"/>
<line x1="1752.9" y1="1784.94" x2="2070.2000000000003" y2="1784.94" stroke="#FFFFFF" stroke-width="2.6"/>
<line x1="2057.80" y1="1597.7" x2="2057.80" y2="2283.2" stroke="#FFFFFF" stroke-width="2.6"/>
<line x1="1752.9" y1="1628.85" x2="2070.2000000000003" y2="1628.85" stroke="#FFFFFF" stroke-width="2.6"/>
<g fill="#000" stroke="#000"><circle cx="1830.60" cy="1963.38" r="4.0"/><circle cx="1802.79" cy="2021.73" r="4.0"/><circle cx="1813.06" cy="2013.57" r="4.0"/><circle cx="1839.67" cy="2015.08" r="4.0"/><circle cx="1821.53" cy="2036.84" r="4.0"/><circle cx="1808.83" cy="2052.86" r="4.0"/><circle cx="1808.83" cy="2063.44" r="4.0"/><circle cx="1825.16" cy="2077.65" r="4.0"/><circle cx="1824.55" cy="2089.74" r="4.0"/><circle cx="1806.41" cy="2092.77" r="4.0"/><circle cx="1812.46" cy="2098.81" r="4.0"/><circle cx="1801.88" cy="2107.88" r="4.0"/><circle cx="1806.41" cy="2110.91" r="4.0"/><circle cx="1815.48" cy="2109.39" r="4.0"/><circle cx="1818.51" cy="2116.95" r="4.0"/><circle cx="1800.37" cy="2121.49" r="4.0"/><circle cx="1810.95" cy="2119.97" r="4.0"/><circle cx="1816.99" cy="2127.53" r="4.0"/><circle cx="1797.34" cy="2129.04" r="4.0"/><circle cx="1800.37" cy="2132.07" r="4.0"/><circle cx="1832.11" cy="2129.04" r="4.0"/><circle cx="1826.06" cy="2126.02" r="4.0"/><circle cx="1815.48" cy="2138.11" r="4.0"/><circle cx="1810.95" cy="2141.14" r="4.0"/><circle cx="1824.55" cy="2141.14" r="4.0"/><circle cx="1801.88" cy="2147.18" r="4.0"/><circle cx="1807.93" cy="2151.72" r="4.0"/><circle cx="1804.90" cy="2159.27" r="4.0"/><circle cx="1789.79" cy="2159.27" r="4.0"/><circle cx="1832.11" cy="2156.25" r="4.0"/><circle cx="1806.41" cy="2165.32" r="4.0"/><circle cx="1813.97" cy="2174.39" r="4.0"/><circle cx="1797.34" cy="2180.43" r="4.0"/><circle cx="1815.48" cy="2186.48" r="4.0"/><circle cx="1794.32" cy="2194.04" r="4.0"/><circle cx="1803.39" cy="2194.04" r="4.0"/><circle cx="1782.23" cy="2201.59" r="4.0"/><circle cx="1806.41" cy="2204.62" r="4.0"/><circle cx="1810.95" cy="2201.59" r="4.0"/><circle cx="1820.02" cy="2201.59" r="4.0"/><circle cx="1797.34" cy="2207.64" r="4.0"/><circle cx="1812.46" cy="2210.66" r="4.0"/><circle cx="1804.90" cy="2216.71" r="4.0"/><circle cx="1810.95" cy="2219.73" r="4.0"/><circle cx="1820.02" cy="2216.71" r="4.0"/><circle cx="1823.04" cy="2221.24" r="4.0"/><circle cx="1785.25" cy="2222.76" r="4.0"/><circle cx="1794.32" cy="2224.27" r="4.0"/><circle cx="1800.37" cy="2227.29" r="4.0"/><circle cx="1807.93" cy="2228.80" r="4.0"/><circle cx="1813.97" cy="2227.29" r="4.0"/><circle cx="1823.04" cy="2227.29" r="4.0"/><circle cx="1788.28" cy="2231.82" r="4.0"/><circle cx="1797.34" cy="2234.85" r="4.0"/><circle cx="1803.39" cy="2234.85" r="4.0"/><circle cx="1810.95" cy="2237.87" r="4.0"/><circle cx="1816.99" cy="2234.85" r="4.0"/><circle cx="1823.04" cy="2234.85" r="4.0"/><circle cx="1780.72" cy="2239.38" r="4.0"/><circle cx="1791.30" cy="2242.41" r="4.0"/><circle cx="1800.37" cy="2243.92" r="4.0"/><circle cx="1806.41" cy="2243.92" r="4.0"/><circle cx="1812.46" cy="2243.92" r="4.0"/><circle cx="1820.02" cy="2242.41" r="4.0"/><circle cx="1791.30" cy="2248.45" r="4.0"/><circle cx="1803.39" cy="2246.94" r="4.0"/><circle cx="1810.95" cy="2248.45" r="4.0"/><circle cx="1797.34" cy="2240.89" r="4.0"/><circle cx="1786.76" cy="2237.87" r="4.0"/><circle cx="1794.32" cy="2245.43" r="4.0"/><circle cx="1805.93" cy="2092.99" r="4.0"/><circle cx="1811.92" cy="2094.49" r="4.0"/><circle cx="1825.39" cy="2092.99" r="4.0"/><circle cx="1814.91" cy="2099.73" r="4.0"/><circle cx="1807.43" cy="2104.22" r="4.0"/><circle cx="1801.44" cy="2108.71" r="4.0"/><circle cx="1811.92" cy="2109.46" r="4.0"/><circle cx="1817.90" cy="2112.46" r="4.0"/><circle cx="1819.40" cy="2119.94" r="4.0"/><circle cx="1814.91" cy="2123.68" r="4.0"/><circle cx="1801.44" cy="2118.44" r="4.0"/><circle cx="1807.43" cy="2121.44" r="4.0"/><circle cx="1798.44" cy="2128.17" r="4.0"/><circle cx="1801.44" cy="2130.42" r="4.0"/><circle cx="1832.87" cy="2119.19" r="4.0"/><circle cx="1831.38" cy="2128.17" r="4.0"/><circle cx="1816.41" cy="2135.66" r="4.0"/><circle cx="1811.92" cy="2142.40" r="4.0"/><circle cx="1801.44" cy="2146.89" r="4.0"/><circle cx="1807.43" cy="2149.13" r="4.0"/><circle cx="1805.93" cy="2155.87" r="4.0"/><circle cx="1796.95" cy="2160.36" r="4.0"/><circle cx="1789.46" cy="2162.60" r="4.0"/><circle cx="1803.68" cy="2164.85" r="4.0"/><circle cx="1802.93" cy="2171.59" r="4.0"/><circle cx="1823.89" cy="2139.40" r="4.0"/><circle cx="1823.89" cy="2145.39" r="4.0"/><circle cx="1832.87" cy="2156.62" r="4.0"/><circle cx="1814.16" cy="2176.08" r="4.0"/><circle cx="1796.20" cy="2180.57" r="4.0"/><circle cx="1814.91" cy="2187.31" r="4.0"/><circle cx="1793.95" cy="2194.04" r="4.0"/><circle cx="1805.18" cy="2194.79" r="4.0"/><circle cx="1782.72" cy="2202.28" r="4.0"/><circle cx="1801.44" cy="2204.52" r="4.0"/><circle cx="1809.67" cy="2204.52" r="4.0"/><circle cx="1820.15" cy="2203.02" r="4.0"/><circle cx="1813.41" cy="2209.01" r="4.0"/><circle cx="1807.43" cy="2217.25" r="4.0"/><circle cx="1811.92" cy="2220.99" r="4.0"/><circle cx="1820.90" cy="2217.25" r="4.0"/><circle cx="1822.40" cy="2221.74" r="4.0"/><circle cx="1796.20" cy="2221.74" r="4.0"/><circle cx="1784.22" cy="2224.73" r="4.0"/><circle cx="1791.71" cy="2230.72" r="4.0"/><circle cx="1799.94" cy="2228.47" r="4.0"/><circle cx="1803.68" cy="2232.22" r="4.0"/><circle cx="1781.23" cy="2238.95" r="4.0"/><circle cx="1788.71" cy="2241.20" r="4.0"/><circle cx="1796.20" cy="2239.70" r="4.0"/><circle cx="1801.44" cy="2243.44" r="4.0"/><circle cx="1808.17" cy="2239.70" r="4.0"/><circle cx="1814.91" cy="2239.70" r="4.0"/><circle cx="1822.40" cy="2233.71" r="4.0"/><circle cx="1818.65" cy="2244.19" r="4.0"/><circle cx="1790.96" cy="2248.68" r="4.0"/><circle cx="1799.94" cy="2247.93" r="4.0"/><circle cx="1811.17" cy="2247.19" r="4.0"/><circle cx="1805.93" cy="2236.71" r="4.0"/></g>
<line x1="1783.74" y1="2237.87" x2="2016.51" y2="1636.30" stroke="#A6A6A6" stroke-width="4.2"/>
<text x="1772.50" y="1824.60" font-size="23.4" fill="#000" stroke="#000">r^2=0.466</text>
</g></svg>
<rect x="35.2" y="1597.70" width="42.4" height="685.50" fill="#D9D9D9"/>
<text transform="translate(64.8 1937.60) rotate(-90)" font-size="25.0" text-anchor="middle" fill="#1A1A1A" stroke="#1A1A1A">AFR / AMR</text>
<line x1="2070.2" y1="2253.20" x2="2078" y2="2253.20" stroke="#333" stroke-width="2.6"/>
<text x="2086" y="2263.40" font-size="22.8" fill="#4D4D4D" stroke="#4D4D4D">0%</text>
<line x1="2070.2" y1="2097.11" x2="2078" y2="2097.11" stroke="#333" stroke-width="2.6"/>
<text x="2086" y="2107.31" font-size="22.8" fill="#4D4D4D" stroke="#4D4D4D">25%</text>
<line x1="2070.2" y1="1941.02" x2="2078" y2="1941.02" stroke="#333" stroke-width="2.6"/>
<text x="2086" y="1951.22" font-size="22.8" fill="#4D4D4D" stroke="#4D4D4D">50%</text>
<line x1="2070.2" y1="1784.94" x2="2078" y2="1784.94" stroke="#333" stroke-width="2.6"/>
<text x="2086" y="1795.14" font-size="22.8" fill="#4D4D4D" stroke="#4D4D4D">75%</text>
<line x1="2070.2" y1="1628.85" x2="2078" y2="1628.85" stroke="#333" stroke-width="2.6"/>
<text x="2086" y="1639.05" font-size="22.8" fill="#4D4D4D" stroke="#4D4D4D">100%</text>
<svg x="86.40" y="2299.00" width="317.3" height="685.50" overflow="hidden"><g transform="translate(-86.40 -2299.00)">
<rect x="86.40" y="2299.00" width="317.3" height="685.50" fill="#EBEBEB"/>
<line x1="136.06" y1="2299.0" x2="136.06" y2="2984.5" stroke="#FAFAFA" stroke-width="1.8"/>
<line x1="86.4" y1="2875.96" x2="403.70000000000005" y2="2875.96" stroke="#FAFAFA" stroke-width="1.8"/>
<line x1="208.99" y1="2299.0" x2="208.99" y2="2984.5" stroke="#FAFAFA" stroke-width="1.8"/>
<line x1="86.4" y1="2719.87" x2="403.70000000000005" y2="2719.87" stroke="#FAFAFA" stroke-width="1.8"/>
<line x1="281.91" y1="2299.0" x2="281.91" y2="2984.5" stroke="#FAFAFA" stroke-width="1.8"/>
<line x1="86.4" y1="2563.78" x2="403.70000000000005" y2="2563.78" stroke="#FAFAFA" stroke-width="1.8"/>
<line x1="354.84" y1="2299.0" x2="354.84" y2="2984.5" stroke="#FAFAFA" stroke-width="1.8"/>
<line x1="86.4" y1="2407.69" x2="403.70000000000005" y2="2407.69" stroke="#FAFAFA" stroke-width="1.8"/>
<line x1="99.60" y1="2299.0" x2="99.60" y2="2984.5" stroke="#FFFFFF" stroke-width="2.6"/>
<line x1="86.4" y1="2954.00" x2="403.70000000000005" y2="2954.00" stroke="#FFFFFF" stroke-width="2.6"/>
<line x1="172.53" y1="2299.0" x2="172.53" y2="2984.5" stroke="#FFFFFF" stroke-width="2.6"/>
<line x1="86.4" y1="2797.91" x2="403.70000000000005" y2="2797.91" stroke="#FFFFFF" stroke-width="2.6"/>
<line x1="245.45" y1="2299.0" x2="245.45" y2="2984.5" stroke="#FFFFFF" stroke-width="2.6"/>
<line x1="86.4" y1="2641.82" x2="403.70000000000005" y2="2641.82" stroke="#FFFFFF" stroke-width="2.6"/>
<line x1="318.38" y1="2299.0" x2="318.38" y2="2984.5" stroke="#FFFFFF" stroke-width="2.6"/>
<line x1="86.4" y1="2485.74" x2="403.70000000000005" y2="2485.74" stroke="#FFFFFF" stroke-width="2.6"/>
<line x1="391.30" y1="2299.0" x2="391.30" y2="2984.5" stroke="#FFFFFF" stroke-width="2.6"/>
<line x1="86.4" y1="2329.65" x2="403.70000000000005" y2="2329.65" stroke="#FFFFFF" stroke-width="2.6"/>
<g fill="#000" stroke="#000"><circle cx="223.55" cy="2677.38" r="4.0"/><circle cx="227.48" cy="2690.38" r="4.0"/><circle cx="175.18" cy="2777.14" r="4.0"/><circle cx="169.13" cy="2805.86" r="4.0"/><circle cx="158.55" cy="2817.35" r="4.0"/><circle cx="169.13" cy="2806.34" r="4.0"/><circle cx="158.56" cy="2817.61" r="4.0"/><circle cx="138.14" cy="2836.62" r="4.0"/><circle cx="149.41" cy="2837.32" r="4.0"/><circle cx="164.90" cy="2841.55" r="4.0"/><circle cx="132.51" cy="2847.89" r="4.0"/><circle cx="144.48" cy="2847.89" r="4.0"/><circle cx="143.77" cy="2851.41" r="4.0"/><circle cx="138.85" cy="2859.86" r="4.0"/><circle cx="141.66" cy="2865.49" r="4.0"/><circle cx="159.27" cy="2857.75" r="4.0"/><circle cx="157.15" cy="2863.38" r="4.0"/><circle cx="158.56" cy="2866.90" r="4.0"/><circle cx="127.58" cy="2864.79" r="4.0"/><circle cx="117.01" cy="2866.20" r="4.0"/><circle cx="121.24" cy="2873.94" r="4.0"/><circle cx="133.21" cy="2876.76" r="4.0"/><circle cx="136.73" cy="2876.06" r="4.0"/><circle cx="148.00" cy="2873.24" r="4.0"/><circle cx="119.83" cy="2886.62" r="4.0"/><circle cx="126.17" cy="2887.32" r="4.0"/><circle cx="126.17" cy="2892.96" r="4.0"/><circle cx="140.25" cy="2889.44" r="4.0"/><circle cx="150.82" cy="2892.25" r="4.0"/><circle cx="160.68" cy="2892.96" r="4.0"/><circle cx="136.03" cy="2899.30" r="4.0"/><circle cx="120.54" cy="2900.00" r="4.0"/><circle cx="121.24" cy="2905.63" r="4.0"/><circle cx="112.08" cy="2909.15" r="4.0"/><circle cx="119.13" cy="2912.68" r="4.0"/><circle cx="115.61" cy="2916.20" r="4.0"/><circle cx="145.89" cy="2915.49" r="4.0"/><circle cx="143.07" cy="2921.13" r="4.0"/><circle cx="126.17" cy="2921.13" r="4.0"/><circle cx="113.49" cy="2925.35" r="4.0"/><circle cx="122.65" cy="2927.46" r="4.0"/><circle cx="121.24" cy="2932.39" r="4.0"/><circle cx="138.85" cy="2932.39" r="4.0"/><circle cx="143.07" cy="2938.03" r="4.0"/><circle cx="129.69" cy="2937.32" r="4.0"/><circle cx="108.56" cy="2938.03" r="4.0"/><circle cx="133.21" cy="2942.25" r="4.0"/><circle cx="136.03" cy="2944.37" r="4.0"/><circle cx="117.01" cy="2943.66" r="4.0"/><circle cx="121.24" cy="2947.89" r="4.0"/><circle cx="115.61" cy="2949.30" r="4.0"/><circle cx="105.04" cy="2951.41" r="4.0"/><circle cx="108.56" cy="2953.52" r="4.0"/><circle cx="112.08" cy="2952.11" r="4.0"/><circle cx="124.76" cy="2951.41" r="4.0"/><circle cx="119.13" cy="2953.52" r="4.0"/><circle cx="127.58" cy="2945.07" r="4.0"/><circle cx="119.13" cy="2902.11" r="4.0"/><circle cx="117.72" cy="2891.55" r="4.0"/></g>
<line x1="107.16" y1="2944.92" x2="389.81" y2="2362.99" stroke="#A6A6A6" stroke-width="4.2"/>
<text x="106.00" y="2525.60" font-size="23.4" fill="#000" stroke="#000">r^2=0.856</text>
</g></svg>
<svg x="419.70" y="2299.00" width="317.3" height="685.50" overflow="hidden"><g transform="translate(-419.70 -2299.00)">
<rect x="419.70" y="2299.00" width="317.3" height="685.50" fill="#EBEBEB"/>
<line x1="469.36" y1="2299.0" x2="469.36" y2="2984.5" stroke="#FAFAFA" stroke-width="1.8"/>
<line x1="419.70000000000005" y1="2875.96" x2="737.0" y2="2875.96" stroke="#FAFAFA" stroke-width="1.8"/>
<line x1="542.29" y1="2299.0" x2="542.29" y2="2984.5" stroke="#FAFAFA" stroke-width="1.8"/>
<line x1="419.70000000000005" y1="2719.87" x2="737.0" y2="2719.87" stroke="#FAFAFA" stroke-width="1.8"/>
<line x1="615.21" y1="2299.0" x2="615.21" y2="2984.5" stroke="#FAFAFA" stroke-width="1.8"/>
<line x1="419.70000000000005" y1="2563.78" x2="737.0" y2="2563.78" stroke="#FAFAFA" stroke-width="1.8"/>
<line x1="688.14" y1="2299.0" x2="688.14" y2="2984.5" stroke="#FAFAFA" stroke-width="1.8"/>
<line x1="419.70000000000005" y1="2407.69" x2="737.0" y2="2407.69" stroke="#FAFAFA" stroke-width="1.8"/>
<line x1="432.90" y1="2299.0" x2="432.90" y2="2984.5" stroke="#FFFFFF" stroke-width="2.6"/>
<line x1="419.70000000000005" y1="2954.00" x2="737.0" y2="2954.00" stroke="#FFFFFF" stroke-width="2.6"/>
<line x1="505.83" y1="2299.0" x2="505.83" y2="2984.5" stroke="#FFFFFF" stroke-width="2.6"/>
<line x1="419.70000000000005" y1="2797.91" x2="737.0" y2="2797.91" stroke="#FFFFFF" stroke-width="2.6"/>
<line x1="578.75" y1="2299.0" x2="578.75" y2="2984.5" stroke="#FFFFFF" stroke-width="2.6"/>
<line x1="419.70000000000005" y1="2641.82" x2="737.0" y2="2641.82" stroke="#FFFFFF" stroke-width="2.6"/>
<line x1="651.67" y1="2299.0" x2="651.67" y2="2984.5" stroke="#FFFFFF" stroke-width="2.6"/>
<line x1="419.70000000000005" y1="2485.74" x2="737.0" y2="2485.74" stroke="#FFFFFF" stroke-width="2.6"/>
<line x1="724.60" y1="2299.0" x2="724.60" y2="2984.5" stroke="#FFFFFF" stroke-width="2.6"/>
<line x1="419.70000000000005" y1="2329.65" x2="737.0" y2="2329.65" stroke="#FFFFFF" stroke-width="2.6"/>
<g fill="#000" stroke="#000"><circle cx="583.24" cy="2560.39" r="4.0"/><circle cx="545.45" cy="2686.45" r="4.0"/><circle cx="540.92" cy="2700.06" r="4.0"/><circle cx="536.38" cy="2707.61" r="4.0"/><circle cx="519.76" cy="2703.08" r="4.0"/><circle cx="507.67" cy="2711.54" r="4.0"/><circle cx="521.27" cy="2739.35" r="4.0"/><circle cx="522.78" cy="2743.89" r="4.0"/><circle cx="524.29" cy="2759.00" r="4.0"/><circle cx="497.99" cy="2746.00" r="4.0"/><circle cx="503.13" cy="2765.05" r="4.0"/><circle cx="510.69" cy="2769.58" r="4.0"/><circle cx="513.71" cy="2766.56" r="4.0"/><circle cx="507.67" cy="2781.68" r="4.0"/><circle cx="481.97" cy="2778.65" r="4.0"/><circle cx="481.97" cy="2811.91" r="4.0"/><circle cx="487.11" cy="2813.42" r="4.0"/><circle cx="489.53" cy="2808.88" r="4.0"/><circle cx="507.67" cy="2831.56" r="4.0"/><circle cx="474.41" cy="2833.07" r="4.0"/><circle cx="475.93" cy="2839.11" r="4.0"/><circle cx="478.95" cy="2845.16" r="4.0"/><circle cx="483.48" cy="2842.14" r="4.0"/><circle cx="495.57" cy="2840.62" r="4.0"/><circle cx="472.90" cy="2852.72" r="4.0"/><circle cx="495.57" cy="2854.23" r="4.0"/><circle cx="497.09" cy="2858.76" r="4.0"/><circle cx="507.67" cy="2860.27" r="4.0"/><circle cx="465.34" cy="2860.27" r="4.0"/><circle cx="468.37" cy="2864.81" r="4.0"/><circle cx="494.06" cy="2870.85" r="4.0"/><circle cx="459.30" cy="2876.90" r="4.0"/><circle cx="462.32" cy="2878.41" r="4.0"/><circle cx="486.51" cy="2881.43" r="4.0"/><circle cx="477.44" cy="2884.46" r="4.0"/><circle cx="475.93" cy="2888.99" r="4.0"/><circle cx="465.34" cy="2896.55" r="4.0"/><circle cx="466.86" cy="2907.13" r="4.0"/><circle cx="468.37" cy="2917.71" r="4.0"/><circle cx="471.39" cy="2922.24" r="4.0"/><circle cx="488.02" cy="2920.73" r="4.0"/><circle cx="494.06" cy="2925.27" r="4.0"/><circle cx="533.36" cy="2910.15" r="4.0"/><circle cx="460.81" cy="2928.29" r="4.0"/><circle cx="460.81" cy="2932.82" r="4.0"/><circle cx="465.34" cy="2941.89" r="4.0"/><circle cx="472.90" cy="2949.45" r="4.0"/><circle cx="448.72" cy="2949.45" r="4.0"/><circle cx="439.65" cy="2952.47" r="4.0"/><circle cx="462.32" cy="2922.24" r="4.0"/></g>
<line x1="445.70" y1="2943.41" x2="693.58" y2="2329.74" stroke="#A6A6A6" stroke-width="4.2"/>
<text x="439.30" y="2525.60" font-size="23.4" fill="#000" stroke="#000">r^2=0.839</text>
</g></svg>
<svg x="753.00" y="2299.00" width="317.3" height="685.50" overflow="hidden"><g transform="translate(-753.00 -2299.00)">
<rect x="753.00" y="2299.00" width="317.3" height="685.50" fill="#EBEBEB"/>
<line x1="802.66" y1="2299.0" x2="802.66" y2="2984.5" stroke="#FAFAFA" stroke-width="1.8"/>
<line x1="753.0" y1="2875.96" x2="1070.3" y2="2875.96" stroke="#FAFAFA" stroke-width="1.8"/>
<line x1="875.59" y1="2299.0" x2="875.59" y2="2984.5" stroke="#FAFAFA" stroke-width="1.8"/>
<line x1="753.0" y1="2719.87" x2="1070.3" y2="2719.87" stroke="#FAFAFA" stroke-width="1.8"/>
<line x1="948.51" y1="2299.0" x2="948.51" y2="2984.5" stroke="#FAFAFA" stroke-width="1.8"/>
<line x1="753.0" y1="2563.78" x2="1070.3" y2="2563.78" stroke="#FAFAFA" stroke-width="1.8"/>
<line x1="1021.44" y1="2299.0" x2="1021.44" y2="2984.5" stroke="#FAFAFA" stroke-width="1.8"/>
<line x1="753.0" y1="2407.69" x2="1070.3" y2="2407.69" stroke="#FAFAFA" stroke-width="1.8"/>
<line x1="766.20" y1="2299.0" x2="766.20" y2="2984.5" stroke="#FFFFFF" stroke-width="2.6"/>
<line x1="753.0" y1="2954.00" x2="1070.3" y2="2954.00" stroke="#FFFFFF" stroke-width="2.6"/>
<line x1="839.12" y1="2299.0" x2="839.12" y2="2984.5" stroke="#FFFFFF" stroke-width="2.6"/>
<line x1="753.0" y1="2797.91" x2="1070.3" y2="2797.91" stroke="#FFFFFF" stroke-width="2.6"/>
<line x1="912.05" y1="2299.0" x2="912.05" y2="2984.5" stroke="#FFFFFF" stroke-width="2.6"/>
<line x1="753.0" y1="2641.82" x2="1070.3" y2="2641.82" stroke="#FFFFFF" stroke-width="2.6"/>
<line x1="984.98" y1="2299.0" x2="984.98" y2="2984.5" stroke="#FFFFFF" stroke-width="2.6"/>
<line x1="753.0" y1="2485.74" x2="1070.3" y2="2485.74" stroke="#FFFFFF" stroke-width="2.6"/>
<line x1="1057.90" y1="2299.0" x2="1057.90" y2="2984.5" stroke="#FFFFFF" stroke-width="2.6"/>
<line x1="753.0" y1="2329.65" x2="1070.3" y2="2329.65" stroke="#FFFFFF" stroke-width="2.6"/>
<g fill="#000" stroke="#000"><circle cx="905.66" cy="2553.44" r="4.0"/><circle cx="860.32" cy="2679.50" r="4.0"/><circle cx="891.45" cy="2716.68" r="4.0"/><circle cx="850.34" cy="2734.22" r="4.0"/><circle cx="915.33" cy="2739.35" r="4.0"/><circle cx="863.94" cy="2758.40" r="4.0"/><circle cx="850.64" cy="2774.12" r="4.0"/><circle cx="852.76" cy="2792.26" r="4.0"/><circle cx="849.74" cy="2802.84" r="4.0"/><circle cx="859.41" cy="2801.33" r="4.0"/><circle cx="870.90" cy="2796.79" r="4.0"/><circle cx="855.78" cy="2811.91" r="4.0"/><circle cx="852.76" cy="2820.97" r="4.0"/><circle cx="822.53" cy="2823.09" r="4.0"/><circle cx="831.60" cy="2825.51" r="4.0"/><circle cx="870.90" cy="2828.53" r="4.0"/><circle cx="870.90" cy="2839.11" r="4.0"/><circle cx="846.71" cy="2840.62" r="4.0"/><circle cx="873.92" cy="2851.20" r="4.0"/><circle cx="825.55" cy="2859.67" r="4.0"/><circle cx="840.67" cy="2857.25" r="4.0"/><circle cx="851.25" cy="2867.83" r="4.0"/><circle cx="827.06" cy="2896.55" r="4.0"/><circle cx="822.53" cy="2899.57" r="4.0"/><circle cx="839.15" cy="2904.11" r="4.0"/><circle cx="827.06" cy="2908.64" r="4.0"/><circle cx="864.85" cy="2895.04" r="4.0"/><circle cx="862.43" cy="2905.62" r="4.0"/><circle cx="811.95" cy="2934.34" r="4.0"/><circle cx="817.99" cy="2935.85" r="4.0"/><circle cx="831.60" cy="2934.34" r="4.0"/><circle cx="833.11" cy="2938.87" r="4.0"/><circle cx="799.86" cy="2938.87" r="4.0"/><circle cx="805.90" cy="2940.38" r="4.0"/><circle cx="813.46" cy="2940.38" r="4.0"/><circle cx="765.09" cy="2952.47" r="4.0"/><circle cx="769.63" cy="2952.47" r="4.0"/><circle cx="775.67" cy="2952.47" r="4.0"/><circle cx="781.72" cy="2950.96" r="4.0"/><circle cx="786.25" cy="2951.57" r="4.0"/><circle cx="792.30" cy="2952.47" r="4.0"/><circle cx="798.34" cy="2950.96" r="4.0"/><circle cx="804.39" cy="2950.96" r="4.0"/><circle cx="810.44" cy="2950.96" r="4.0"/><circle cx="816.48" cy="2950.36" r="4.0"/><circle cx="822.53" cy="2950.96" r="4.0"/><circle cx="827.06" cy="2951.57" r="4.0"/><circle cx="789.28" cy="2947.94" r="4.0"/><circle cx="795.32" cy="2947.94" r="4.0"/><circle cx="807.41" cy="2944.92" r="4.0"/><circle cx="814.97" cy="2944.92" r="4.0"/></g>
<line x1="787.76" y1="2947.94" x2="1056.20" y2="2489.96" stroke="#A6A6A6" stroke-width="4.2"/>
<text x="772.60" y="2525.60" font-size="23.4" fill="#000" stroke="#000">r^2=0.815</text>
</g></svg>
<svg x="1086.30" y="2299.00" width="317.3" height="685.50" overflow="hidden"><g transform="translate(-1086.30 -2299.00)">
<rect x="1086.30" y="2299.00" width="317.3" height="685.50" fill="#EBEBEB"/>
<line x1="1135.96" y1="2299.0" x2="1135.96" y2="2984.5" stroke="#FAFAFA" stroke-width="1.8"/>
<line x1="1086.3000000000002" y1="2875.96" x2="1403.6000000000001" y2="2875.96" stroke="#FAFAFA" stroke-width="1.8"/>
<line x1="1208.89" y1="2299.0" x2="1208.89" y2="2984.5" stroke="#FAFAFA" stroke-width="1.8"/>
<line x1="1086.3000000000002" y1="2719.87" x2="1403.6000000000001" y2="2719.87" stroke="#FAFAFA" stroke-width="1.8"/>
<line x1="1281.81" y1="2299.0" x2="1281.81" y2="2984.5" stroke="#FAFAFA" stroke-width="1.8"/>
<line x1="1086.3000000000002" y1="2563.78" x2="1403.6000000000001" y2="2563.78" stroke="#FAFAFA" stroke-width="1.8"/>
<line x1="1354.74" y1="2299.0" x2="1354.74" y2="2984.5" stroke="#FAFAFA" stroke-width="1.8"/>
<line x1="1086.3000000000002" y1="2407.69" x2="1403.6000000000001" y2="2407.69" stroke="#FAFAFA" stroke-width="1.8"/>
<line x1="1099.50" y1="2299.0" x2="1099.50" y2="2984.5" stroke="#FFFFFF" stroke-width="2.6"/>
<line x1="1086.3000000000002" y1="2954.00" x2="1403.6000000000001" y2="2954.00" stroke="#FFFFFF" stroke-width="2.6"/>
<line x1="1172.43" y1="2299.0" x2="1172.43" y2="2984.5" stroke="#FFFFFF" stroke-width="2.6"/>
<line x1="1086.3000000000002" y1="2797.91" x2="1403.6000000000001" y2="2797.91" stroke="#FFFFFF" stroke-width="2.6"/>
<line x1="1245.35" y1="2299.0" x2="1245.35" y2="2984.5" stroke="#FFFFFF" stroke-width="2.6"/>
<line x1="1086.3000000000002" y1="2641.82" x2="1403.6000000000001" y2="2641.82" stroke="#FFFFFF" stroke-width="2.6"/>
<line x1="1318.28" y1="2299.0" x2="1318.28" y2="2984.5" stroke="#FFFFFF" stroke-width="2.6"/>
<line x1="1086.3000000000002" y1="2485.74" x2="1403.6000000000001" y2="2485.74" stroke="#FFFFFF" stroke-width="2.6"/>
<line x1="1391.20" y1="2299.0" x2="1391.20" y2="2984.5" stroke="#FFFFFF" stroke-width="2.6"/>
<line x1="1086.3000000000002" y1="2329.65" x2="1403.6000000000001" y2="2329.65" stroke="#FFFFFF" stroke-width="2.6"/>
<g fill="#000" stroke="#000"><circle cx="1366.53" cy="2331.86" r="4.0"/><circle cx="1370.16" cy="2350.30" r="4.0"/><circle cx="1308.19" cy="2408.94" r="4.0"/><circle cx="1293.07" cy="2478.77" r="4.0"/><circle cx="1283.10" cy="2542.26" r="4.0"/><circle cx="1287.03" cy="2556.46" r="4.0"/><circle cx="1284.00" cy="2561.00" r="4.0"/><circle cx="1297.61" cy="2567.95" r="4.0"/><circle cx="1296.10" cy="2573.09" r="4.0"/><circle cx="1294.59" cy="2574.60" r="4.0"/><circle cx="1310.30" cy="2584.58" r="4.0"/><circle cx="1271.91" cy="2576.11" r="4.0"/><circle cx="1272.82" cy="2583.07" r="4.0"/><circle cx="1291.56" cy="2589.72" r="4.0"/><circle cx="1277.96" cy="2603.32" r="4.0"/><circle cx="1260.73" cy="2598.79" r="4.0"/><circle cx="1250.75" cy="2605.74" r="4.0"/><circle cx="1231.10" cy="2627.50" r="4.0"/><circle cx="1242.29" cy="2637.18" r="4.0"/><circle cx="1265.26" cy="2638.08" r="4.0"/><circle cx="1227.48" cy="2662.27" r="4.0"/><circle cx="1228.68" cy="2667.41" r="4.0"/><circle cx="1238.66" cy="2661.66" r="4.0"/><circle cx="1283.40" cy="2656.22" r="4.0"/><circle cx="1205.41" cy="2666.20" r="4.0"/><circle cx="1275.54" cy="2677.38" r="4.0"/><circle cx="1186.36" cy="2687.36" r="4.0"/><circle cx="1235.03" cy="2687.96" r="4.0"/><circle cx="1244.71" cy="2692.50" r="4.0"/><circle cx="1218.10" cy="2708.22" r="4.0"/><circle cx="1230.50" cy="2712.75" r="4.0"/><circle cx="1238.06" cy="2712.15" r="4.0"/><circle cx="1258.91" cy="2715.17" r="4.0"/><circle cx="1232.01" cy="2726.36" r="4.0"/><circle cx="1221.13" cy="2739.35" r="4.0"/><circle cx="1210.55" cy="2752.96" r="4.0"/><circle cx="1208.43" cy="2759.00" r="4.0"/><circle cx="1215.08" cy="2761.42" r="4.0"/><circle cx="1200.27" cy="2767.17" r="4.0"/><circle cx="1239.57" cy="2764.44" r="4.0"/><circle cx="1233.22" cy="2778.65" r="4.0"/><circle cx="1206.31" cy="2791.65" r="4.0"/><circle cx="1206.31" cy="2795.28" r="4.0"/><circle cx="1194.22" cy="2829.14" r="4.0"/><circle cx="1163.99" cy="2860.27" r="4.0"/><circle cx="1208.43" cy="2885.06" r="4.0"/><circle cx="1193.32" cy="2900.18" r="4.0"/><circle cx="1180.32" cy="2901.08" r="4.0"/><circle cx="1173.67" cy="2905.62" r="4.0"/><circle cx="1187.87" cy="2910.76" r="4.0"/><circle cx="1159.16" cy="2922.24" r="4.0"/><circle cx="1155.53" cy="2923.15" r="4.0"/><circle cx="1142.83" cy="2930.41" r="4.0"/><circle cx="1176.08" cy="2932.22" r="4.0"/><circle cx="1170.64" cy="2944.92" r="4.0"/><circle cx="1099.60" cy="2952.47" r="4.0"/><circle cx="1107.16" cy="2953.38" r="4.0"/><circle cx="1111.70" cy="2953.38" r="4.0"/><circle cx="1122.88" cy="2950.96" r="4.0"/><circle cx="1137.39" cy="2952.47" r="4.0"/></g>
<line x1="1137.39" y1="2944.92" x2="1383.16" y2="2335.79" stroke="#A6A6A6" stroke-width="4.2"/>
<text x="1105.90" y="2525.60" font-size="23.4" fill="#000" stroke="#000">r^2=0.936</text>
</g></svg>
<svg x="1419.60" y="2299.00" width="317.3" height="685.50" overflow="hidden"><g transform="translate(-1419.60 -2299.00)">
<rect x="1419.60" y="2299.00" width="317.3" height="685.50" fill="#EBEBEB"/>
<line x1="1469.26" y1="2299.0" x2="1469.26" y2="2984.5" stroke="#FAFAFA" stroke-width="1.8"/>
<line x1="1419.6000000000001" y1="2875.96" x2="1736.9" y2="2875.96" stroke="#FAFAFA" stroke-width="1.8"/>
<line x1="1542.19" y1="2299.0" x2="1542.19" y2="2984.5" stroke="#FAFAFA" stroke-width="1.8"/>
<line x1="1419.6000000000001" y1="2719.87" x2="1736.9" y2="2719.87" stroke="#FAFAFA" stroke-width="1.8"/>
<line x1="1615.11" y1="2299.0" x2="1615.11" y2="2984.5" stroke="#FAFAFA" stroke-width="1.8"/>
<line x1="1419.6000000000001" y1="2563.78" x2="1736.9" y2="2563.78" stroke="#FAFAFA" stroke-width="1.8"/>
<line x1="1688.04" y1="2299.0" x2="1688.04" y2="2984.5" stroke="#FAFAFA" stroke-width="1.8"/>
<line x1="1419.6000000000001" y1="2407.69" x2="1736.9" y2="2407.69" stroke="#FAFAFA" stroke-width="1.8"/>
<line x1="1432.80" y1="2299.0" x2="1432.80" y2="2984.5" stroke="#FFFFFF" stroke-width="2.6"/>
<line x1="1419.6000000000001" y1="2954.00" x2="1736.9" y2="2954.00" stroke="#FFFFFF" stroke-width="2.6"/>
<line x1="1505.73" y1="2299.0" x2="1505.73" y2="2984.5" stroke="#FFFFFF" stroke-width="2.6"/>
<line x1="1419.6000000000001" y1="2797.91" x2="1736.9" y2="2797.91" stroke="#FFFFFF" stroke-width="2.6"/>
<line x1="1578.65" y1="2299.0" x2="1578.65" y2="2984.5" stroke="#FFFFFF" stroke-width="2.6"/>
<line x1="1419.6000000000001" y1="2641.82" x2="1736.9" y2="2641.82" stroke="#FFFFFF" stroke-width="2.6"/>
<line x1="1651.58" y1="2299.0" x2="1651.58" y2="2984.5" stroke="#FFFFFF" stroke-width="2.6"/>
<line x1="1419.6000000000001" y1="2485.74" x2="1736.9" y2="2485.74" stroke="#FFFFFF" stroke-width="2.6"/>
<line x1="1724.50" y1="2299.0" x2="1724.50" y2="2984.5" stroke="#FFFFFF" stroke-width="2.6"/>
<line x1="1419.6000000000001" y1="2329.65" x2="1736.9" y2="2329.65" stroke="#FFFFFF" stroke-width="2.6"/>
<g fill="#000" stroke="#000"><circle cx="1696.51" cy="2337.30" r="4.0"/><circle cx="1706.79" cy="2344.86" r="4.0"/><circle cx="1704.67" cy="2381.13" r="4.0"/><circle cx="1657.81" cy="2357.85" r="4.0"/><circle cx="1674.44" cy="2358.46" r="4.0"/><circle cx="1677.46" cy="2356.04" r="4.0"/><circle cx="1682.60" cy="2377.20" r="4.0"/><circle cx="1669.91" cy="2385.67" r="4.0"/><circle cx="1672.93" cy="2385.06" r="4.0"/><circle cx="1660.84" cy="2394.13" r="4.0"/><circle cx="1665.37" cy="2396.25" r="4.0"/><circle cx="1639.07" cy="2400.18" r="4.0"/><circle cx="1633.03" cy="2421.34" r="4.0"/><circle cx="1679.58" cy="2429.50" r="4.0"/><circle cx="1678.98" cy="2442.50" r="4.0"/><circle cx="1633.63" cy="2440.08" r="4.0"/><circle cx="1644.21" cy="2452.78" r="4.0"/><circle cx="1665.37" cy="2446.13" r="4.0"/><circle cx="1669.91" cy="2462.75" r="4.0"/><circle cx="1669.91" cy="2476.36" r="4.0"/><circle cx="1613.98" cy="2457.61" r="4.0"/><circle cx="1615.49" cy="2462.75" r="4.0"/><circle cx="1626.07" cy="2468.80" r="4.0"/><circle cx="1629.10" cy="2470.91" r="4.0"/><circle cx="1634.24" cy="2472.73" r="4.0"/><circle cx="1639.68" cy="2471.82" r="4.0"/><circle cx="1636.05" cy="2477.87" r="4.0"/><circle cx="1640.28" cy="2480.89" r="4.0"/><circle cx="1622.14" cy="2482.40" r="4.0"/><circle cx="1632.12" cy="2490.87" r="4.0"/><circle cx="1638.17" cy="2486.94" r="4.0"/><circle cx="1641.19" cy="2497.52" r="4.0"/><circle cx="1642.70" cy="2502.05" r="4.0"/><circle cx="1593.73" cy="2498.12" r="4.0"/><circle cx="1617.91" cy="2513.24" r="4.0"/><circle cx="1639.68" cy="2515.05" r="4.0"/><circle cx="1586.78" cy="2525.33" r="4.0"/><circle cx="1637.26" cy="2526.23" r="4.0"/><circle cx="1639.07" cy="2529.26" r="4.0"/><circle cx="1655.40" cy="2534.40" r="4.0"/><circle cx="1592.82" cy="2542.86" r="4.0"/><circle cx="1594.94" cy="2547.40" r="4.0"/><circle cx="1613.98" cy="2544.37" r="4.0"/><circle cx="1635.75" cy="2548.30" r="4.0"/><circle cx="1621.54" cy="2556.46" r="4.0"/><circle cx="1627.59" cy="2555.56" r="4.0"/><circle cx="1636.05" cy="2567.04" r="4.0"/><circle cx="1633.63" cy="2570.07" r="4.0"/><circle cx="1638.17" cy="2570.07" r="4.0"/><circle cx="1635.14" cy="2572.49" r="4.0"/><circle cx="1614.89" cy="2568.56" r="4.0"/><circle cx="1575.29" cy="2571.58" r="4.0"/><circle cx="1574.08" cy="2582.16" r="4.0"/><circle cx="1595.84" cy="2585.18" r="4.0"/><circle cx="1599.77" cy="2583.67" r="4.0"/><circle cx="1615.49" cy="2582.16" r="4.0"/><circle cx="1618.52" cy="2586.69" r="4.0"/><circle cx="1620.03" cy="2591.23" r="4.0"/><circle cx="1634.24" cy="2588.21" r="4.0"/><circle cx="1607.94" cy="2592.74" r="4.0"/><circle cx="1595.24" cy="2603.93" r="4.0"/><circle cx="1605.82" cy="2609.97" r="4.0"/><circle cx="1643.30" cy="2606.34" r="4.0"/><circle cx="1586.78" cy="2620.85" r="4.0"/><circle cx="1593.73" cy="2625.39" r="4.0"/><circle cx="1603.40" cy="2630.53" r="4.0"/><circle cx="1606.42" cy="2631.43" r="4.0"/><circle cx="1569.24" cy="2620.85" r="4.0"/><circle cx="1563.50" cy="2625.99" r="4.0"/><circle cx="1603.40" cy="2641.11" r="4.0"/><circle cx="1592.82" cy="2643.22" r="4.0"/><circle cx="1597.36" cy="2650.18" r="4.0"/><circle cx="1607.94" cy="2653.20" r="4.0"/><circle cx="1571.66" cy="2658.64" r="4.0"/><circle cx="1595.24" cy="2662.27" r="4.0"/><circle cx="1613.98" cy="2663.78" r="4.0"/><circle cx="1543.55" cy="2674.36" r="4.0"/><circle cx="1584.66" cy="2682.52" r="4.0"/><circle cx="1605.52" cy="2683.43" r="4.0"/><circle cx="1541.43" cy="2694.01" r="4.0"/><circle cx="1595.24" cy="2700.06" r="4.0"/><circle cx="1557.45" cy="2709.12" r="4.0"/><circle cx="1541.43" cy="2721.22" r="4.0"/><circle cx="1545.96" cy="2719.70" r="4.0"/><circle cx="1561.08" cy="2721.22" r="4.0"/><circle cx="1579.22" cy="2729.68" r="4.0"/><circle cx="1552.01" cy="2745.40" r="4.0"/><circle cx="1558.96" cy="2762.93" r="4.0"/><circle cx="1561.68" cy="2803.74" r="4.0"/><circle cx="1539.92" cy="2844.55" r="4.0"/></g>
<line x1="1458.30" y1="2949.45" x2="1703.16" y2="2335.79" stroke="#A6A6A6" stroke-width="4.2"/>
<text x="1439.20" y="2525.60" font-size="23.4" fill="#000" stroke="#000">r^2=0.875</text>
</g></svg>
<svg x="1752.90" y="2299.00" width="317.3" height="685.50" overflow="hidden"><g transform="translate(-1752.90 -2299.00)">
<rect x="1752.90" y="2299.00" width="317.3" height="685.50" fill="#EBEBEB"/>
<line x1="1802.56" y1="2299.0" x2="1802.56" y2="2984.5" stroke="#FAFAFA" stroke-width="1.8"/>
<line x1="1752.9" y1="2875.96" x2="2070.2000000000003" y2="2875.96" stroke="#FAFAFA" stroke-width="1.8"/>
<line x1="1875.49" y1="2299.0" x2="1875.49" y2="2984.5" stroke="#FAFAFA" stroke-width="1.8"/>
<line x1="1752.9" y1="2719.87" x2="2070.2000000000003" y2="2719.87" stroke="#FAFAFA" stroke-width="1.8"/>
<line x1="1948.41" y1="2299.0" x2="1948.41" y2="2984.5" stroke="#FAFAFA" stroke-width="1.8"/>
<line x1="1752.9" y1="2563.78" x2="2070.2000000000003" y2="2563.78" stroke="#FAFAFA" stroke-width="1.8"/>
<line x1="2021.34" y1="2299.0" x2="2021.34" y2="2984.5" stroke="#FAFAFA" stroke-width="1.8"/>
<line x1="1752.9" y1="2407.69" x2="2070.2000000000003" y2="2407.69" stroke="#FAFAFA" stroke-width="1.8"/>
<line x1="1766.10" y1="2299.0" x2="1766.10" y2="2984.5" stroke="#FFFFFF" stroke-width="2.6"/>
<line x1="1752.9" y1="2954.00" x2="2070.2000000000003" y2="2954.00" stroke="#FFFFFF" stroke-width="2.6"/>
<line x1="1839.03" y1="2299.0" x2="1839.03" y2="2984.5" stroke="#FFFFFF" stroke-width="2.6"/>
<line x1="1752.9" y1="2797.91" x2="2070.2000000000003" y2="2797.91" stroke="#FFFFFF" stroke-width="2.6"/>
<line x1="1911.95" y1="2299.0" x2="1911.95" y2="2984.5" stroke="#FFFFFF" stroke-width="2.6"/>
<line x1="1752.9" y1="2641.82" x2="2070.2000000000003" y2="2641.82" stroke="#FFFFFF" stroke-width="2.6"/>
<line x1="1984.88" y1="2299.0" x2="1984.88" y2="2984.5" stroke="#FFFFFF" stroke-width="2.6"/>
<line x1="1752.9" y1="2485.74" x2="2070.2000000000003" y2="2485.74" stroke="#FFFFFF" stroke-width="2.6"/>
<line x1="2057.80" y1="2299.0" x2="2057.80" y2="2984.5" stroke="#FFFFFF" stroke-width="2.6"/>
<line x1="1752.9" y1="2329.65" x2="2070.2000000000003" y2="2329.65" stroke="#FFFFFF" stroke-width="2.6"/>
<g fill="#000" stroke="#000"><circle cx="2012.58" cy="2343.34" r="4.0"/><circle cx="2008.95" cy="2346.37" r="4.0"/><circle cx="2003.51" cy="2350.90" r="4.0"/><circle cx="1999.28" cy="2362.99" r="4.0"/><circle cx="1996.86" cy="2370.55" r="4.0"/><circle cx="1995.35" cy="2377.20" r="4.0"/><circle cx="1993.84" cy="2379.62" r="4.0"/><circle cx="1993.23" cy="2391.11" r="4.0"/><circle cx="2002.91" cy="2402.29" r="4.0"/><circle cx="2002.91" cy="2408.34" r="4.0"/><circle cx="1992.93" cy="2409.25" r="4.0"/><circle cx="2022.56" cy="2397.76" r="4.0"/><circle cx="2024.07" cy="2409.25" r="4.0"/><circle cx="2025.58" cy="2418.92" r="4.0"/><circle cx="2027.09" cy="2423.45" r="4.0"/><circle cx="1974.79" cy="2410.45" r="4.0"/><circle cx="1970.26" cy="2427.99" r="4.0"/><circle cx="1987.19" cy="2423.45" r="4.0"/><circle cx="1984.16" cy="2431.01" r="4.0"/><circle cx="1989.30" cy="2434.03" r="4.0"/><circle cx="1990.81" cy="2438.57" r="4.0"/><circle cx="1990.21" cy="2446.73" r="4.0"/><circle cx="1966.63" cy="2447.64" r="4.0"/><circle cx="2007.44" cy="2457.61" r="4.0"/><circle cx="2015.60" cy="2453.68" r="4.0"/><circle cx="2015.00" cy="2472.73" r="4.0"/><circle cx="2004.42" cy="2473.33" r="4.0"/><circle cx="2001.40" cy="2479.38" r="4.0"/><circle cx="1953.03" cy="2483.91" r="4.0"/><circle cx="1960.59" cy="2479.38" r="4.0"/><circle cx="1965.12" cy="2480.89" r="4.0"/><circle cx="1971.17" cy="2471.82" r="4.0"/><circle cx="1975.70" cy="2473.33" r="4.0"/><circle cx="1978.72" cy="2474.84" r="4.0"/><circle cx="1966.63" cy="2488.45" r="4.0"/><circle cx="1972.68" cy="2485.42" r="4.0"/><circle cx="1981.75" cy="2486.94" r="4.0"/><circle cx="1986.28" cy="2488.45" r="4.0"/><circle cx="1990.81" cy="2491.47" r="4.0"/><circle cx="1995.35" cy="2497.52" r="4.0"/><circle cx="1998.37" cy="2496.00" r="4.0"/><circle cx="1963.61" cy="2496.00" r="4.0"/><circle cx="1969.65" cy="2497.52" r="4.0"/><circle cx="1975.70" cy="2500.54" r="4.0"/><circle cx="1981.75" cy="2497.52" r="4.0"/><circle cx="1946.98" cy="2506.59" r="4.0"/><circle cx="1953.93" cy="2505.98" r="4.0"/><circle cx="1948.49" cy="2521.10" r="4.0"/><circle cx="1966.63" cy="2517.17" r="4.0"/><circle cx="1972.68" cy="2520.19" r="4.0"/><circle cx="1986.28" cy="2513.24" r="4.0"/><circle cx="1989.30" cy="2515.05" r="4.0"/><circle cx="1957.56" cy="2530.77" r="4.0"/><circle cx="1969.65" cy="2533.79" r="4.0"/><circle cx="1975.70" cy="2527.75" r="4.0"/><circle cx="1939.42" cy="2536.81" r="4.0"/><circle cx="1948.49" cy="2541.35" r="4.0"/><circle cx="1976.30" cy="2543.47" r="4.0"/><circle cx="1959.98" cy="2554.35" r="4.0"/><circle cx="1974.19" cy="2556.46" r="4.0"/><circle cx="1978.72" cy="2555.56" r="4.0"/><circle cx="1984.77" cy="2551.93" r="4.0"/><circle cx="1945.47" cy="2561.00" r="4.0"/><circle cx="1951.52" cy="2565.53" r="4.0"/><circle cx="1943.96" cy="2571.58" r="4.0"/><circle cx="1956.96" cy="2571.58" r="4.0"/><circle cx="1993.84" cy="2562.51" r="4.0"/><circle cx="1996.86" cy="2561.00" r="4.0"/><circle cx="1938.82" cy="2579.14" r="4.0"/><circle cx="1966.03" cy="2583.07" r="4.0"/><circle cx="1981.75" cy="2580.65" r="4.0"/><circle cx="1980.23" cy="2586.69" r="4.0"/><circle cx="1959.98" cy="2588.21" r="4.0"/><circle cx="1959.98" cy="2595.76" r="4.0"/><circle cx="1929.75" cy="2596.67" r="4.0"/><circle cx="1946.38" cy="2595.76" r="4.0"/><circle cx="1939.42" cy="2616.92" r="4.0"/><circle cx="1928.24" cy="2629.92" r="4.0"/><circle cx="1959.98" cy="2628.11" r="4.0"/><circle cx="1946.98" cy="2640.20" r="4.0"/><circle cx="1891.66" cy="2672.85" r="4.0"/><circle cx="1913.73" cy="2682.52" r="4.0"/><circle cx="1854.78" cy="2822.49" r="4.0"/><circle cx="1836.64" cy="2882.95" r="4.0"/><circle cx="1966.17" cy="2447.86" r="4.0"/><circle cx="1989.37" cy="2448.23" r="4.0"/><circle cx="2006.59" cy="2457.59" r="4.0"/><circle cx="2015.94" cy="2453.47" r="4.0"/><circle cx="2004.34" cy="2472.93" r="4.0"/><circle cx="2015.19" cy="2472.93" r="4.0"/><circle cx="2000.60" cy="2479.67" r="4.0"/><circle cx="1972.90" cy="2469.94" r="4.0"/><circle cx="1977.40" cy="2469.19" r="4.0"/><circle cx="1980.39" cy="2472.19" r="4.0"/><circle cx="1960.18" cy="2478.92" r="4.0"/><circle cx="1953.44" cy="2485.66" r="4.0"/><circle cx="1966.92" cy="2484.91" r="4.0"/><circle cx="1964.67" cy="2480.42" r="4.0"/><circle cx="1974.40" cy="2478.92" r="4.0"/><circle cx="1987.13" cy="2486.41" r="4.0"/><circle cx="1986.38" cy="2492.40" r="4.0"/><circle cx="1997.98" cy="2496.89" r="4.0"/><circle cx="1994.61" cy="2502.13" r="4.0"/><circle cx="1963.17" cy="2498.38" r="4.0"/><circle cx="1969.91" cy="2502.13" r="4.0"/><circle cx="1981.14" cy="2499.88" r="4.0"/><circle cx="1946.71" cy="2505.87" r="4.0"/><circle cx="1954.57" cy="2506.24" r="4.0"/><circle cx="1963.92" cy="2515.60" r="4.0"/><circle cx="1972.90" cy="2518.59" r="4.0"/><circle cx="1986.38" cy="2513.35" r="4.0"/><circle cx="1988.62" cy="2515.60" r="4.0"/><circle cx="1948.20" cy="2520.84" r="4.0"/><circle cx="1956.44" cy="2529.82" r="4.0"/><circle cx="1954.94" cy="2536.56" r="4.0"/><circle cx="1968.41" cy="2534.69" r="4.0"/><circle cx="1976.65" cy="2527.95" r="4.0"/><circle cx="1939.97" cy="2537.31" r="4.0"/><circle cx="1947.46" cy="2542.54" r="4.0"/><circle cx="1977.40" cy="2543.67" r="4.0"/><circle cx="1986.38" cy="2552.28" r="4.0"/><circle cx="1972.90" cy="2556.77" r="4.0"/><circle cx="1978.14" cy="2555.27" r="4.0"/><circle cx="1957.93" cy="2553.77" r="4.0"/><circle cx="1947.46" cy="2553.77" r="4.0"/><circle cx="1942.96" cy="2562.01" r="4.0"/><circle cx="1992.37" cy="2562.75" r="4.0"/><circle cx="1998.35" cy="2562.01" r="4.0"/><circle cx="1954.19" cy="2566.50" r="4.0"/><circle cx="1956.44" cy="2573.23" r="4.0"/><circle cx="1937.72" cy="2579.97" r="4.0"/><circle cx="1966.17" cy="2583.71" r="4.0"/><circle cx="1959.43" cy="2587.46" r="4.0"/><circle cx="1981.89" cy="2579.97" r="4.0"/><circle cx="1980.39" cy="2585.96" r="4.0"/><circle cx="1929.49" cy="2596.44" r="4.0"/><circle cx="1945.96" cy="2596.06" r="4.0"/><circle cx="1960.18" cy="2596.44" r="4.0"/></g>
<line x1="1788.28" y1="2947.94" x2="2045.83" y2="2332.76" stroke="#A6A6A6" stroke-width="4.2"/>
<text x="1772.50" y="2525.60" font-size="23.4" fill="#000" stroke="#000">r^2=0.839</text>
</g></svg>
<rect x="35.2" y="2299.00" width="42.4" height="685.50" fill="#D9D9D9"/>
<text transform="translate(64.0 2641.30) rotate(-90)" font-size="23.6" text-anchor="middle" fill="#1A1A1A" stroke="#1A1A1A">EUR</text>
<line x1="2070.2" y1="2954.00" x2="2078" y2="2954.00" stroke="#333" stroke-width="2.6"/>
<text x="2086" y="2964.20" font-size="22.8" fill="#4D4D4D" stroke="#4D4D4D">0%</text>
<line x1="2070.2" y1="2797.91" x2="2078" y2="2797.91" stroke="#333" stroke-width="2.6"/>
<text x="2086" y="2808.11" font-size="22.8" fill="#4D4D4D" stroke="#4D4D4D">25%</text>
<line x1="2070.2" y1="2641.82" x2="2078" y2="2641.82" stroke="#333" stroke-width="2.6"/>
<text x="2086" y="2652.02" font-size="22.8" fill="#4D4D4D" stroke="#4D4D4D">50%</text>
<line x1="2070.2" y1="2485.74" x2="2078" y2="2485.74" stroke="#333" stroke-width="2.6"/>
<text x="2086" y="2495.94" font-size="22.8" fill="#4D4D4D" stroke="#4D4D4D">75%</text>
<line x1="2070.2" y1="2329.65" x2="2078" y2="2329.65" stroke="#333" stroke-width="2.6"/>
<text x="2086" y="2339.85" font-size="22.8" fill="#4D4D4D" stroke="#4D4D4D">100%</text>
<text transform="translate(2150.0 2290.7) rotate(90)" font-size="28.4" text-anchor="middle" fill="#000" stroke="#000">VISAGE BT co−ancestry proportion</text>
<line x1="99.60" y1="2984.5" x2="99.60" y2="2991.5" stroke="#333" stroke-width="2.6"/>
<line x1="172.53" y1="2984.5" x2="172.53" y2="2991.5" stroke="#333" stroke-width="2.6"/>
<text x="172.53" y="3016.2" font-size="22.8" text-anchor="middle" fill="#4D4D4D" stroke="#4D4D4D">25%</text>
<line x1="245.45" y1="2984.5" x2="245.45" y2="2991.5" stroke="#333" stroke-width="2.6"/>
<text x="245.45" y="3016.2" font-size="22.8" text-anchor="middle" fill="#4D4D4D" stroke="#4D4D4D">50%</text>
<line x1="318.38" y1="2984.5" x2="318.38" y2="2991.5" stroke="#333" stroke-width="2.6"/>
<text x="318.38" y="3016.2" font-size="22.8" text-anchor="middle" fill="#4D4D4D" stroke="#4D4D4D">75%</text>
<line x1="391.30" y1="2984.5" x2="391.30" y2="2991.5" stroke="#333" stroke-width="2.6"/>
<text x="391.30" y="3016.2" font-size="22.8" text-anchor="middle" fill="#4D4D4D" stroke="#4D4D4D">100%</text>
<line x1="432.90" y1="2984.5" x2="432.90" y2="2991.5" stroke="#333" stroke-width="2.6"/>
<text x="432.90" y="3016.2" font-size="22.8" text-anchor="middle" fill="#4D4D4D" stroke="#4D4D4D">0%</text>
<rect x="420.30" y="2995" width="36" height="26" fill="#fff"/>
<line x1="505.83" y1="2984.5" x2="505.83" y2="2991.5" stroke="#333" stroke-width="2.6"/>
<text x="505.83" y="3016.2" font-size="22.8" text-anchor="middle" fill="#4D4D4D" stroke="#4D4D4D">25%</text>
<line x1="578.75" y1="2984.5" x2="578.75" y2="2991.5" stroke="#333" stroke-width="2.6"/>
<text x="578.75" y="3016.2" font-size="22.8" text-anchor="middle" fill="#4D4D4D" stroke="#4D4D4D">50%</text>
<line x1="651.67" y1="2984.5" x2="651.67" y2="2991.5" stroke="#333" stroke-width="2.6"/>
<text x="651.67" y="3016.2" font-size="22.8" text-anchor="middle" fill="#4D4D4D" stroke="#4D4D4D">75%</text>
<line x1="724.60" y1="2984.5" x2="724.60" y2="2991.5" stroke="#333" stroke-width="2.6"/>
<text x="724.60" y="3016.2" font-size="22.8" text-anchor="middle" fill="#4D4D4D" stroke="#4D4D4D">100%</text>
<line x1="766.20" y1="2984.5" x2="766.20" y2="2991.5" stroke="#333" stroke-width="2.6"/>
<text x="766.20" y="3016.2" font-size="22.8" text-anchor="middle" fill="#4D4D4D" stroke="#4D4D4D">0%</text>
<rect x="753.60" y="2995" width="36" height="26" fill="#fff"/>
<line x1="839.12" y1="2984.5" x2="839.12" y2="2991.5" stroke="#333" stroke-width="2.6"/>
<text x="839.12" y="3016.2" font-size="22.8" text-anchor="middle" fill="#4D4D4D" stroke="#4D4D4D">25%</text>
<line x1="912.05" y1="2984.5" x2="912.05" y2="2991.5" stroke="#333" stroke-width="2.6"/>
<text x="912.05" y="3016.2" font-size="22.8" text-anchor="middle" fill="#4D4D4D" stroke="#4D4D4D">50%</text>
<line x1="984.98" y1="2984.5" x2="984.98" y2="2991.5" stroke="#333" stroke-width="2.6"/>
<text x="984.98" y="3016.2" font-size="22.8" text-anchor="middle" fill="#4D4D4D" stroke="#4D4D4D">75%</text>
<line x1="1057.90" y1="2984.5" x2="1057.90" y2="2991.5" stroke="#333" stroke-width="2.6"/>
<text x="1057.90" y="3016.2" font-size="22.8" text-anchor="middle" fill="#4D4D4D" stroke="#4D4D4D">100%</text>
<line x1="1099.50" y1="2984.5" x2="1099.50" y2="2991.5" stroke="#333" stroke-width="2.6"/>
<text x="1099.50" y="3016.2" font-size="22.8" text-anchor="middle" fill="#4D4D4D" stroke="#4D4D4D">0%</text>
<rect x="1086.90" y="2995" width="36" height="26" fill="#fff"/>
<line x1="1172.43" y1="2984.5" x2="1172.43" y2="2991.5" stroke="#333" stroke-width="2.6"/>
<text x="1172.43" y="3016.2" font-size="22.8" text-anchor="middle" fill="#4D4D4D" stroke="#4D4D4D">25%</text>
<line x1="1245.35" y1="2984.5" x2="1245.35" y2="2991.5" stroke="#333" stroke-width="2.6"/>
<text x="1245.35" y="3016.2" font-size="22.8" text-anchor="middle" fill="#4D4D4D" stroke="#4D4D4D">50%</text>
<line x1="1318.28" y1="2984.5" x2="1318.28" y2="2991.5" stroke="#333" stroke-width="2.6"/>
<text x="1318.28" y="3016.2" font-size="22.8" text-anchor="middle" fill="#4D4D4D" stroke="#4D4D4D">75%</text>
<line x1="1391.20" y1="2984.5" x2="1391.20" y2="2991.5" stroke="#333" stroke-width="2.6"/>
<text x="1391.20" y="3016.2" font-size="22.8" text-anchor="middle" fill="#4D4D4D" stroke="#4D4D4D">100%</text>
<line x1="1432.80" y1="2984.5" x2="1432.80" y2="2991.5" stroke="#333" stroke-width="2.6"/>
<text x="1432.80" y="3016.2" font-size="22.8" text-anchor="middle" fill="#4D4D4D" stroke="#4D4D4D">0%</text>
<rect x="1420.20" y="2995" width="36" height="26" fill="#fff"/>
<line x1="1505.73" y1="2984.5" x2="1505.73" y2="2991.5" stroke="#333" stroke-width="2.6"/>
<text x="1505.73" y="3016.2" font-size="22.8" text-anchor="middle" fill="#4D4D4D" stroke="#4D4D4D">25%</text>
<line x1="1578.65" y1="2984.5" x2="1578.65" y2="2991.5" stroke="#333" stroke-width="2.6"/>
<text x="1578.65" y="3016.2" font-size="22.8" text-anchor="middle" fill="#4D4D4D" stroke="#4D4D4D">50%</text>
<line x1="1651.58" y1="2984.5" x2="1651.58" y2="2991.5" stroke="#333" stroke-width="2.6"/>
<text x="1651.58" y="3016.2" font-size="22.8" text-anchor="middle" fill="#4D4D4D" stroke="#4D4D4D">75%</text>
<line x1="1724.50" y1="2984.5" x2="1724.50" y2="2991.5" stroke="#333" stroke-width="2.6"/>
<text x="1724.50" y="3016.2" font-size="22.8" text-anchor="middle" fill="#4D4D4D" stroke="#4D4D4D">100%</text>
<line x1="1766.10" y1="2984.5" x2="1766.10" y2="2991.5" stroke="#333" stroke-width="2.6"/>
<text x="1766.10" y="3016.2" font-size="22.8" text-anchor="middle" fill="#4D4D4D" stroke="#4D4D4D">0%</text>
<rect x="1753.50" y="2995" width="36" height="26" fill="#fff"/>
<line x1="1839.03" y1="2984.5" x2="1839.03" y2="2991.5" stroke="#333" stroke-width="2.6"/>
<text x="1839.03" y="3016.2" font-size="22.8" text-anchor="middle" fill="#4D4D4D" stroke="#4D4D4D">25%</text>
<line x1="1911.95" y1="2984.5" x2="1911.95" y2="2991.5" stroke="#333" stroke-width="2.6"/>
<text x="1911.95" y="3016.2" font-size="22.8" text-anchor="middle" fill="#4D4D4D" stroke="#4D4D4D">50%</text>
<line x1="1984.88" y1="2984.5" x2="1984.88" y2="2991.5" stroke="#333" stroke-width="2.6"/>
<text x="1984.88" y="3016.2" font-size="22.8" text-anchor="middle" fill="#4D4D4D" stroke="#4D4D4D">75%</text>
<line x1="2057.80" y1="2984.5" x2="2057.80" y2="2991.5" stroke="#333" stroke-width="2.6"/>
<text x="2057.80" y="3016.2" font-size="22.8" text-anchor="middle" fill="#4D4D4D" stroke="#4D4D4D">100%</text>
<text x="1078.5" y="3047.5" font-size="28.5" text-anchor="middle" fill="#000" stroke="#000">Human Origins co−ancestry proportion</text>
</g>
</svg>
</body></html>
